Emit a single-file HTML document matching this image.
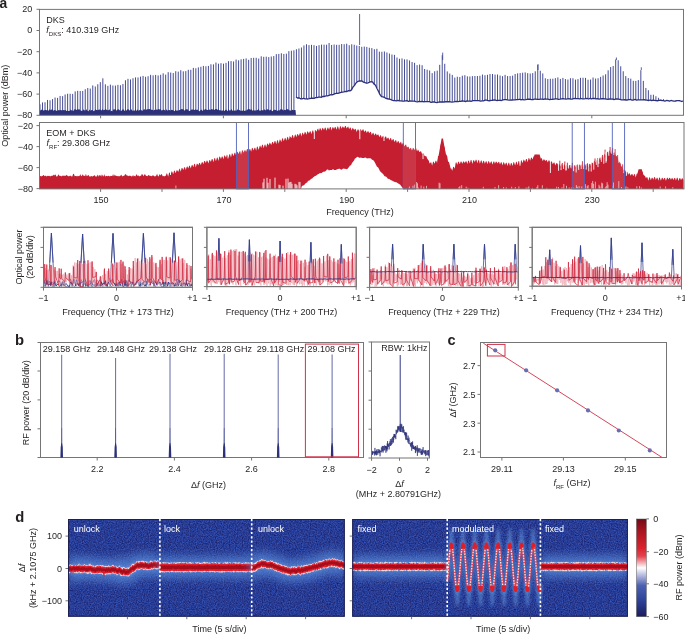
<!DOCTYPE html>
<html><head><meta charset="utf-8"><style>
html,body{margin:0;padding:0;background:#fff;overflow:hidden;width:685px;height:635px;}
svg{display:block;will-change:transform;}
text{font-family:"Liberation Sans", sans-serif;}
</style></head><body>
<svg width="685" height="635" viewBox="0 0 685 635" font-family='"Liberation Sans", sans-serif'>
<rect width="685" height="635" fill="#fff"/>
<text x="-0.5" y="7.9" font-size="13.8" font-weight="bold" fill="#231f20">a</text>
<path d="M39.98 111V104.3M42.5 111V102.46M45.01 111V102.24M47.53 111V99.95M50.04 111V100.28M52.55 111V99.09M55.07 111V97.57M57.58 111V97.87M60.1 111V95.96M62.61 111V96.13M65.12 111V94.48M67.64 111V93.75M70.15 111V93.77M72.67 111V93.92M75.18 111V91.41M77.69 111V90.84M80.21 111V90.99M82.72 111V90.94M85.24 111V89.23M87.75 111V87.98M90.26 111V88.55M92.78 111V85.44M95.29 111V86.51M97.81 111V84.26M100.32 111V82.16M102.83 111V78.31M105.35 111V84.3M107.86 111V85.86M110.38 111V84.62M112.89 111V85.51M115.4 111V85.58M117.92 111V84.87M120.43 111V85.22M122.95 111V83.98M125.46 111V80.29M127.97 111V78.84M130.49 111V79.41M133 111V78.23M135.52 111V77.38M138.03 111V77.46M140.54 111V76.62M143.06 111V75.94M145.57 111V76.81M148.09 111V76.27M150.6 111V74.86M153.11 111V75.34M155.63 111V74.91M158.14 111V75.43M160.66 111V74.76M163.17 111V73.33M165.68 111V74.63M168.2 111V72.2M170.71 111V72.56M173.23 111V73.01M175.74 111V71.2M178.25 111V71.64M180.77 111V70.2M183.28 111V71.35M185.8 111V71.08M188.31 111V69.82M190.82 111V69.81M193.34 111V67.89M195.85 111V68.22M198.37 111V67.4M200.88 111V66.79M203.39 111V65.91M205.91 111V66.26M208.42 111V65.93M210.94 111V64.3M213.45 111V64.38M215.96 111V62.55M218.48 111V63.71M220.99 111V63.2M223.51 111V63.66M226.02 111V62.87M228.53 111V61.2M231.05 111V61.09M233.56 111V61.46M236.08 111V59.59M238.59 111V60.33M241.1 111V59.32M243.62 111V58.88M246.13 111V58.42M248.65 111V59.81M251.16 111V57.94M253.67 111V57.84M256.19 111V57.81M258.7 111V58.59M261.22 111V56.31M263.73 111V56.82M266.24 111V56.68M268.76 111V57.11M271.27 111V56.5M273.79 111V56.07M276.3 111V54.13M278.81 111V53.93M281.33 111V53.26M283.84 111V53.99M286.36 111V53.63M288.87 111V51.16M291.38 111V50.69M293.9 111V50.29M296.41 97.4V49.26M298.93 98.03V48.5M301.44 98.44V47.49M303.95 98.7V45.45M306.47 98.72V44.23M308.98 98.57V45.08M311.5 98.43V44.82M314.01 98.1V45.15M316.52 97.72V45.93M319.04 97.34V45.16M321.55 96.87V44.6M324.07 96.34V44.7M326.58 95.8V44.7M329.09 95.27V43.06M331.61 94.73V44.95M334.12 94.19V44.52M336.64 93.63V44.82M339.15 93.07V44.81M341.66 92.5V44.02M344.18 91.93V44.21M346.69 91.37V43.68M349.21 90.8V45.16M351.72 89.31V44.25M354.23 85.5V44.73M356.75 81.68V45.54M359.26 81.16V45.9M361.78 81.01V46.79M364.29 82.19V46.57M366.8 83.33V46.91M369.32 82.49V47.74M371.83 81.66V48.08M374.35 84.18V49.18M376.86 87.9V48.84M379.37 93.47V51.63M381.89 96.76V51.78M384.4 97.51V51.44M386.92 98.26V52.46M389.43 99.02V53.56M391.94 99.77V54.52M394.46 100.53V54.86M396.97 100.69V57.51M399.49 100.78V58.78M402 100.87V58.43M404.51 100.97V59.38M407.03 101.06V59.41M409.54 101.16V60.44M412.06 101.25V62.01M414.57 101.35V62.82M417.08 101.44V65.17M419.6 101.53V64.56M422.11 101.63V65.22M424.63 101.72V68.99M427.14 101.82V69.69M429.65 101.91V70.48M432.17 102.01V73.14M434.68 102.1V71.25M437.2 102.19V70.65M439.71 102.29V64.82M442.22 102.2V55.23M444.74 102.09V63.82M447.25 101.99V71.41M449.77 101.88V73.53M452.28 101.77V74.92M454.79 101.66V77.57M457.31 101.55V76.73M459.82 101.44V77.05M462.34 101.33V75.71M464.85 101.22V75.18M467.36 101.11V76.33M469.88 101.01V76.48M472.39 100.93V76.13M474.91 100.86V76M477.42 100.79V76.01M479.93 100.72V75.8M482.45 100.65V74.55M484.96 100.58V75.23M487.48 100.51V74.82M489.99 100.44V74.02M492.5 100.37V73.99M495.02 100.3V74.58M497.53 100.23V74.51M500.05 100.16V75.53M502.56 100.09V76.15M505.07 100.02V74.9M507.59 99.95V76.06M510.1 99.88V76.04M512.62 99.81V75.67M515.13 99.74V73.97M517.64 99.67V73.33M520.16 99.6V73.06M522.67 99.56V72.69M525.19 99.53V72.42M527.7 99.49V73.14M530.21 99.46V73.51M532.73 99.42V73.08M535.24 99.39V71.31M537.76 99.35V65.02M540.27 99.31V70.77M542.78 99.28V73.44M545.3 99.24V78.25M547.81 99.21V79.03M550.33 99.17V78.76M552.84 99.14V78.73M555.35 99.1V78.12M557.87 99.07V77.45M560.38 99.03V78.95M562.9 99V77.9M565.41 98.96V79.07M567.92 98.93V79.52M570.44 98.89V78.19M572.95 98.85V78.24M575.47 98.82V79.6M577.98 98.78V79.11M580.49 98.75V77.82M583.01 98.71V77.76M585.52 98.68V77.86M588.04 98.64V79.71M590.55 98.61V79.52M593.06 98.66V77.53M595.58 98.73V78.53M598.09 98.8V78.27M600.61 98.87V76.86M603.12 98.95V75.49M605.63 99.02V74.28M608.15 99.09V70.31M610.66 99.16V67.06M613.18 99.23V65.97M615.69 99.31V59.48M618.2 99.38V60.24M620.72 99.45V66.3M623.23 99.52V71.24M625.75 99.59V76.08M628.26 99.66V78.05M630.77 99.74V78.65M633.29 99.81V80.82M635.8 99.88V80.96M638.32 99.95V80.08M640.83 100.02V70.2M643.34 100.09V80.88M645.86 100.16V87.98M648.37 100.23V90.23M650.89 100.3V94.78M653.4 100.37V94.71M655.91 100.44V96.23M658.43 100.51V97.8M660.94 100.58V99.7M663.46 100.65V99.14M676.03 101.01V100.02" stroke="#303888" stroke-width="0.9" fill="none"/>
<path d="M359.6 45V14M442.7 60V52.6M538 70V64M616.4 60V57.5M641.3 70V67.3" stroke="#3d4592" stroke-width="0.85" fill="none"/>
<path d="M39.5 115.3L39.5 109.01L40.5 110.76L41.5 109.38L42.5 110.04L43.5 110.6L44.5 110.22L45.5 109.72L46.5 110.14L47.5 110.22L48.5 110.73L49.5 109.23L50.5 110.23L51.5 109.55L52.5 109.61L53.5 110.7L54.5 110.12L55.5 110.24L56.5 110.67L57.5 111.01L58.5 109.98L59.5 110.35L60.5 110.11L61.5 110.13L62.5 110.52L63.5 110L64.5 110.17L65.5 110.05L66.5 111.07L67.5 110.54L68.5 110.93L69.5 111.07L70.5 109.57L71.5 110.23L72.5 111.08L73.5 110.85L74.5 109.3L75.5 109.27L76.5 109.97L77.5 109.16L78.5 109.53L79.5 109.16L80.5 110.47L81.5 110.72L82.5 110.97L83.5 109.34L84.5 110.58L85.5 110.45L86.5 109.31L87.5 110.94L88.5 111.13L89.5 109.48L90.5 111.1L91.5 109.88L92.5 110.07L93.5 111.18L94.5 110.83L95.5 109.36L96.5 109.95L97.5 110.13L98.5 109.75L99.5 109.43L100.5 109.7L101.5 110.59L102.5 109.04L103.5 110.22L104.5 109.97L105.5 109.04L106.5 109.73L107.5 110.37L108.5 110.13L109.5 109.14L110.5 111.17L111.5 110.73L112.5 111.14L113.5 109.23L114.5 109.58L115.5 109.09L116.5 110.71L117.5 109.59L118.5 109.29L119.5 109.93L120.5 111.01L121.5 110.8L122.5 109.57L123.5 109.33L124.5 111.02L125.5 110.26L126.5 110.54L127.5 109.2L128.5 109.13L129.5 110.51L130.5 109.94L131.5 109.16L132.5 111.06L133.5 110.4L134.5 110.76L135.5 109.18L136.5 110.88L137.5 109.15L138.5 110.9L139.5 110L140.5 109.75L141.5 110.22L142.5 111.04L143.5 109.59L144.5 109.28L145.5 110.16L146.5 109.52L147.5 109.24L148.5 109.36L149.5 109.11L150.5 109.44L151.5 109.69L152.5 109.67L153.5 110.67L154.5 109.64L155.5 110.1L156.5 109.39L157.5 109.76L158.5 109.04L159.5 109.55L160.5 109.03L161.5 110.61L162.5 110.21L163.5 109.42L164.5 110.04L165.5 111.06L166.5 109.23L167.5 110.8L168.5 109.95L169.5 110.09L170.5 110.84L171.5 109.86L172.5 110.11L173.5 110.51L174.5 111.16L175.5 109.75L176.5 110.83L177.5 110.55L178.5 110.4L179.5 109.89L180.5 109.76L181.5 109.12L182.5 109.29L183.5 109.16L184.5 110.63L185.5 109.56L186.5 109.36L187.5 109.19L188.5 110.85L189.5 110.92L190.5 110.48L191.5 109.62L192.5 109.53L193.5 109.64L194.5 110.01L195.5 109.35L196.5 109.98L197.5 109.58L198.5 111.12L199.5 111.14L200.5 110.2L201.5 109.54L202.5 111.12L203.5 109.68L204.5 109.78L205.5 109L206.5 109.84L207.5 110.04L208.5 110.11L209.5 109.44L210.5 110.11L211.5 109.01L212.5 109.58L213.5 109.2L214.5 109.88L215.5 109.09L216.5 109.05L217.5 109.67L218.5 109.51L219.5 110.29L220.5 110.16L221.5 110.65L222.5 110.45L223.5 110.58L224.5 110.93L225.5 109.86L226.5 109.72L227.5 111.17L228.5 109.33L229.5 110.59L230.5 110.42L231.5 109.1L232.5 110.84L233.5 110.96L234.5 110.38L235.5 110.61L236.5 110.79L237.5 109.31L238.5 110.15L239.5 110.11L240.5 110.84L241.5 110.77L242.5 110.82L243.5 110.28L244.5 110.96L245.5 110.5L246.5 110.53L247.5 109.51L248.5 109.07L249.5 109.29L250.5 109.79L251.5 109.23L252.5 110.84L253.5 110.23L254.5 110.38L255.5 110.38L256.5 110.5L257.5 110.08L258.5 109.01L259.5 110.75L260.5 110.65L261.5 110.11L262.5 110.18L263.5 110.45L264.5 109.15L265.5 110.62L266.5 109.55L267.5 109.16L268.5 109.58L269.5 110.6L270.5 109.45L271.5 110.63L272.5 111.15L273.5 110.09L274.5 109.84L275.5 110.05L276.5 110.5L277.5 110.69L278.5 110.36L279.5 110.41L280.5 109.17L281.5 109.32L282.5 109.56L283.5 110.64L284.5 109.67L285.5 110.25L286.5 109.03L287.5 109.13L288.5 109.59L289.5 110.48L290.5 110.52L291.5 110.49L292.5 109.64L293.5 110.14L294.5 110.02L295.5 110.03L296 115.3Z" fill="#2b3079"/>
<path d="M296 96.99L297.5 97.99L299 97.81L300.5 98.73L302 98.85L303.5 98.26L305 98.77L306.5 98.97L308 99L309.5 98.5L311 98.27L312.5 98.09L314 98.46L315.5 97.64L317 97.72L318.5 97.14L320 97.22L321.5 97.24L323 96.27L324.5 96.5L326 95.93L327.5 95.92L329 95.45L330.5 94.75L332 94.96L333.5 94.31L335 93.62L336.5 93.27L338 93.32L339.5 92.95L341 92.49L342.5 92.03L344 91.85L345.5 91.49L347 91.57L348.5 90.56L350 90.83L351.5 89.91L353 87.06L354.5 85.43L356 82.99L357.5 81.59L359 81.01L360.5 80.99L362 80.91L363.5 82.18L365 82.64L366.5 83.24L368 82.88L369.5 82.25L371 81.57L372.5 81.83L374 84.07L375.5 85.28L377 88.56L378.5 91.33L380 94.66L381.5 96.65L383 96.84L384.5 97.44L386 98.35L387.5 98.75L389 99.14L390.5 99.44L392 100.12L393.5 100.59L395 100.65L396.5 100.84L398 100.36L399.5 100.97L401 100.8L402.5 101.09L404 101.06L405.5 100.83L407 100.7L408.5 101.46L410 100.88L411.5 101.21L413 101.16L414.5 101.18L416 101.59L417.5 101.84L419 101.32L420.5 101.69L422 101.47L423.5 101.73L425 101.65L426.5 101.53L428 101.58L429.5 101.67L431 102.29L432.5 102.02L434 101.85L435.5 102.46L437 102.58L438.5 102.2L440 102.01L441.5 101.99L443 101.84L444.5 101.98L446 101.71L447.5 101.77L449 101.72L450.5 101.9L452 102.09L453.5 101.91L455 101.58L456.5 101.52L458 101.54L459.5 101.36L461 101.26L462.5 100.97L464 101.08L465.5 101.57L467 100.83L468.5 101.07L470 101.1L471.5 101.25L473 100.69L474.5 100.69L476 100.63L477.5 100.71L479 100.7L480.5 101.07L482 100.94L483.5 100.92L485 100.2L486.5 100.16L488 100.66L489.5 100.77L491 100.39L492.5 100.44L494 99.93L495.5 100.2L497 100.59L498.5 100.46L500 100.44L501.5 100.5L503 99.87L504.5 99.72L506 99.72L507.5 99.97L509 100.05L510.5 100.22L512 100L513.5 99.9L515 99.95L516.5 99.66L518 99.7L519.5 99.25L521 99.81L522.5 99.35L524 99.88L525.5 99.64L527 99.34L528.5 99.18L530 99.26L531.5 99.55L533 99.58L534.5 99.09L536 99.03L537.5 99.37L539 99.4L540.5 99.22L542 99.07L543.5 99.35L545 98.86L546.5 99.07L548 99.17L549.5 99.55L551 99.28L552.5 99.45L554 99.1L555.5 98.89L557 98.88L558.5 99.43L560 99.2L561.5 98.86L563 98.61L564.5 98.97L566 99.09L567.5 98.87L569 98.72L570.5 99.02L572 99.21L573.5 98.63L575 98.45L576.5 98.67L578 98.72L579.5 98.91L581 98.5L582.5 98.96L584 98.89L585.5 98.68L587 98.42L588.5 99.01L590 98.46L591.5 98.87L593 98.44L594.5 98.48L596 98.95L597.5 98.62L599 99.19L600.5 98.87L602 98.66L603.5 98.74L605 98.93L606.5 99.18L608 99.44L609.5 98.85L611 99.09L612.5 98.98L614 99.64L615.5 99.01L617 98.98L618.5 99.03L620 99.34L621.5 99.79L623 99.82L624.5 99.74L626 100L627.5 99.99L629 99.55L630.5 99.48L632 100.12L633.5 100.01L635 99.48L636.5 100.03L638 99.85L639.5 99.88L641 99.89L642.5 99.81L644 99.71L645.5 99.98L647 100.08L648.5 100.6L650 99.98L651.5 100.69L653 100.13L654.5 100.29L656 100.7L657.5 100.75L659 100.48L660.5 100.21L662 100.59L663.5 100.55L665 101.03L666.5 100.49L668 100.67L669.5 101.14L671 100.49L672.5 100.84L674 101.2L675.5 101.2L677 100.67L678.5 100.7L680 100.77L681.5 101.49L683 101.01" fill="none" stroke="#2b3079" stroke-width="1.3" stroke-linejoin="round"/>
<rect x="39.5" y="9.4" width="644" height="105.9" stroke="#757575" stroke-width="1" fill="none" />
<line x1="36.5" y1="9.3" x2="39.5" y2="9.3" stroke="#757575" stroke-width="1" />
<text x="32.3" y="12.21" font-size="9" text-anchor="end" fill="#231f20" >20</text>
<line x1="36.5" y1="30.5" x2="39.5" y2="30.5" stroke="#757575" stroke-width="1" />
<text x="32.3" y="33.41" font-size="9" text-anchor="end" fill="#231f20" >0</text>
<line x1="36.5" y1="51.7" x2="39.5" y2="51.7" stroke="#757575" stroke-width="1" />
<text x="32.3" y="54.61" font-size="9" text-anchor="end" fill="#231f20" >−20</text>
<line x1="36.5" y1="72.9" x2="39.5" y2="72.9" stroke="#757575" stroke-width="1" />
<text x="32.3" y="75.81" font-size="9" text-anchor="end" fill="#231f20" >−40</text>
<line x1="36.5" y1="94.1" x2="39.5" y2="94.1" stroke="#757575" stroke-width="1" />
<text x="32.3" y="97.01" font-size="9" text-anchor="end" fill="#231f20" >−60</text>
<line x1="36.5" y1="115.3" x2="39.5" y2="115.3" stroke="#757575" stroke-width="1" />
<text x="32.3" y="118.21" font-size="9" text-anchor="end" fill="#231f20" >−80</text>
<line x1="100.6" y1="115.3" x2="100.6" y2="118.3" stroke="#757575" stroke-width="1" />
<line x1="223.4" y1="115.3" x2="223.4" y2="118.3" stroke="#757575" stroke-width="1" />
<line x1="346.2" y1="115.3" x2="346.2" y2="118.3" stroke="#757575" stroke-width="1" />
<line x1="469" y1="115.3" x2="469" y2="118.3" stroke="#757575" stroke-width="1" />
<line x1="591.8" y1="115.3" x2="591.8" y2="118.3" stroke="#757575" stroke-width="1" />
<text x="46.3" y="22.6" font-size="9" text-anchor="start" fill="#231f20" >DKS</text>
<text x="46.3" y="33.4" font-size="9" fill="#231f20"><tspan font-style="italic">f</tspan><tspan font-size="6" dy="2.4">DKS</tspan><tspan dy="-2.4">: 410.319 GHz</tspan></text>
<path d="M39.5 188.9L39.5 176.59L40.3 175.89L41.1 176.26L41.9 176.36L42.7 175.87L43.5 174.72L44.3 176.25L45.1 175.57L45.9 176.06L46.7 176.58L47.5 175.8L48.3 176.06L49.1 175.71L49.9 176.31L50.7 176.34L51.5 175.84L52.3 175.87L53.1 175.55L53.9 174.61L54.7 175.52L55.5 174.32L56.3 176.51L57.1 176.51L57.9 175.51L58.7 174.21L59.5 175.9L60.3 175.86L61.1 176.15L61.9 176.35L62.7 175.55L63.5 175.75L64.3 175.84L65.1 175.66L65.9 175.71L66.7 174.79L67.5 175.82L68.3 176.55L69.1 175.72L69.9 176.19L70.7 175.59L71.5 176.39L72.3 176.5L73.1 174.01L73.9 173.87L74.7 176.15L75.5 175.93L76.3 176.02L77.1 176.38L77.9 175.65L78.7 176.22L79.5 175.95L80.3 173.94L81.1 176.22L81.9 175.79L82.7 174.13L83.5 175.78L84.3 175.81L85.1 176.19L85.9 173.84L86.7 176.21L87.5 175.71L88.3 174.69L89.1 175.93L89.9 176.67L90.7 176.25L91.5 176.09L92.3 176.74L93.1 175.87L93.9 175.88L94.7 175.02L95.5 176.57L96.3 176.64L97.1 175.86L97.9 174.56L98.7 176.69L99.5 174.67L100.3 176.25L101.1 174.19L101.9 176.71L102.7 174.47L103.5 176.74L104.3 173.95L105.1 176.74L105.9 175.72L106.7 176.08L107.5 176.33L108.3 175.82L109.1 175.88L109.9 176.56L110.7 175.83L111.5 176.06L112.3 176.04L113.1 174.06L113.9 176.59L114.7 174.49L115.5 175.64L116.3 175.72L117.1 176.19L117.9 175.92L118.7 176.22L119.5 176.29L120.3 176.05L121.1 174.53L121.9 175.81L122.7 176.41L123.5 175.74L124.3 175.66L125.1 174.24L125.9 174.25L126.7 175.57L127.5 175.61L128.3 176.37L129.1 175.57L129.9 175.92L130.7 175.64L131.5 176.58L132.3 176.37L133.1 174.94L133.9 176.51L134.7 175.63L135.5 176.47L136.3 174.03L137.1 175.6L137.9 175.72L138.7 175.57L139.5 176.42L140.3 175.69L141.1 175.74L141.9 173.74L142.7 174.78L143.5 176.35L144.3 174.56L145.1 174.19L145.9 175.74L146.7 175.94L147.5 176.3L148.3 174.81L149.1 175.74L149.9 175.59L150.7 175.96L151.5 176.18L152.3 175.56L153.1 175.44L153.9 175.69L154.7 176.52L155.5 176.19L156.3 175.48L157.1 173.81L157.9 176L158.7 176.53L159.5 173.99L160.3 175.62L161.1 174.21L161.9 174.24L162.7 176.3L163.5 175.91L164.3 176.38L165.1 175.7L165.9 175.7L166.55 173.14L167.25 173.68L168.15 176.81L169.06 172.76L169.76 172.38L170.66 174.65L171.58 171.14L172.28 171.77L173.18 174.34L174.09 170.62L174.79 170.92L175.69 173.27L176.61 170.35L177.31 170.15L178.21 172.06L179.12 169.46L179.82 168.6L180.72 171.72L181.63 168.11L182.33 167.94L183.23 170.01L184.15 167.63L184.85 166.86L185.75 170.04L186.66 166.94L187.36 166.14L188.26 168.56L189.18 165.86L189.88 165.76L190.78 168.61L191.69 165.32L192.39 164.68L193.29 167.27L194.2 164.06L194.9 163.81L195.8 167.56L196.72 163.8L197.42 163.74L198.32 165.23L199.23 163.12L199.93 163.02L200.83 165.31L201.75 162.27L202.45 161.98L203.35 164.14L204.26 160.89L204.96 161.02L205.86 163.06L206.77 160.38L207.47 160.79L208.37 163.49L209.29 160.14L209.99 160.01L210.89 161.98L211.8 159.11L212.5 158.99L213.4 162.18L214.32 158.36L215.02 158.1L215.92 161.19L216.83 158.08L217.53 157.33L218.43 160.9L219.34 156.41L220.04 156.66L220.94 159.02L221.86 156.42L222.56 156.62L223.46 159.22L224.37 155.28L225.07 155.84L225.97 157.75L226.89 154.48L227.59 155.14L228.49 157.57L229.4 154.21L230.1 154.18L231 157.48L231.91 153.27L232.61 153.64L233.51 156.25L234.43 152.97L235.13 152.55L236.03 155.61L236.94 152.06L237.64 151.8L238.54 154.07L239.46 151.49L240.16 150.95L241.06 154.71L241.97 150.39L242.67 150.27L243.57 152.64L244.48 150.56L245.18 149.97L246.08 152.08L247 149.04L247.7 149.05L248.6 152.45L249.51 148.98L250.21 149.04L251.11 151.87L252.03 147.67L252.73 148.19L253.63 150.45L254.54 147.67L255.24 147.68L256.14 150.66L257.05 146.18L257.75 146.98L258.65 149.96L259.57 146.31L260.27 145.48L261.17 147.94L262.08 144.74L262.78 144.66L263.68 148.35L264.6 144.69L265.3 144.51L266.2 147.57L267.11 143.77L267.81 143.42L268.71 145.52L269.62 142.49L270.32 143.15L271.22 144.96L272.14 141.97L272.84 142.07L273.74 143.89L274.65 141.09L275.35 141.12L276.25 144.32L277.17 140.28L277.87 140.23L278.77 143.85L279.68 139.49L280.38 139.84L281.28 142.3L282.19 138.23L282.89 138.61L283.79 141.18L284.71 138.18L285.41 137.75L286.31 140.87L287.22 137.15L287.92 136.83L288.82 140.36L289.74 135.91L290.44 136.63L291.34 138.32L292.25 135.02L292.95 135.22L293.85 138.59L294.76 135.21L295.46 134.23L296.36 137.31L297.28 133.92L297.98 134.23L298.88 135.97L299.79 133.25L300.49 133.1L301.39 136.45L302.31 132.46L303.01 133.15L303.91 134.91L304.82 131.87L305.52 132.36L306.42 134.75L307.33 131.22L308.03 131.75L308.93 133.46L309.85 131.35L310.55 131.26L311.45 134.18L312.36 130.64L313.06 130.37L313.96 132.94L314.88 129.69L315.58 130.19L316.48 131.65L317.39 129.36L318.09 128.5L318.99 131.04L319.9 127.91L320.6 128.55L321.5 130.75L322.42 127.65L323.12 128.16L324.02 129.9L324.93 127.56L325.63 127.63L326.53 130.65L327.45 127.67L328.15 127.56L329.05 129.75L329.96 127.07L330.66 126.9L331.56 130.46L332.47 127.22L333.17 127.3L334.07 129.07L334.99 126.82L335.69 127.16L336.59 129.63L337.5 126.33L338.2 126.67L339.1 130L340.02 126.27L340.72 126.22L341.62 128.77L342.53 126.55L343.23 126.69L344.13 128.33L345.04 125.95L345.74 126.04L346.64 128.58L347.56 126.93L348.26 126.57L349.16 129.2L350.07 127.21L350.77 128L351.67 130.54L352.59 127.74L353.29 128.6L354.19 130.02L355.1 128.64L355.8 129.23L356.7 131.88L357.61 129.53L358.31 129.23L359.21 131.35L360.13 129.44L360.83 128.91L361.73 131.37L362.64 129.55L363.34 129.19L364.24 132.08L365.16 130.71L365.86 130.61L366.76 133.02L367.67 131.31L368.37 131.14L369.27 133.13L370.18 132.04L370.88 131.84L371.78 134.97L372.7 133.1L373.4 132.63L374.3 135.43L375.21 133.7L375.91 133.38L376.81 135.57L377.73 134.44L378.43 134.6L379.33 137.31L380.24 135.17L380.94 135.33L381.84 137.9L382.75 135.92L383.45 135.73L384.35 138.04L385.27 136.75L385.97 136.22L386.87 139.08L387.78 137.76L388.48 137.69L389.38 140.31L390.3 138.08L391 138.25L391.9 140.85L392.81 139.3L393.51 139.09L394.41 142.09L395.32 140.49L396.02 139.74L396.92 142.94L397.84 141.31L398.54 140.92L399.44 143.62L400.35 142.48L401.05 141.55L401.95 144.69L402.87 142.72L403.57 143.34L404.47 146.45L405.38 144.87L406.08 144.45L406.98 147.58L407.89 146.69L408.59 146.86L409.49 149.27L410.41 148.04L411.11 148.23L412.01 150.54L412.92 147.81L413.62 148.35L414.52 149.98L415.44 148.57L416.14 148.28L417.04 151.46L417.95 149.57L418.65 150.43L419.55 152.29L420.46 151.16L421.16 151.38L422.06 154.02L422.98 152.98L423.68 153.38L424.58 155.92L425.49 156.26L426.19 155.92L427.09 158.24L428.01 159.86L428.71 160.38L429.61 163.53L430.52 162.6L431.22 162.29L432.12 165.72L433.03 161.81L433.73 161.63L434.63 163.85L435.55 160.67L436.25 160.7L437.15 163.23L438.06 155.85L438.76 155.95L439.66 157.99L440.58 144.66L441.28 144.05L442.18 147.04L443.09 145.47L443.79 145.47L444.69 147.69L445.6 154.16L446.3 154.41L447.2 156.29L448.12 161.94L448.82 161.47L449.72 164.84L450.63 168.42L451.33 168.53L452.23 170.81L453.15 167.09L453.85 166.85L454.75 168.87L455.66 162.76L456.36 162.32L457.26 164.68L458.17 161.69L458.87 161.86L459.77 164.36L460.69 161.55L461.39 161.57L462.29 163.76L463.2 161.61L463.9 161.54L464.8 162.99L465.72 161.29L466.42 161.37L467.32 164.07L468.23 160.38L468.93 161.07L469.83 163.58L470.74 160.03L471.44 160.03L472.34 163.93L473.26 160.45L473.96 160.04L474.86 162.18L475.77 159.77L476.47 159.86L477.37 163.22L478.29 160.18L478.99 159.99L479.89 163.67L480.8 160.84L481.5 160.22L482.4 163.85L483.31 160.87L484.01 161.04L484.91 163.66L485.83 161.37L486.53 161.26L487.43 164.18L488.34 160.88L489.04 161.38L489.94 163.84L490.86 161.64L491.56 161.33L492.46 164.68L493.37 161.66L494.07 161.37L494.97 163.73L495.88 161.46L496.58 161.81L497.48 163.62L498.4 162L499.1 161.67L500 164.61L500.91 162.24L501.61 162.28L502.51 165.49L503.43 161.96L504.13 162.79L505.03 164.99L505.94 162.72L506.64 162.83L507.54 165.88L508.45 162.75L509.15 162.79L510.05 166.3L510.97 162.66L511.67 163.22L512.57 165.93L513.48 162L514.18 162.58L515.08 165.4L516 162.22L516.7 161.62L517.6 165.26L518.51 161.12L519.21 161.1L520.11 164.43L521.02 159.97L521.72 160.65L522.62 163.26L523.54 159.59L524.24 160.11L525.14 162.11L526.05 159.05L526.75 159.1L527.65 162.16L528.57 158.1L529.27 158.33L530.17 160.85L531.08 157.44L531.78 157.71L532.68 159.61L533.59 156.46L534.29 156.03L535.19 158.73L536.11 154.64L536.81 154.88L537.71 158.33L538.62 157.26L539.32 157.39L540.22 159.4L541.14 158.32L541.84 158.31L542.74 161.26L543.65 159.33L544.35 159.48L545.25 160.97L546.16 160.11L546.86 160.27L547.76 162.57L548.68 160.19L549.38 160.44L550.28 162.36L551.19 161.13L551.89 161.86L552.79 164.23L553.71 162.39L554.41 162.52L555.31 165.57L556.22 163.13L556.92 163.14L557.82 165.85L558.73 164.01L559.43 163.91L560.33 166.74L561.25 163.99L561.95 164.45L562.85 166.81L563.76 164.83L564.46 164.17L565.36 166.59L566.28 164.39L566.98 165.13L567.88 168.2L568.79 165.3L569.49 165.01L570.39 168.32L571.3 165.71L572 165.49L572.9 167.59L573.82 165.11L574.52 165.23L575.42 167.58L576.33 164.99L577.03 165.2L577.93 168.44L578.85 164.35L579.55 164.87L580.45 166.57L581.36 164.16L582.06 164.85L582.96 167.28L583.87 164.71L584.57 164.23L585.47 166.01L586.39 163.92L587.09 164.12L587.99 167.42L588.9 164.26L589.6 163.75L590.5 166.22L591.42 162.31L592.12 162.86L593.02 164.79L593.93 160.95L594.63 160.82L595.53 163.01L596.44 160.08L597.14 159.52L598.04 163.33L598.96 158.08L599.66 158.86L600.56 160.42L601.47 156.02L602.17 156.73L603.07 158.64L603.99 154.54L604.69 153.99L605.59 156.1L606.5 152.38L607.2 152.32L608.1 155.35L609.01 150.99L609.71 150.34L610.61 153.59L611.53 150.34L612.23 150.09L613.13 153.51L614.04 152.1L614.74 152.81L615.64 155.33L616.56 156.17L617.26 156.17L618.16 159.53L619.07 162.21L619.77 161.47L620.67 164.15L621.58 166.55L622.28 165.99L623.18 169.57L624.1 170.24L624.8 169.81L625.7 172.62L626.61 171.89L627.31 171.75L628.21 174.73L629.13 173.02L629.83 173.67L630.73 175.73L631.64 173.98L632.34 173.96L633.24 176.29L634.15 173.89L634.85 174.29L635.75 177.4L636.67 173.63L637.37 173.41L638.27 175.57L639.18 171.03L639.88 171.95L640.78 174.44L641.7 172L642.4 171.51L643.3 174.47L644.21 175.7L644.91 175.55L645.81 178L646.72 177.14L647.42 177.26L648.32 180.63L649.24 177.26L649.94 177.57L650.84 180.17L651.75 177.83L652.45 177.74L653.35 179.65L654.27 176.99L654.97 177.25L655.87 179.95L656.78 177.63L657.48 177.86L658.38 180.84L659.29 177.14L659.99 177.93L660.89 180.76L661.81 178.02L662.51 177.72L663.41 179.84L664.32 178.05L665.02 178.01L665.92 180.63L666.84 178.17L667.54 177.6L668.44 179.61L669.35 177.86L670.05 178.11L670.95 179.87L671.86 178.11L672.56 178.29L673.46 179.98L674.38 178.02L675.08 178.09L675.98 180.45L676.89 177.67L677.59 177.72L678.49 181.02L679.41 178.31L680.11 177.98L681.01 179.88L681.92 178.38L682.62 178.35L683.52 180.19L683.5 188.9L404 188.9L404 189L403 188.28L402 187.16L401 185.63L400 184.47L399 184.11L398 183.13L397 182.63L396 182.12L395 182.24L394 181.42L393 181.24L392 180.62L391 180.34L390 179.48L389 178.63L388 179.06L387 177.59L386 176.55L385 176.46L384 175.62L383 173.85L382 173.36L381 172.03L380 171.22L379 168.92L378 167.24L377 166.69L376 164.84L375 162.68L374 161.08L373 159.91L372 159.74L371 158.51L370 158.34L369 158.19L368 158.33L367 158.58L366 157.8L365 157.61L364 157.88L363 157.93L362 157.89L361 157.55L360 157.76L359 157.75L358 156.86L357 157.05L356 157.94L355 158.41L354 160.54L353 161.79L352 162.95L351 165.24L350 165.54L349 167.06L348 168.3L347 169.28L346 169L345 168.73L344 168.86L343 168.58L342 169.61L341 169.7L340 168.84L339 168.69L338 169.01L337 169.19L336 169.91L335 169.98L334 169.96L333 169.08L332 170.03L331 170L330 169.99L329 170.46L328 169.4L327 169.57L326 170.82L325 171.55L324 171.74L323 171.8L322 172.66L321 173.37L320 173.1L319 173.87L318 174.3L317 174.65L316 175.74L315 176.07L314 176.86L313 177.45L312 178.8L311 178.71L310 180.26L309 180.4L308 180.97L307 182.81L306 182.72L305 184.34L304 185.03L303 185.82L302 185.69L301 188.84L301 188.9Z" fill="#c41e30" fill-rule="evenodd"/>
<path d="M437.3 163L441.6 138.5L443 138.5L447.3 163Z M532.5 161L534.6 154.5L539.6 154.5L541.5 161Z M636.5 177L638.6 169.3L641.8 169.3L643.8 177Z" fill="#c41e30"/>
<path d="M558.55 160.15V170.79M561.06 160.94V170.08M563.58 161.26V168.96M566.09 161.55V169.94M568.61 161.84V168.55M571.12 162.12V168.41M573.63 162.39V171.16M576.15 162.14V172.49M578.66 161.88V169.94M581.18 161.62V168.98M583.69 161.37V169.04M586.2 161.11V169.57M588.72 160.86V171.37M591.23 160.6V171.49M593.75 159.2V169.68M596.26 157.79V164.85M598.77 156.39V163.82M601.29 154.97V161.97M603.8 152.77V163.72M606.32 150.57V161.19M608.83 148.37V155.81M611.34 147.48V153.76M613.86 147.57V155.04M616.37 149.93V156.01M618.89 155.08V162.78M621.4 160.25V166.26M623.91 164.44V173.07M626.43 167.61V175.78" stroke="#fff" stroke-width="0.9" fill="none"/>
<path d="M557.3 167.15V163.66M559.81 167.94V160.73M562.33 168.26V163M564.84 168.55V161.44M567.36 168.84V162.7M569.87 169.12V165.02M572.38 169.39V162.82M574.9 169.14V165.41M577.41 168.88V164.55M579.93 168.62V164.85M582.44 168.37V161.17M584.95 168.11V164.27M587.47 167.86V163.27M589.98 167.6V164.03M592.5 166.2V162.92M595.01 164.79V158.45M597.52 163.39V158M600.04 161.97V157.68M602.55 159.77V154.95M605.07 157.57V149.58M607.58 155.37V151.88M610.09 154.48V147M612.61 154.57V147.94M615.12 156.93V149.03M617.64 162.08V155.04M620.15 167.25V163.55M622.66 171.44V164.28M625.18 174.61V170.68" stroke="#c41e30" stroke-width="0.9" fill="none"/>
<path d="M314.3 129V139M359.8 128.2V139.2M170.5 171.01V175.01M228 153.42V158.42M384 134.98V140.98M423 152.12V159.12M520 159.7V165.7M550.4 159.98V172.98M566 163.68V170.68M598 158.12V167.12M606 151.75V162.75" stroke="#fff" stroke-width="0.9" fill="none"/>
<path d="M263 188.9V182.43M264 188.9V178.71M267 188.9V177.75M268 188.9V182.78M270 188.9V178.96M275 188.9V177.62M279 188.9V184.7M280 188.9V185M283 188.9V185.65M286 188.9V178.77M288 188.9V178.55M289 188.9V182.65M290 188.9V181.94M291 188.9V181.9M292 188.9V183.79M295 188.9V183.76M296 188.9V184.14M297 188.9V185.29M299 188.9V181.88M300 188.9V182.1" stroke="#fff" stroke-width="0.85" fill="none"/>
<path d="M175.9 188.9V185.5M409.4 188.9V186.57M413 188.9V185.78M414.8 188.9V184.56M416.6 188.9V181.97M417.5 188.9V183.27M418.4 188.9V187.5M421.1 188.9V185.57M423.8 188.9V186.55M426.5 188.9V185.88M439.1 188.9V182.68M440 188.9V183.31M459 188.9V186.99M459.9 188.9V186.17M461.7 188.9V185.14M466.2 188.9V186.62M468 188.9V187.76M483.3 188.9V186.78M495 188.9V186.95M498.6 188.9V185.22M503.6 188.9V187.03M506.3 188.9V187.35M511.7 188.9V186.67M515.3 188.9V186.99M518.9 188.9V186.41M526.1 188.9V187.43M527.9 188.9V187.6M528.8 188.9V186.33M532.4 188.9V187.86M536.9 188.9V187.1M537.8 188.9V185.19M542.3 188.9V185.23M546.8 188.9V187.77M556.7 188.9V186.73M558.5 188.9V186.97M562 188.9V187.21M563.8 188.9V184.01M566.5 188.9V185.76M569.2 188.9V187.41M571.9 188.9V187.14M573.7 188.9V187.76M576.4 188.9V185.08M577.3 188.9V186.82M579.1 188.9V186.13M581.8 188.9V186.49M585.4 188.9V184.1M587.2 188.9V186.09M588.1 188.9V185.07M591.8 188.9V183.03M592.7 188.9V180.92M593.6 188.9V183.8M595.4 188.9V181.73M599 188.9V184.78M599.9 188.9V186.48M601.7 188.9V182.6M602.6 188.9V183.4M605.3 188.9V187.37M606.2 188.9V186.09M607.1 188.9V182.17M608 188.9V184.67M612.5 188.9V185.69M613.4 188.9V182.46M618.8 188.9V181.13M621.5 188.9V186.98M625.1 188.9V187.58M626 188.9V186.32M627.8 188.9V187.28M636.8 188.9V186.23M639.5 188.9V186.19M641.3 188.9V187.41M660.2 188.9V186.5M665.6 188.9V186.49M672.8 188.9V187.18" stroke="#fff" stroke-width="0.6" fill="none"/>
<rect x="236.4" y="122.5" width="12.1" height="66.4" fill="#fff" fill-opacity="0.11" stroke="#5263bd" stroke-width="0.9"/>
<rect x="403.3" y="122.5" width="12.2" height="66.4" fill="#fff" fill-opacity="0.11" stroke="#5263bd" stroke-width="0.9"/>
<rect x="572.2" y="122.5" width="12.2" height="66.4" fill="#fff" fill-opacity="0.11" stroke="#5263bd" stroke-width="0.9"/>
<rect x="612.3" y="122.5" width="12.3" height="66.4" fill="#fff" fill-opacity="0.11" stroke="#5263bd" stroke-width="0.9"/>
<rect x="39.5" y="122.5" width="644.5" height="66.4" stroke="#757575" stroke-width="1" fill="none" />
<line x1="36.5" y1="125.6" x2="39.5" y2="125.6" stroke="#757575" stroke-width="1" />
<text x="33" y="128.91" font-size="9" text-anchor="end" fill="#231f20" >−20</text>
<line x1="36.5" y1="146.6" x2="39.5" y2="146.6" stroke="#757575" stroke-width="1" />
<text x="33" y="149.91" font-size="9" text-anchor="end" fill="#231f20" >−40</text>
<line x1="36.5" y1="167.6" x2="39.5" y2="167.6" stroke="#757575" stroke-width="1" />
<text x="33" y="170.91" font-size="9" text-anchor="end" fill="#231f20" >−60</text>
<line x1="36.5" y1="188.6" x2="39.5" y2="188.6" stroke="#757575" stroke-width="1" />
<text x="33" y="191.91" font-size="9" text-anchor="end" fill="#231f20" >−80</text>
<line x1="100.6" y1="188.9" x2="100.6" y2="191.9" stroke="#757575" stroke-width="1" />
<line x1="162" y1="188.9" x2="162" y2="191.9" stroke="#757575" stroke-width="1" />
<line x1="223.4" y1="188.9" x2="223.4" y2="191.9" stroke="#757575" stroke-width="1" />
<line x1="284.8" y1="188.9" x2="284.8" y2="191.9" stroke="#757575" stroke-width="1" />
<line x1="346.2" y1="188.9" x2="346.2" y2="191.9" stroke="#757575" stroke-width="1" />
<line x1="407.6" y1="188.9" x2="407.6" y2="191.9" stroke="#757575" stroke-width="1" />
<line x1="469" y1="188.9" x2="469" y2="191.9" stroke="#757575" stroke-width="1" />
<line x1="530.4" y1="188.9" x2="530.4" y2="191.9" stroke="#757575" stroke-width="1" />
<line x1="591.8" y1="188.9" x2="591.8" y2="191.9" stroke="#757575" stroke-width="1" />
<line x1="653.2" y1="188.9" x2="653.2" y2="191.9" stroke="#757575" stroke-width="1" />
<text x="101.1" y="203.01" font-size="9" text-anchor="middle" fill="#231f20" >150</text>
<text x="223.9" y="203.01" font-size="9" text-anchor="middle" fill="#231f20" >170</text>
<text x="346.7" y="203.01" font-size="9" text-anchor="middle" fill="#231f20" >190</text>
<text x="469.5" y="203.01" font-size="9" text-anchor="middle" fill="#231f20" >210</text>
<text x="592.3" y="203.01" font-size="9" text-anchor="middle" fill="#231f20" >230</text>
<text x="360" y="215.01" font-size="9" text-anchor="middle" fill="#231f20" >Frequency (THz)</text>
<text x="46.3" y="135.6" font-size="9" text-anchor="start" fill="#231f20" >EOM + DKS</text>
<text x="46.6" y="146.3" font-size="9" fill="#231f20"><tspan font-style="italic">f</tspan><tspan font-size="6" dy="2.4">RF</tspan><tspan dy="-2.4">: 29.308 GHz</tspan></text>
<text transform="translate(7.6,105.8) rotate(-90)" font-size="9" text-anchor="middle" fill="#231f20">Optical power (dBm)</text>
<rect x="43.5" y="227.3" width="149" height="60" stroke="#757575" stroke-width="1" fill="none" />
<line x1="40.5" y1="227.3" x2="43.5" y2="227.3" stroke="#757575" stroke-width="1" />
<line x1="40.5" y1="247.4" x2="43.5" y2="247.4" stroke="#757575" stroke-width="1" />
<line x1="40.5" y1="267.4" x2="43.5" y2="267.4" stroke="#757575" stroke-width="1" />
<line x1="40.5" y1="287.3" x2="43.5" y2="287.3" stroke="#757575" stroke-width="1" />
<line x1="43.5" y1="287.3" x2="43.5" y2="290.6" stroke="#757575" stroke-width="1" />
<line x1="116.51" y1="287.3" x2="116.51" y2="290.6" stroke="#757575" stroke-width="1" />
<line x1="192.5" y1="287.3" x2="192.5" y2="290.6" stroke="#757575" stroke-width="1" />
<text x="43.5" y="300.7" font-size="9" text-anchor="middle" fill="#231f20" >−1</text>
<text x="116.51" y="300.7" font-size="9" text-anchor="middle" fill="#231f20" >0</text>
<text x="192.5" y="300.7" font-size="9" text-anchor="middle" fill="#231f20" >+1</text>
<text x="118" y="314.6" font-size="9" text-anchor="middle" fill="#231f20" >Frequency (THz + 173 THz)</text>
<rect x="206.9" y="227.3" width="149.3" height="59.3" stroke="#757575" stroke-width="1" fill="none" />
<line x1="203.9" y1="227.3" x2="206.9" y2="227.3" stroke="#757575" stroke-width="1" />
<line x1="203.9" y1="247.4" x2="206.9" y2="247.4" stroke="#757575" stroke-width="1" />
<line x1="203.9" y1="267.4" x2="206.9" y2="267.4" stroke="#757575" stroke-width="1" />
<line x1="203.9" y1="286.6" x2="206.9" y2="286.6" stroke="#757575" stroke-width="1" />
<line x1="206.9" y1="286.6" x2="206.9" y2="289.9" stroke="#757575" stroke-width="1" />
<line x1="280.06" y1="286.6" x2="280.06" y2="289.9" stroke="#757575" stroke-width="1" />
<line x1="356.2" y1="286.6" x2="356.2" y2="289.9" stroke="#757575" stroke-width="1" />
<text x="206.9" y="300.7" font-size="9" text-anchor="middle" fill="#231f20" >−1</text>
<text x="280.06" y="300.7" font-size="9" text-anchor="middle" fill="#231f20" >0</text>
<text x="356.2" y="300.7" font-size="9" text-anchor="middle" fill="#231f20" >+1</text>
<text x="281.55" y="314.6" font-size="9" text-anchor="middle" fill="#231f20" >Frequency (THz + 200 THz)</text>
<rect x="369.6" y="227.3" width="148.7" height="60.1" stroke="#757575" stroke-width="1" fill="none" />
<line x1="366.6" y1="227.3" x2="369.6" y2="227.3" stroke="#757575" stroke-width="1" />
<line x1="366.6" y1="257.3" x2="369.6" y2="257.3" stroke="#757575" stroke-width="1" />
<line x1="366.6" y1="287.4" x2="369.6" y2="287.4" stroke="#757575" stroke-width="1" />
<line x1="369.6" y1="287.4" x2="369.6" y2="290.7" stroke="#757575" stroke-width="1" />
<line x1="442.46" y1="287.4" x2="442.46" y2="290.7" stroke="#757575" stroke-width="1" />
<line x1="518.3" y1="287.4" x2="518.3" y2="290.7" stroke="#757575" stroke-width="1" />
<text x="369.6" y="300.7" font-size="9" text-anchor="middle" fill="#231f20" >−1</text>
<text x="442.46" y="300.7" font-size="9" text-anchor="middle" fill="#231f20" >0</text>
<text x="518.3" y="300.7" font-size="9" text-anchor="middle" fill="#231f20" >+1</text>
<text x="443.95" y="314.6" font-size="9" text-anchor="middle" fill="#231f20" >Frequency (THz + 229 THz)</text>
<rect x="532.2" y="227.3" width="149.3" height="58.9" stroke="#757575" stroke-width="1" fill="none" />
<line x1="529.2" y1="227.3" x2="532.2" y2="227.3" stroke="#757575" stroke-width="1" />
<line x1="529.2" y1="247.4" x2="532.2" y2="247.4" stroke="#757575" stroke-width="1" />
<line x1="529.2" y1="267.4" x2="532.2" y2="267.4" stroke="#757575" stroke-width="1" />
<line x1="529.2" y1="286.2" x2="532.2" y2="286.2" stroke="#757575" stroke-width="1" />
<line x1="532.2" y1="286.2" x2="532.2" y2="289.5" stroke="#757575" stroke-width="1" />
<line x1="605.36" y1="286.2" x2="605.36" y2="289.5" stroke="#757575" stroke-width="1" />
<line x1="681.5" y1="286.2" x2="681.5" y2="289.5" stroke="#757575" stroke-width="1" />
<text x="532.2" y="300.7" font-size="9" text-anchor="middle" fill="#231f20" >−1</text>
<text x="605.36" y="300.7" font-size="9" text-anchor="middle" fill="#231f20" >0</text>
<text x="681.5" y="300.7" font-size="9" text-anchor="middle" fill="#231f20" >+1</text>
<text x="606.85" y="314.6" font-size="9" text-anchor="middle" fill="#231f20" >Frequency (THz + 234 THz)</text>
<text transform="translate(22.2,257) rotate(-90)" font-size="9" text-anchor="middle" fill="#231f20">Optical power</text>
<text transform="translate(33.2,257) rotate(-90)" font-size="9" text-anchor="middle" fill="#231f20">(20 dB/div)</text>
<clipPath id="spc0"><rect x="43.4" y="227.3" width="149.1" height="60"/></clipPath>
<g clip-path="url(#spc0)">
<path d="M43.4 284.78L44.3 279.93L45.2 285.86L46.1 282.72L47 284.53L47.9 280.55L48.8 282.84L49.7 281.04L50.6 285.68L51.5 281.85L52.4 282.42L53.3 283.55L54.2 280.99L55.1 280.41L56 286.03L56.9 284.86L57.8 284.33L58.7 285.44L59.6 286.33L60.5 284.92L61.4 285.5L62.3 281.55L63.2 283.65L64.1 286.04L65 284.6L65.9 283.49L66.8 284.31L67.7 285.69L68.6 286.27L69.5 286.57L70.4 278.95L71.3 281.12L72.2 286.2L73.1 281.41L74 279.06L74.9 282.72L75.8 286.06L76.7 283.33L77.6 283.76L78.5 285.55L79.4 282.89L80.3 286.58L81.2 279.61L82.1 282.04L83 282.18L83.9 279.47L84.8 281.97L85.7 285.13L86.6 285.16L87.5 285.88L88.4 286.5L89.3 280.91L90.2 280.34L91.1 284.8L92 285.58L92.9 282.09L93.8 280.28L94.7 279.55L95.6 285.69L96.5 280.82L97.4 280.42L98.3 281.2L99.2 284.58L100.1 285.58L101 280.46L101.9 284.63L102.8 284.27L103.7 282.82L104.6 284.26L105.5 280.41L106.4 285.21L107.3 286.43L108.2 282.69L109.1 282.18L110 280.51L110.9 281.52L111.8 279.74L112.7 279.38L113.6 283.28L114.5 283.24L115.4 285.76L116.3 284.78L117.2 282.57L118.1 286.23L119 281.67L119.9 285.72L120.8 283.69L121.7 279.15L122.6 286.17L123.5 286.44L124.4 283.72L125.3 285.54L126.2 281.36L127.1 286.59L128 280.32L128.9 280.19L129.8 280.8L130.7 283.83L131.6 284.9L132.5 281.89L133.4 283.12L134.3 283.86L135.2 284.49L136.1 283.73L137 281.85L137.9 280.46L138.8 279.75L139.7 285.71L140.6 284.81L141.5 283.69L142.4 282.72L143.3 284.42L144.2 285.51L145.1 286.2L146 284.6L146.9 283.55L147.8 279.14L148.7 279.71L149.6 280.1L150.5 279.11L151.4 279.23L152.3 282.25L153.2 280.59L154.1 286.34L155 281.77L155.9 282.34L156.8 284.8L157.7 282.65L158.6 279.31L159.5 283.39L160.4 282.01L161.3 284.78L162.2 284.46L163.1 279.93L164 286.49L164.9 285.55L165.8 281.75L166.7 283.66L167.6 286.2L168.5 281.9L169.4 284.24L170.3 282.57L171.2 283.9L172.1 282.99L173 282.71L173.9 284.05L174.8 286.03L175.7 285.61L176.6 279.88L177.5 282.84L178.4 286.04L179.3 280.13L180.2 285.11L181.1 286.14L182 282.99L182.9 285.13L183.8 283.32L184.7 282.8L185.6 285.3L186.5 282.64L187.4 286.04L188.3 283.13L189.2 282.51L190.1 286.23L191 283.96L191.9 286.26" fill="none" stroke="#2b3383" stroke-width="0.9"/>
<path d="M48.4 286.6L51.4 233.1L54.4 286.6" fill="none" stroke="#34408f" stroke-width="0.75"/>
<path d="M79.6 286.6L82.6 234L85.6 286.6" fill="none" stroke="#34408f" stroke-width="0.75"/>
<path d="M110 286.6L113 233.4L116 286.6" fill="none" stroke="#34408f" stroke-width="0.75"/>
<path d="M140.4 286.6L143.4 233.4L146.4 286.6" fill="none" stroke="#34408f" stroke-width="0.75"/>
<path d="M171 286.6L174 232.8L177 286.6" fill="none" stroke="#34408f" stroke-width="0.75"/>
<path d="M43.2 279.69L43.7 266.09L44.2 282.2L44.75 280.54L45.25 268.11L45.75 285.68L46.3 280.83L46.8 270.16L47.3 285.78L47.85 283.46L48.35 269.51L48.85 285.23L49.4 282.1L49.9 270.88L50.4 280.4L50.95 280.39L51.45 265.58L51.95 286.14L52.5 283.62L53 266.74L53.5 286.48L54.05 284.89L54.55 269.71L55.05 284.2L55.6 283.19L56.1 270.96L56.6 279.49L57.15 279.62L57.65 270.82L58.15 282.1L58.7 279.63L59.2 273.79L59.7 285.26L60.25 283.87L60.75 273.87L61.25 280.49L61.8 279.99L62.3 274.7L62.8 285.62L63.35 280.7L63.85 273.83L64.35 279.02L64.9 286.25L65.4 277.56L65.9 281.77L66.45 282.21L66.95 274.49L67.45 280.18L68 279.2L68.5 273.46L69 281.2L69.55 285.05L70.05 272.87L70.55 283.03L71.1 281.95L71.6 275.2L72.1 285.69L72.65 285.72L73.15 265.4L73.65 280.19L74.2 282.17L74.7 262.46L75.2 284.28L75.75 283.55L76.25 262.81L76.75 285.45L77.3 282.29L77.8 264.13L78.3 281.08L78.85 279.01L79.35 263.66L79.85 286.49L80.4 285.39L80.9 260.4L81.4 282.59L81.95 280.2L82.45 264.11L82.95 286.32L83.5 280.05L84 259.28L84.5 281.16L85.05 282.79L85.55 260.75L86.05 285.33L86.6 283.45L87.1 263.92L87.6 279.62L88.15 285.99L88.65 263.33L89.15 283.97L89.7 279.45L90.2 262.11L90.7 281.89L91.25 285.24L91.75 262.46L92.25 283.71L92.8 281.98L93.3 266.97L93.8 283.5L94.35 286.55L94.85 269.15L95.35 281.97L95.9 286.44L96.4 272.09L96.9 282.92L97.45 286.24L97.95 279.73L98.45 285.43L99 284.42L99.5 279.95L100 284.41L100.55 284.5L101.05 276.8L101.55 282.05L102.1 278.94L102.6 275.04L103.1 278.66L103.65 282.11L104.15 269.63L104.65 280.43L105.2 280.41L105.7 273.86L106.2 281.54L106.75 283.7L107.25 271.04L107.75 284.35L108.3 279.62L108.8 271.01L109.3 279.09L109.85 284.17L110.35 269.05L110.85 280.49L111.4 282.53L111.9 268.53L112.4 281.52L112.95 282.19L113.45 265.03L113.95 283.35L114.5 283.9L115 262.22L115.5 284.01L116.05 282.75L116.55 267.94L117.05 283.66L117.6 284.72L118.1 262.6L118.6 283.81L119.15 286.54L119.65 261.85L120.15 279.63L120.7 283.04L121.2 264.07L121.7 282.05L122.25 285.25L122.75 263.24L123.25 286.07L123.8 284.13L124.3 265.52L124.8 280.79L125.35 279.1L125.85 269.55L126.35 283.88L126.9 281.93L127.4 274.43L127.9 285.96L128.45 281.96L128.95 269.95L129.45 278.7L130 280.4L130.5 268.1L131 283.17L131.55 286.06L132.05 268.58L132.55 282.72L133.1 284.39L133.6 265.69L134.1 284.54L134.65 285.28L135.15 257.94L135.65 284.46L136.2 284.85L136.7 262.31L137.2 283.4L137.75 281.78L138.25 258.38L138.75 279.69L139.3 285.03L139.8 261.11L140.3 280.73L140.85 281.79L141.35 263.56L141.85 285.97L142.4 279.6L142.9 262.88L143.4 283.87L143.95 285.09L144.45 258.56L144.95 282.3L145.5 281.48L146 264.13L146.5 279.22L147.05 283.99L147.55 259.08L148.05 280.61L148.6 283.36L149.1 261.74L149.6 281.17L150.15 286.14L150.65 259.16L151.15 283.29L151.7 281.59L152.2 257.31L152.7 283.92L153.25 281.82L153.75 262.37L154.25 284.54L154.8 286.49L155.3 264.07L155.8 279.2L156.35 278.7L156.85 266.7L157.35 286.15L157.9 280.81L158.4 267.22L158.9 283.97L159.45 285.35L159.95 261.62L160.45 285.46L161 285.88L161.5 264.39L162 280.09L162.55 282.29L163.05 260.03L163.55 281.89L164.1 281.34L164.6 260.1L165.1 281.79L165.65 280.67L166.15 258.13L166.65 284.54L167.2 280.49L167.7 260.39L168.2 280.39L168.75 280.42L169.25 257.18L169.75 278.78L170.3 284.37L170.8 258.93L171.3 282.41L171.85 285.55L172.35 263.14L172.85 286.53L173.4 281.36L173.9 260.67L174.4 280.41L174.95 278.68L175.45 260.41L175.95 284.77L176.5 285.88L177 262.37L177.5 286.38L178.05 286.12L178.55 257.21L179.05 282.59L179.6 285.15L180.1 259.35L180.6 279.08L181.15 285.41L181.65 258.36L182.15 285.18L182.7 279.23L183.2 262.89L183.7 285.3L184.25 280.38L184.75 259.84L185.25 284.66L185.8 282.61L186.3 268.43L186.8 281.51L187.35 280.2L187.85 264.96L188.35 282.92L188.9 279.37L189.4 265.24L189.9 285.74L190.45 286.08L190.95 268.52L191.45 281.44L192 279.69L192.5 266.61L193 286.12" fill="none" stroke="#eb9ba6" stroke-width="0.75" stroke-opacity="0.8"/>
<path d="M44.28 282.5L44.73 264.12L45.18 277.41L46.34 284.36L46.79 264.55L47.24 284.08L50.46 284.29L50.91 264.91L51.36 284.57L54.58 283.62L55.03 267.08L55.48 276.66L58.7 285.03L59.15 268.39L59.6 277.97L60.76 279.08L61.21 268.73L61.66 278.37L64.88 281.74L65.33 272.44L65.78 277.69L69 280.62L69.45 273.27L69.9 282.07L73.12 284.5L73.57 266.62L74.02 277.76L77.24 277.97L77.69 260.01L78.14 284.78L79.3 283.62L79.75 260.98L80.2 286.36L83.42 286.51L83.87 260.88L84.32 277.48L87.54 285.62L87.99 260.2L88.44 284.91L91.66 283.2L92.11 261.42L92.56 277.41L95.78 276.8L96.23 271.88L96.68 286.27L99.9 279.71L100.35 276.24L100.8 286.22L104.02 282.3L104.47 268.54L104.92 285.55L108.14 283.44L108.59 268.56L109.04 277.81L112.26 285.24L112.71 263.64L113.16 282.32L116.38 285.12L116.83 262.48L117.28 279.22L120.5 283.06L120.95 259.91L121.4 281.64L122.56 284.45L123.01 261.58L123.46 276.92L124.62 283.87L125.07 266.33L125.52 284.83L128.74 286.17L129.19 267.03L129.64 281.51L132.86 282.97L133.31 260.98L133.76 286.49L136.98 281.16L137.43 258.63L137.88 281.11L141.1 277.86L141.55 259.79L142 279.42L145.22 282.41L145.67 257.85L146.12 276.87L149.34 282.5L149.79 257.25L150.24 285.17L151.4 280.52L151.85 255.09L152.3 277.34L155.52 282.83L155.97 262.91L156.42 284.19L159.64 278.17L160.09 259.81L160.54 278.76L161.7 279.66L162.15 256.92L162.6 283.36L165.82 283.44L166.27 256.75L166.72 276.88L169.94 278.07L170.39 257.41L170.84 281.5L174.06 284.26L174.51 260.63L174.96 280.3L178.18 279.48L178.63 256.43L179.08 282.66L182.3 279.83L182.75 258.42L183.2 283.38L186.42 284.37L186.87 263.21L187.32 280.47L190.54 281.87L190.99 265.98L191.44 279.38" fill="none" stroke="#cc1f36" stroke-width="0.7"/>
<path d="M43.4 285.01L44.5 286.26L45.6 286.46L46.7 280.58L47.8 284.64L48.9 284.68L50 284.65L51.1 281.97L52.2 286.2L53.3 286.39L54.4 281.87L55.5 285.12L56.6 283.73L57.7 281.81L58.8 281.01L59.9 281.33L61 286.59L62.1 285.58L63.2 281.75L64.3 281.92L65.4 286.49L66.5 286.43L67.6 286.16L68.7 286.53L69.8 285.71L70.9 282.08L72 284.7L73.1 285.16L74.2 286.55L75.3 285.5L76.4 279.64L77.5 283.22L78.6 285.19L79.7 285L80.8 282.14L81.9 282.57L83 286.44L84.1 283.36L85.2 285.66L86.3 284.7L87.4 286.2L88.5 285.64L89.6 285.79L90.7 285.58L91.8 286.6L92.9 286.32L94 284.32L95.1 286.58L96.2 286.38L97.3 282.99L98.4 286.07L99.5 285.87L100.6 286.19L101.7 281.73L102.8 286.54L103.9 283.77L105 281.44L106.1 286.32L107.2 285.35L108.3 282.21L109.4 283.93L110.5 285.63L111.6 286.59L112.7 285.23L113.8 285.66L114.9 283.05L116 285.99L117.1 285.44L118.2 283.66L119.3 282L120.4 285.73L121.5 285.56L122.6 284.26L123.7 280.61L124.8 286.34L125.9 279.99L127 283.05L128.1 285.63L129.2 283.5L130.3 285.84L131.4 286.56L132.5 282.6L133.6 285.59L134.7 284.66L135.8 284.87L136.9 280.91L138 282.59L139.1 286.6L140.2 284.14L141.3 285.1L142.4 285.1L143.5 281.67L144.6 285.4L145.7 285.03L146.8 281.05L147.9 285.25L149 284.91L150.1 284.77L151.2 281.84L152.3 283.45L153.4 282.76L154.5 285.47L155.6 286.59L156.7 283.36L157.8 284.45L158.9 282.46L160 282.45L161.1 286.5L162.2 286.26L163.3 286.56L164.4 281.92L165.5 286.53L166.6 286.55L167.7 282.63L168.8 284.37L169.9 286.58L171 283.35L172.1 283.06L173.2 284.97L174.3 286.58L175.4 283.26L176.5 285.38L177.6 284.21L178.7 279.63L179.8 281.93L180.9 281.28L182 286.45L183.1 285.82L184.2 284.72L185.3 286.6L186.4 279.76L187.5 286.07L188.6 286.12L189.7 285.91L190.8 286.14L191.9 281.44" fill="none" stroke="#2b3383" stroke-width="0.7" stroke-opacity="0.6"/>
<path d="M49.75 262.53L51.4 233.1L53.05 262.53" fill="none" stroke="#34408f" stroke-width="0.75"/>
<path d="M80.95 262.93L82.6 234L84.25 262.93" fill="none" stroke="#34408f" stroke-width="0.75"/>
<path d="M111.35 262.66L113 233.4L114.65 262.66" fill="none" stroke="#34408f" stroke-width="0.75"/>
<path d="M141.75 262.66L143.4 233.4L145.05 262.66" fill="none" stroke="#34408f" stroke-width="0.75"/>
<path d="M172.35 262.39L174 232.8L175.65 262.39" fill="none" stroke="#34408f" stroke-width="0.75"/>
</g>
<clipPath id="spc1"><rect x="206.9" y="227.3" width="149.3" height="59.3"/></clipPath>
<g clip-path="url(#spc1)">
<path d="M217.5 279.1L218.9 238.4L220.3 279.1" fill="none" stroke="#34408f" stroke-width="0.75"/>
<path d="M248 279.1L249.4 239.7L250.8 279.1" fill="none" stroke="#34408f" stroke-width="0.75"/>
<path d="M278.7 279.1L280.1 241L281.5 279.1" fill="none" stroke="#34408f" stroke-width="0.75"/>
<path d="M309.5 279.1L310.9 242.3L312.3 279.1" fill="none" stroke="#34408f" stroke-width="0.75"/>
<path d="M339.9 279.1L341.3 244.4L342.7 279.1" fill="none" stroke="#34408f" stroke-width="0.75"/>
<path d="M206.7 282.11L207.2 259.53L207.7 282.84L208.25 283.76L208.75 254.44L209.25 279.27L209.8 279.35L210.3 259.16L210.8 284.14L211.35 285.78L211.85 254.43L212.35 281.91L212.9 282.49L213.4 255.11L213.9 282.29L214.45 283.27L214.95 256.05L215.45 279.79L216 278.84L216.5 252.93L217 281.75L217.55 283.69L218.05 252.15L218.55 281.94L219.1 281.68L219.6 254.91L220.1 283.61L220.65 279.83L221.15 254.21L221.65 283.87L222.2 279.78L222.7 257.53L223.2 281.46L223.75 278.72L224.25 255.95L224.75 282.64L225.3 285.74L225.8 257.88L226.3 282.73L226.85 285.81L227.35 255.17L227.85 279.3L228.4 281.43L228.9 250.17L229.4 284.76L229.95 281.71L230.45 255.09L230.95 279.79L231.5 280.81L232 251.09L232.5 280.8L233.05 284.51L233.55 249.9L234.05 279.49L234.6 278.86L235.1 249.09L235.6 284.54L236.15 285.44L236.65 249.01L237.15 279.93L237.7 282.88L238.2 255.59L238.7 280.93L239.25 278.95L239.75 251.66L240.25 280.71L240.8 285.75L241.3 251.87L241.8 280.63L242.35 279.51L242.85 251.88L243.35 283.85L243.9 281.54L244.4 253.59L244.9 283.65L245.45 284.97L245.95 256.27L246.45 278.9L247 279.47L247.5 255L248 284.98L248.55 278.36L249.05 258.11L249.55 283.07L250.1 283.16L250.6 252.39L251.1 281.07L251.65 281.83L252.15 253.37L252.65 285.45L253.2 280.37L253.7 254.71L254.2 282.76L254.75 285.29L255.25 255.85L255.75 279.57L256.3 278.81L256.8 251.74L257.3 278.23L257.85 281.99L258.35 257.31L258.85 283.87L259.4 280.2L259.9 253.01L260.4 282.23L260.95 285.46L261.45 256.93L261.95 282.32L262.5 281.42L263 256.31L263.5 281.87L264.05 285.08L264.55 251.29L265.05 284.03L265.6 279.44L266.1 257.7L266.6 284.38L267.15 285.94L267.65 258.7L268.15 281.41L268.7 283.45L269.2 259.68L269.7 278.64L270.25 285.8L270.75 257.91L271.25 283.53L271.8 284.22L272.3 256.87L272.8 280.26L273.35 279.9L273.85 255.39L274.35 283.81L274.9 281.73L275.4 254.46L275.9 285.43L276.45 279.9L276.95 257.56L277.45 281.44L278 285.93L278.5 256.65L279 282.09L279.55 281.03L280.05 253.83L280.55 285.14L281.1 283.38L281.6 256.92L282.1 283.2L282.65 284.89L283.15 257.18L283.65 284.84L284.2 283.55L284.7 258.77L285.2 279.46L285.75 282.36L286.25 257.93L286.75 285.01L287.3 279.17L287.8 252.12L288.3 285.26L288.85 281.91L289.35 254.58L289.85 285.26L290.4 284.89L290.9 254.38L291.4 281.92L291.95 283.26L292.45 254.8L292.95 284.62L293.5 284.57L294 254.22L294.5 285.18L295.05 279.23L295.55 253.85L296.05 282.19L296.6 286.08L297.1 260.72L297.6 278.65L298.15 279.87L298.65 260.21L299.15 281.64L299.7 284.37L300.2 263.92L300.7 280.2L301.25 284.09L301.75 260.81L302.25 285.95L302.8 282.06L303.3 262.88L303.8 283.86L304.35 285.53L304.85 266.75L305.35 281.57L305.9 281.44L306.4 262.14L306.9 279.93L307.45 285.7L307.95 265.1L308.45 284.23L309 278.34L309.5 263.94L310 285.87L310.55 280.67L311.05 263.73L311.55 279.68L312.1 279.72L312.6 261.79L313.1 282.51L313.65 286.11L314.15 265.85L314.65 278.68L315.2 282.94L315.7 262.28L316.2 285.5L316.75 280.33L317.25 260.55L317.75 280.77L318.3 283.45L318.8 259.13L319.3 285.08L319.85 284.44L320.35 258.7L320.85 283.55L321.4 278.22L321.9 263.38L322.4 279.87L322.95 282.22L323.45 259.13L323.95 279.97L324.5 280.19L325 261.36L325.5 281.11L326.05 281.2L326.55 255.62L327.05 279.43L327.6 285.46L328.1 260.07L328.6 280.46L329.15 284.9L329.65 257.39L330.15 278.47L330.7 280.24L331.2 260.04L331.7 285.12L332.25 278.7L332.75 261.72L333.25 278.96L333.8 279.54L334.3 261.91L334.8 279.78L335.35 282.72L335.85 261.61L336.35 279.6L336.9 279.23L337.4 263.52L337.9 283.81L338.45 281.95L338.95 264.37L339.45 278.63L340 278.45L340.5 258.08L341 279.9L341.55 279.49L342.05 258.65L342.55 284.34L343.1 282.54L343.6 258.19L344.1 284.31L344.65 278.94L345.15 260.25L345.65 280.72L346.2 283.06L346.7 261.77L347.2 279.93L347.75 280.74L348.25 261.96L348.75 278.67L349.3 282.95L349.8 261.25L350.3 285.5L350.85 279.51L351.35 259.1L351.85 283.48L352.4 279.51L352.9 257.76L353.4 279.86L353.95 282.29L354.45 253.35L354.95 286.07L355.5 279.7L356 253.81L356.5 282.85" fill="none" stroke="#eb9ba6" stroke-width="0.75" stroke-opacity="0.8"/>
<path d="M207.78 281.63L208.23 255.63L208.68 282.85L211.9 277.75L212.35 252.94L212.8 280.01L216.02 283.49L216.47 250.42L216.92 279.19L220.14 278.13L220.59 253.68L221.04 284.99L224.26 277.97L224.71 251.15L225.16 284.36L228.38 282.58L228.83 252.52L229.28 283.96L230.44 277.26L230.89 249.59L231.34 282.26L234.56 281.13L235.01 250.86L235.46 276.31L238.68 284.58L239.13 251.73L239.58 280.93L242.8 276.75L243.25 250.97L243.7 281.65L244.86 282.68L245.31 251.82L245.76 285.19L248.98 281.06L249.43 254.81L249.88 282.43L251.04 279.54L251.49 254.48L251.94 285.44L255.16 276.62L255.61 251.52L256.06 282.58L259.28 282.44L259.73 251.94L260.18 280.98L263.4 281.22L263.85 252.91L264.3 282.56L265.46 277.85L265.91 250.11L266.36 279.36L269.58 278.69L270.03 253.64L270.48 277.29L273.7 285.85L274.15 256.07L274.6 282.95L277.82 277.29L278.27 256.25L278.72 284.75L281.94 285.73L282.39 253.81L282.84 282.28L286.06 283.39L286.51 253.15L286.96 278.58L290.18 281.99L290.63 252.03L291.08 276.42L294.3 279.44L294.75 253.59L295.2 282.4L296.36 279.29L296.81 255.74L297.26 283.43L300.48 277.94L300.93 260.62L301.38 278.26L304.6 281.04L305.05 259.69L305.5 277.43L308.72 284.49L309.17 261.65L309.62 283.08L312.84 282.37L313.29 259.24L313.74 276.53L314.9 283.11L315.35 258.74L315.8 276.76L319.02 281.82L319.47 257.69L319.92 285.12L323.14 282.34L323.59 255.98L324.04 276.56L327.26 277.11L327.71 253.89L328.16 281.7L329.32 278.41L329.77 256.34L330.22 283.05L333.44 281.5L333.89 258.4L334.34 280.61L337.56 283.45L338.01 259.76L338.46 282.57L339.62 283.32L340.07 258.25L340.52 279.9L343.74 285.79L344.19 258.77L344.64 277.93L347.86 276.8L348.31 256.46L348.76 283.54L351.98 280.71L352.43 252.7L352.88 278.66L356.1 278.12L356.55 253.36L357 285.09" fill="none" stroke="#cc1f36" stroke-width="0.7"/>
<path d="M206.9 279.19L208.9 279.38L210.9 279.18L212.9 279.22L214.9 279.26L216.9 279.04L218.9 279.36L220.9 279.25L222.9 279.01L224.9 279.04L226.9 279.28L228.9 279.01L230.9 278.91L232.9 279.32L234.9 279.12L236.9 279.11L238.9 279.2L240.9 279.34L242.9 278.88L244.9 279L246.9 278.84L248.9 279.05L250.9 279.1L252.9 279.31L254.9 279.2L256.9 279.15L258.9 279.04L260.9 279.14L262.9 278.96L264.9 279.31L266.9 279.27L268.9 279.3L270.9 278.89L272.9 279.2L274.9 279.25L276.9 279.1L278.9 279.34L280.9 279.34L282.9 279.25L284.9 279.29L286.9 279.19L288.9 279.33L290.9 278.88L292.9 279.22L294.9 279.22L296.9 279.17L298.9 278.97L300.9 278.84L302.9 279.16L304.9 279.29L306.9 278.96L308.9 278.93L310.9 278.93L312.9 278.86L314.9 279.21L316.9 279.38L318.9 279.28L320.9 279.02L322.9 279.22L324.9 278.84L326.9 279.3L328.9 279L330.9 278.8L332.9 279.18L334.9 278.88L336.9 278.97L338.9 278.84L340.9 279.07L342.9 279.13L344.9 279.28L346.9 278.82L348.9 279.3L350.9 278.87L352.9 278.93L354.9 279.18" fill="none" stroke="#2b3383" stroke-width="0.9"/>
<path d="M218.13 260.79L218.9 238.4L219.67 260.79" fill="none" stroke="#34408f" stroke-width="0.75"/>
<path d="M248.63 261.37L249.4 239.7L250.17 261.37" fill="none" stroke="#34408f" stroke-width="0.75"/>
<path d="M279.33 261.96L280.1 241L280.87 261.96" fill="none" stroke="#34408f" stroke-width="0.75"/>
<path d="M310.13 262.54L310.9 242.3L311.67 262.54" fill="none" stroke="#34408f" stroke-width="0.75"/>
<path d="M340.53 263.49L341.3 244.4L342.07 263.49" fill="none" stroke="#34408f" stroke-width="0.75"/>
</g>
<clipPath id="spc2"><rect x="369.6" y="227.3" width="148.6" height="60.1"/></clipPath>
<g clip-path="url(#spc2)">
<path d="M391.2 271.7L392.6 244.2L394 271.7" fill="none" stroke="#34408f" stroke-width="0.75"/>
<path d="M421.8 271.7L423.2 244.2L424.6 271.7" fill="none" stroke="#34408f" stroke-width="0.75"/>
<path d="M452.5 271.7L453.9 244.2L455.3 271.7" fill="none" stroke="#34408f" stroke-width="0.75"/>
<path d="M483.1 271.7L484.5 244.2L485.9 271.7" fill="none" stroke="#34408f" stroke-width="0.75"/>
<path d="M513.8 271.7L515.2 244.2L516.6 271.7" fill="none" stroke="#34408f" stroke-width="0.75"/>
<path d="M369.4 284.15L369.9 273.42L370.4 282.25L370.95 280.45L371.45 271.77L371.95 285.13L372.5 280.33L373 274.96L373.5 282.5L374.05 280.58L374.55 268.15L375.05 286.57L375.6 283.41L376.1 271L376.6 286.3L377.15 281L377.65 272.24L378.15 282.12L378.7 282.7L379.2 271L379.7 282.09L380.25 279.86L380.75 269.84L381.25 278.83L381.8 279.11L382.3 272.35L382.8 284.16L383.35 286.23L383.85 272.1L384.35 282.98L384.9 283.17L385.4 264.6L385.9 281.34L386.45 283.16L386.95 267.09L387.45 284.07L388 283.58L388.5 262.45L389 284.54L389.55 280.91L390.05 263.64L390.55 282.67L391.1 285.22L391.6 266.5L392.1 281.17L392.65 284.68L393.15 265.97L393.65 282.32L394.2 279.02L394.7 271.01L395.2 280.82L395.75 279.44L396.25 274.29L396.75 281.02L397.3 286.3L397.8 274.24L398.3 285.15L398.85 279.89L399.35 270.05L399.85 281.02L400.4 284.69L400.9 274.63L401.4 283.96L401.95 281.74L402.45 271.63L402.95 278.87L403.5 286.45L404 272.89L404.5 285.4L405.05 279.61L405.55 273.49L406.05 280.36L406.6 285.98L407.1 273.79L407.6 285.95L408.15 280.58L408.65 270.92L409.15 283.03L409.7 279.51L410.2 276.01L410.7 280.44L411.25 280.22L411.75 271.65L412.25 285.77L412.8 282.29L413.3 268.31L413.8 282.74L414.35 284.78L414.85 267.72L415.35 286.63L415.9 281.12L416.4 271.06L416.9 279.24L417.45 283.31L417.95 270.01L418.45 280.94L419 280.31L419.5 264.89L420 280.07L420.55 286.7L421.05 263.14L421.55 285.09L422.1 283.77L422.6 266.3L423.1 286.73L423.65 280.51L424.15 268.12L424.65 283.09L425.2 279.69L425.7 263.77L426.2 282.53L426.75 284.21L427.25 265.12L427.75 281.8L428.3 282.92L428.8 271.97L429.3 281.68L429.85 284.85L430.35 268.27L430.85 279.55L431.4 285.97L431.9 270.53L432.4 282.07L432.95 285.2L433.45 269.76L433.95 283.15L434.5 281.71L435 274.01L435.5 281.14L436.05 286.26L436.55 274.01L437.05 281L437.6 283.03L438.1 270.6L438.6 283.6L439.15 281.09L439.65 273.9L440.15 284.88L440.7 281.26L441.2 272.69L441.7 283.03L442.25 279.53L442.75 268.1L443.25 282.01L443.8 284.89L444.3 266.51L444.8 278.91L445.35 283.66L445.85 267.11L446.35 280.5L446.9 281.73L447.4 270.75L447.9 280.87L448.45 286.05L448.95 264.73L449.45 278.99L450 286.5L450.5 269.56L451 286.41L451.55 279.35L452.05 265.1L452.55 285.04L453.1 279.36L453.6 268.49L454.1 281.69L454.65 284.7L455.15 270.61L455.65 285.57L456.2 280.74L456.7 264.7L457.2 285.97L457.75 281.12L458.25 272.83L458.75 285.3L459.3 285.5L459.8 273.61L460.3 282.7L460.85 280.5L461.35 270.65L461.85 279.68L462.4 286.78L462.9 277.72L463.4 279.99L463.95 280.23L464.45 275.72L464.95 282.78L465.5 282.04L466 276.69L466.5 280.4L467.05 286.37L467.55 273.42L468.05 282.44L468.6 283.62L469.1 275.43L469.6 286.74L470.15 286.61L470.65 278.37L471.15 280.16L471.7 283.14L472.2 277.53L472.7 285.82L473.25 285.14L473.75 275.09L474.25 283.37L474.8 278.99L475.3 270.01L475.8 282.43L476.35 286.05L476.85 270.4L477.35 280.96L477.9 280.01L478.4 272.84L478.9 285.99L479.45 284.38L479.95 268.68L480.45 280.7L481 281.95L481.5 266.35L482 278.97L482.55 286.74L483.05 270.34L483.55 286.2L484.1 281.26L484.6 266.88L485.1 282.01L485.65 283.16L486.15 270.86L486.65 283.54L487.2 281.61L487.7 272.63L488.2 279.47L488.75 280.43L489.25 273.63L489.75 279.5L490.3 281.07L490.8 274.36L491.3 286.56L491.85 280L492.35 273.27L492.85 283.35L493.4 285.36L493.9 274.65L494.4 279.26L494.95 281.15L495.45 271.59L495.95 284.78L496.5 284.01L497 270.37L497.5 284.2L498.05 283.26L498.55 268.69L499.05 278.95L499.6 279.34L500.1 272.36L500.6 280.7L501.15 278.85L501.65 273.4L502.15 280.78L502.7 284.8L503.2 269.22L503.7 283.5L504.25 284.95L504.75 266.16L505.25 279.71L505.8 284.17L506.3 271.17L506.8 280.64L507.35 279.68L507.85 268.86L508.35 280.44L508.9 285.96L509.4 265.87L509.9 280.2L510.45 281.78L510.95 263.11L511.45 283.86L512 279.07L512.5 265.07L513 285.51L513.55 281.6L514.05 265.42L514.55 282.49L515.1 283.54L515.6 268.66L516.1 279.49L516.65 279.06L517.15 266.92L517.65 286.08L518.2 284.5L518.7 263.49L519.2 279.55" fill="none" stroke="#eb9ba6" stroke-width="0.75" stroke-opacity="0.8"/>
<path d="M370.48 284.2L370.93 269.19L371.38 279.64L372.54 282.42L372.99 268.39L373.44 279.93L376.66 279.27L377.11 269.56L377.56 284.32L380.78 279.89L381.23 266.4L381.68 284.71L384.9 280.37L385.35 266.55L385.8 280.89L389.02 279.85L389.47 263.04L389.92 283.76L393.14 286.65L393.59 263.79L394.04 283.18L397.26 281.86L397.71 268.12L398.16 277.1L401.38 279.11L401.83 270.11L402.28 285.02L405.5 282.71L405.95 270.94L406.4 279.9L409.62 285.85L410.07 270.92L410.52 277.48L413.74 286.49L414.19 269.16L414.64 278.51L417.86 278.77L418.31 265.14L418.76 280.09L421.98 284.9L422.43 260.74L422.88 277.75L426.1 280.93L426.55 265.57L427 280.19L430.22 285.83L430.67 266.19L431.12 276.97L434.34 281.1L434.79 271.2L435.24 284.57L438.46 278.27L438.91 268.25L439.36 285.5L440.52 279.57L440.97 268.44L441.42 285.42L444.64 283.14L445.09 265.4L445.54 281.57L448.76 278.84L449.21 263.99L449.66 283.95L452.88 284.56L453.33 265.66L453.78 284.86L457 283.15L457.45 265.24L457.9 280.39L461.12 286.29L461.57 272.6L462.02 280.16L463.18 286.51L463.63 271.11L464.08 282.42L467.3 279.68L467.75 273.51L468.2 285.86L471.42 285.06L471.87 272.78L472.32 284.49L475.54 286.12L475.99 267.69L476.44 283.19L479.66 281.25L480.11 268.74L480.56 286.08L483.78 281.17L484.23 267.67L484.68 278.1L485.84 285.7L486.29 269.68L486.74 277.36L489.96 285.09L490.41 268.08L490.86 278.15L494.08 284.15L494.53 267.37L494.98 277.56L498.2 286.06L498.65 269.8L499.1 282.27L502.32 280.17L502.77 266.79L503.22 283.19L506.44 281.98L506.89 267.16L507.34 285L510.56 281.65L511.01 262.37L511.46 286.56L514.68 281.43L515.13 263.81L515.58 284.46" fill="none" stroke="#cc1f36" stroke-width="0.7"/>
<path d="M369.6 271.76L371.6 271.79L373.6 271.49L375.6 271.88L377.6 271.97L379.6 271.84L381.6 271.91L383.6 271.62L385.6 271.94L387.6 271.51L389.6 271.54L391.6 271.76L393.6 271.94L395.6 271.45L397.6 271.53L399.6 271.42L401.6 271.66L403.6 271.48L405.6 271.51L407.6 271.85L409.6 271.75L411.6 271.96L413.6 271.64L415.6 271.81L417.6 271.41L419.6 271.97L421.6 271.54L423.6 271.69L425.6 271.71L427.6 271.97L429.6 271.7L431.6 272L433.6 271.77L435.6 271.53L437.6 271.9L439.6 271.52L441.6 272L443.6 271.67L445.6 271.54L447.6 271.98L449.6 271.59L451.6 271.64L453.6 271.61L455.6 271.8L457.6 271.41L459.6 271.62L461.6 271.5L463.6 271.9L465.6 271.4L467.6 271.76L469.6 271.55L471.6 271.67L473.6 271.74L475.6 271.83L477.6 271.48L479.6 271.54L481.6 271.47L483.6 271.98L485.6 271.49L487.6 271.48L489.6 271.71L491.6 271.75L493.6 271.93L495.6 271.43L497.6 271.54L499.6 271.5L501.6 271.75L503.6 271.67L505.6 271.65L507.6 271.93L509.6 271.8L511.6 271.92L513.6 271.97L515.6 271.56L517.6 271.97" fill="none" stroke="#2b3383" stroke-width="0.9"/>
<path d="M391.83 259.32L392.6 244.2L393.37 259.32" fill="none" stroke="#34408f" stroke-width="0.75"/>
<path d="M422.43 259.32L423.2 244.2L423.97 259.32" fill="none" stroke="#34408f" stroke-width="0.75"/>
<path d="M453.13 259.32L453.9 244.2L454.67 259.32" fill="none" stroke="#34408f" stroke-width="0.75"/>
<path d="M483.73 259.32L484.5 244.2L485.27 259.32" fill="none" stroke="#34408f" stroke-width="0.75"/>
<path d="M514.43 259.32L515.2 244.2L515.97 259.32" fill="none" stroke="#34408f" stroke-width="0.75"/>
</g>
<clipPath id="spc3"><rect x="532.1" y="227.3" width="149.3" height="58.9"/></clipPath>
<g clip-path="url(#spc3)">
<path d="M548.3 277.6L549.7 249.8L551.1 277.6" fill="none" stroke="#34408f" stroke-width="0.75"/>
<path d="M579.1 277.6L580.5 245.6L581.9 277.6" fill="none" stroke="#34408f" stroke-width="0.75"/>
<path d="M609.9 277.6L611.3 237.9L612.7 277.6" fill="none" stroke="#34408f" stroke-width="0.75"/>
<path d="M640.6 277.6L642 242.8L643.4 277.6" fill="none" stroke="#34408f" stroke-width="0.75"/>
<path d="M671.4 277.6L672.8 249.3L674.2 277.6" fill="none" stroke="#34408f" stroke-width="0.75"/>
<path d="M531.9 285.39L532.4 279.79L532.9 278.48L533.45 285.66L533.95 277.3L534.45 283.48L535 278.06L535.5 278.24L536 278.84L536.55 281.56L537.05 278.8L537.55 279.01L538.1 280.57L538.6 278.56L539.1 281.7L539.65 283.85L540.15 270.29L540.65 280.54L541.2 279.39L541.7 270.14L542.2 278.61L542.75 284.26L543.25 269.51L543.75 285.19L544.3 281.24L544.8 265.92L545.3 284.35L545.85 283.75L546.35 262.17L546.85 283.91L547.4 281.61L547.9 260.43L548.4 280.38L548.95 279.87L549.45 258.93L549.95 280.81L550.5 280.42L551 261.36L551.5 279.4L552.05 282L552.55 257.59L553.05 280.38L553.6 280.62L554.1 262.78L554.6 284.36L555.15 279.51L555.65 266.12L556.15 283.94L556.7 278.14L557.2 264.01L557.7 284.14L558.25 278.11L558.75 265.92L559.25 278.6L559.8 279.92L560.3 266.73L560.8 282.92L561.35 279.66L561.85 270.85L562.35 284.78L562.9 284.08L563.4 268.27L563.9 283.67L564.45 284.71L564.95 267.01L565.45 282.55L566 285.18L566.5 268.18L567 281.14L567.55 281.18L568.05 270.32L568.55 282.95L569.1 282.3L569.6 267.13L570.1 284.4L570.65 285.66L571.15 264.02L571.65 280.39L572.2 282.84L572.7 260.23L573.2 278.1L573.75 279.12L574.25 262.92L574.75 280.66L575.3 280.16L575.8 261.64L576.3 278.07L576.85 279.67L577.35 258.57L577.85 283.39L578.4 279.23L578.9 258.99L579.4 280.99L579.95 278.8L580.45 263.39L580.95 281.09L581.5 285.68L582 259.24L582.5 281.52L583.05 283.62L583.55 263.33L584.05 285.24L584.6 284.41L585.1 259.13L585.6 280.23L586.15 283.96L586.65 260.68L587.15 283.68L587.7 277.9L588.2 267.18L588.7 285.65L589.25 278.32L589.75 265.05L590.25 278.04L590.8 283.12L591.3 267.35L591.8 281.62L592.35 282.46L592.85 269.11L593.35 281.97L593.9 285.36L594.4 268.31L594.9 285.13L595.45 285.07L595.95 267.27L596.45 280.81L597 283.7L597.5 270.63L598 279.47L598.55 283.07L599.05 270.47L599.55 281.87L600.1 278.37L600.6 266.31L601.1 281.32L601.65 284.57L602.15 265.14L602.65 280.26L603.2 280.06L603.7 267.85L604.2 283.96L604.75 279.38L605.25 271.11L605.75 285.05L606.3 284.27L606.8 270L607.3 280.14L607.85 279.47L608.35 271.9L608.85 283.95L609.4 280.49L609.9 267.3L610.4 281.28L610.95 284.26L611.45 267.98L611.95 281.14L612.5 280.73L613 267.56L613.5 283.87L614.05 282.41L614.55 268.24L615.05 281.53L615.6 285.55L616.1 271.12L616.6 280.01L617.15 283.47L617.65 268.85L618.15 280.68L618.7 280.88L619.2 274.44L619.7 278.59L620.25 283.31L620.75 273.33L621.25 280.5L621.8 284.54L622.3 275.28L622.8 283.99L623.35 279.18L623.85 279.26L624.35 280.07L624.9 279.45L625.4 280.97L625.9 283.32L626.45 280.03L626.95 276.74L627.45 285.35L628 285.09L628.5 278.39L629 285.41L629.55 284.59L630.05 277.31L630.55 278.35L631.1 282.11L631.6 279.44L632.1 284.22L632.65 281.75L633.15 272.99L633.65 281.63L634.2 280.07L634.7 273.55L635.2 281.57L635.75 284.95L636.25 275.29L636.75 285.24L637.3 281.93L637.8 272.02L638.3 283.78L638.85 284.02L639.35 273.61L639.85 283.25L640.4 280.1L640.9 271.89L641.4 279.64L641.95 282.23L642.45 271.7L642.95 278.38L643.5 280.85L644 276.79L644.5 284.96L645.05 280.71L645.55 274.59L646.05 283.57L646.6 277.95L647.1 272.81L647.6 278.52L648.15 282.07L648.65 274.59L649.15 280.85L649.7 285.25L650.2 276.94L650.7 279.79L651.25 282.3L651.75 281.07L652.25 285.11L652.8 285.05L653.3 277.64L653.8 278.09L654.35 283.5L654.85 274.45L655.35 279.66L655.9 284.95L656.4 274.25L656.9 285.23L657.45 281.55L657.95 274.85L658.45 279.14L659 284.41L659.5 275.29L660 279.68L660.55 283.1L661.05 277.49L661.55 284.81L662.1 278.03L662.6 275.7L663.1 284.86L663.65 279.87L664.15 275.04L664.65 278.67L665.2 282.02L665.7 278.78L666.2 278.15L666.75 283.49L667.25 276.54L667.75 282.08L668.3 279.93L668.8 277.7L669.3 284.76L669.85 278.13L670.35 274.42L670.85 284.94L671.4 283.09L671.9 278.85L672.4 283.82L672.95 282.05L673.45 274.57L673.95 277.88L674.5 278.96L675 273.45L675.5 283.23L676.05 279.84L676.55 273.37L677.05 283.07L677.6 282.45L678.1 273.84L678.6 279.23L679.15 281.2L679.65 278.93L680.15 285.72L680.7 280.95L681.2 278.6L681.7 278.6" fill="none" stroke="#eb9ba6" stroke-width="0.75" stroke-opacity="0.8"/>
<path d="M532.98 282.53L533.43 279.48L533.88 277.32L535.04 282.14L535.49 275.91L535.94 282.05L539.16 284.7L539.61 270.87L540.06 283.53L541.22 279.44L541.67 266.45L542.12 276.93L545.34 276.6L545.79 257.23L546.24 277.76L547.4 278.25L547.85 259.63L548.3 277.67L551.52 281.99L551.97 259.18L552.42 277.4L555.64 282.44L556.09 260.79L556.54 277.59L559.76 277.32L560.21 267.28L560.66 277.01L563.88 278.36L564.33 269.73L564.78 279.03L568 277.1L568.45 262.04L568.9 280.32L572.12 277.97L572.57 259.26L573.02 277.98L574.18 282.4L574.63 256.66L575.08 283.31L578.3 285.54L578.75 257.17L579.2 277.83L582.42 285.12L582.87 256.89L583.32 278.39L586.54 281.78L586.99 261.57L587.44 277.78L588.6 279.48L589.05 263.22L589.5 276.85L592.72 278.46L593.17 269.34L593.62 282.68L594.78 284.74L595.23 267.38L595.68 279.93L596.84 280.96L597.29 266.64L597.74 281.64L598.9 283.72L599.35 266.79L599.8 282.18L603.02 278.84L603.47 267.91L603.92 284.55L605.08 279.89L605.53 264.25L605.98 281.48L609.2 284.88L609.65 267.02L610.1 280.56L611.26 282.23L611.71 269.13L612.16 283.58L615.38 283.61L615.83 268.22L616.28 276.97L617.44 281.99L617.89 268.11L618.34 278.7L619.5 282.78L619.95 270.12L620.4 282.51L623.62 280.33L624.07 273.26L624.52 280.8L627.74 276.23L628.19 273.35L628.64 275.8L631.86 283.97L632.31 274.85L632.76 276.7L635.98 277.12L636.43 271.64L636.88 282.18L638.04 285.57L638.49 268.57L638.94 280.78L640.1 276.25L640.55 271.18L641 280.69L642.16 284.36L642.61 270.24L643.06 279.49L644.22 279.78L644.67 271.15L645.12 283.21L648.34 280.67L648.79 274.19L649.24 281.12L652.46 282.4L652.91 273.61L653.36 278.63L656.58 283.24L657.03 273.03L657.48 280.63L660.7 276.76L661.15 275.75L661.6 283.78L664.82 278.31L665.27 274.41L665.72 278.68L668.94 277.42L669.39 272.56L669.84 276.55L673.06 281.37L673.51 275.52L673.96 284.94L677.18 279.02L677.63 274.5L678.08 284.38L681.3 275.82L681.75 274.67L682.2 282.44" fill="none" stroke="#cc1f36" stroke-width="0.7"/>
<path d="M532.1 277.45L534.1 277.42L536.1 277.4L538.1 277.55L540.1 277.67L542.1 277.48L544.1 277.4L546.1 277.43L548.1 277.35L550.1 277.42L552.1 277.49L554.1 277.6L556.1 277.41L558.1 277.59L560.1 277.56L562.1 277.88L564.1 277.59L566.1 277.87L568.1 277.58L570.1 277.42L572.1 277.66L574.1 277.39L576.1 277.4L578.1 277.34L580.1 277.72L582.1 277.88L584.1 277.54L586.1 277.51L588.1 277.56L590.1 277.51L592.1 277.71L594.1 277.54L596.1 277.39L598.1 277.82L600.1 277.64L602.1 277.3L604.1 277.81L606.1 277.74L608.1 277.51L610.1 277.68L612.1 277.85L614.1 277.54L616.1 277.56L618.1 277.48L620.1 277.63L622.1 277.7L624.1 277.74L626.1 277.87L628.1 277.39L630.1 277.52L632.1 277.81L634.1 277.77L636.1 277.65L638.1 277.71L640.1 277.5L642.1 277.87L644.1 277.63L646.1 277.54L648.1 277.41L650.1 277.37L652.1 277.84L654.1 277.78L656.1 277.32L658.1 277.49L660.1 277.59L662.1 277.6L664.1 277.52L666.1 277.84L668.1 277.51L670.1 277.62L672.1 277.86L674.1 277.68L676.1 277.59L678.1 277.5L680.1 277.53" fill="none" stroke="#2b3383" stroke-width="0.9"/>
<path d="M548.93 265.09L549.7 249.8L550.47 265.09" fill="none" stroke="#34408f" stroke-width="0.75"/>
<path d="M579.73 263.2L580.5 245.6L581.27 263.2" fill="none" stroke="#34408f" stroke-width="0.75"/>
<path d="M610.53 259.74L611.3 237.9L612.07 259.74" fill="none" stroke="#34408f" stroke-width="0.75"/>
<path d="M641.23 261.94L642 242.8L642.77 261.94" fill="none" stroke="#34408f" stroke-width="0.75"/>
<path d="M672.03 264.87L672.8 249.3L673.57 264.87" fill="none" stroke="#34408f" stroke-width="0.75"/>
</g>
<rect x="43.5" y="227.3" width="149" height="60" stroke="#757575" stroke-width="1" fill="none" />
<rect x="206.9" y="227.3" width="149.3" height="59.3" stroke="#757575" stroke-width="1" fill="none" />
<rect x="369.6" y="227.3" width="148.7" height="60.1" stroke="#757575" stroke-width="1" fill="none" />
<rect x="532.2" y="227.3" width="149.3" height="58.9" stroke="#757575" stroke-width="1" fill="none" />
<text x="15" y="345.0" font-size="14.8" font-weight="bold" fill="#231f20">b</text>
<rect x="40.5" y="342.5" width="323" height="115" stroke="#757575" stroke-width="1" fill="none" />
<line x1="37.5" y1="342.5" x2="40.5" y2="342.5" stroke="#757575" stroke-width="1" />
<line x1="37.5" y1="371" x2="40.5" y2="371" stroke="#757575" stroke-width="1" />
<line x1="37.5" y1="399.9" x2="40.5" y2="399.9" stroke="#757575" stroke-width="1" />
<line x1="37.5" y1="428.8" x2="40.5" y2="428.8" stroke="#757575" stroke-width="1" />
<line x1="37.5" y1="457.5" x2="40.5" y2="457.5" stroke="#757575" stroke-width="1" />
<line x1="97.2" y1="457.5" x2="97.2" y2="460.5" stroke="#757575" stroke-width="1" />
<text x="97.2" y="472.31" font-size="9" text-anchor="middle" fill="#231f20" >2.2</text>
<line x1="174.4" y1="457.5" x2="174.4" y2="460.5" stroke="#757575" stroke-width="1" />
<text x="174.4" y="472.31" font-size="9" text-anchor="middle" fill="#231f20" >2.4</text>
<line x1="251.6" y1="457.5" x2="251.6" y2="460.5" stroke="#757575" stroke-width="1" />
<text x="251.6" y="472.31" font-size="9" text-anchor="middle" fill="#231f20" >2.6</text>
<line x1="328.8" y1="457.5" x2="328.8" y2="460.5" stroke="#757575" stroke-width="1" />
<text x="328.8" y="472.31" font-size="9" text-anchor="middle" fill="#231f20" >2.8</text>
<text x="191" y="487.51" font-size="9" fill="#231f20">Δ<tspan font-style="italic">f</tspan> (GHz)</text>
<text transform="translate(28.8,402.7) rotate(-90)" font-size="9" text-anchor="middle" fill="#231f20">RF power (20 dB/div)</text>
<path d="M61.7 354.8V457.5" stroke="#3b4391" stroke-width="0.8"/>
<path d="M61.1 457.5L61.3 428L62.1 428L62.3 457.5Z" fill="#3d4592" fill-opacity="0.55"/>
<path d="M60.4 457.5L60.7 447L61.4 443L62 443L62.7 447L63 457.5Z" fill="#2b3079"/>
<text x="42.7" y="352.3" font-size="9" text-anchor="start" fill="#231f20" >29.158 GHz</text>
<path d="M115.6 358V457.5" stroke="#3b4391" stroke-width="0.8"/>
<path d="M115 457.5L115.2 428L116 428L116.2 457.5Z" fill="#3d4592" fill-opacity="0.55"/>
<path d="M114.3 457.5L114.6 447L115.3 443L115.9 443L116.6 447L116.9 457.5Z" fill="#2b3079"/>
<text x="97" y="352.3" font-size="9" text-anchor="start" fill="#231f20" >29.148 GHz</text>
<path d="M170 353.8V457.5" stroke="#3b4391" stroke-width="0.8"/>
<path d="M169.4 457.5L169.6 428L170.4 428L170.6 457.5Z" fill="#3d4592" fill-opacity="0.55"/>
<path d="M168.7 457.5L169 447L169.7 443L170.3 443L171 447L171.3 457.5Z" fill="#2b3079"/>
<text x="148.9" y="352.3" font-size="9" text-anchor="start" fill="#231f20" >29.138 GHz</text>
<path d="M224.2 353.8V457.5" stroke="#3b4391" stroke-width="0.8"/>
<path d="M223.6 457.5L223.8 428L224.6 428L224.8 457.5Z" fill="#3d4592" fill-opacity="0.55"/>
<path d="M222.9 457.5L223.2 447L223.9 443L224.5 443L225.2 447L225.5 457.5Z" fill="#2b3079"/>
<text x="204" y="352.3" font-size="9" text-anchor="start" fill="#231f20" >29.128 GHz</text>
<path d="M278.2 354.5V457.5" stroke="#3b4391" stroke-width="0.8"/>
<path d="M277.6 457.5L277.8 428L278.6 428L278.8 457.5Z" fill="#3d4592" fill-opacity="0.55"/>
<path d="M276.9 457.5L277.2 447L277.9 443L278.5 443L279.2 447L279.5 457.5Z" fill="#2b3079"/>
<text x="256.8" y="352.3" font-size="9" text-anchor="start" fill="#231f20" >29.118 GHz</text>
<path d="M332.1 354.5V457.5" stroke="#3b4391" stroke-width="0.8"/>
<path d="M331.5 457.5L331.7 428L332.5 428L332.7 457.5Z" fill="#3d4592" fill-opacity="0.55"/>
<path d="M330.8 457.5L331.1 447L331.8 443L332.4 443L333.1 447L333.4 457.5Z" fill="#2b3079"/>
<text x="307.6" y="352.3" font-size="9" text-anchor="start" fill="#231f20" >29.108 GHz</text>
<rect x="305.4" y="344.1" width="53.1" height="112.7" fill="none" stroke="#d0324a" stroke-width="1"/>
<path d="M371.5 450.08L371.65 450.55L371.8 452.63L371.95 454.65L372.1 451.26L372.25 453.92L372.4 454.79L372.55 451.35L372.7 452.33L372.85 454.37L373 453.08L373.15 451.48L373.3 452.37L373.45 452.11L373.6 452.71L373.75 453.1L373.9 452.8L374.05 451.33L374.2 452.46L374.35 453.02L374.5 452.03L374.65 455.52L374.8 451.43L374.95 447.91L375.1 454.58L375.25 451.33L375.4 452.89L375.55 451.69L375.7 453.97L375.85 451.07L376 453.17L376.15 455.08L376.3 453.18L376.45 450.37L376.6 455.25L376.75 454.08L376.9 451.85L377.05 449.06L377.2 452.27L377.35 451.6L377.5 452.61L377.65 451.96L377.8 454.68L377.95 451.95L378.1 450.82L378.25 450.73L378.4 452.06L378.55 452.43L378.7 449L378.85 449.37L379 453.08L379.15 450.82L379.3 453.25L379.45 450.8L379.6 449.85L379.75 451.95L379.9 451.52L380.05 456.27L380.2 453.96L380.35 450.67L380.5 451.29L380.65 451.79L380.8 451.68L380.95 452.07L381.1 450.44L381.25 449.74L381.4 447.41L381.55 449.74L381.7 452.35L381.85 450.64L382 450.79L382.15 447.52L382.3 446.05L382.45 451.15L382.6 448.39L382.75 448.7L382.9 445.9L383.05 452.54L383.2 452.37L383.35 446.04L383.5 448.37L383.65 448.9L383.8 450.12L383.95 450.9L384.1 448.99L384.25 448.8L384.4 450.02L384.55 445.47L384.7 448.49L384.85 448.59L385 449.13L385.15 446.44L385.3 447.05L385.45 445.94L385.6 447.83L385.75 445.97L385.9 452.73L386.05 446.54L386.2 450.16L386.35 446.36L386.5 446.65L386.65 449.09L386.8 446.68L386.95 451.36L387.1 447.86L387.25 443.41L387.4 449.33L387.55 441.02L387.7 445.73L387.85 444.64L388 446.19L388.15 444.41L388.3 444.91L388.45 444.9L388.6 446.95L388.75 443.53L388.9 444.46L389.05 449.48L389.2 448.84L389.35 446.96L389.5 444.53L389.65 443.16L389.8 444.29L389.95 441.32L390.1 445.95L390.25 442.07L390.4 439.15L390.55 445.18L390.7 445.87L390.85 444.51L391 443.77L391.15 443.23L391.3 445.09L391.45 444.46L391.6 438.56L391.75 442.48L391.9 440.95L392.05 444.07L392.2 440.05L392.35 439.6L392.5 436.87L392.65 439.93L392.8 440.18L392.95 442.11L393.1 438.65L393.25 440.6L393.4 442.62L393.55 435.83L393.7 439.95L393.85 437.52L394 433.98L394.15 435.36L394.3 436.76L394.45 434.13L394.6 437.36L394.75 434.19L394.9 437.56L395.05 434.39L395.2 437.22L395.35 436.72L395.5 436L395.65 436.22L395.8 439.15L395.95 435.18L396.1 429.72L396.25 431.75L396.4 434.22L396.55 434.07L396.7 430.6L396.85 432.45L397 431.31L397.15 430.34L397.3 429.7L397.45 430.4L397.6 432.54L397.75 426.37L397.9 431.71L398.05 429.78L398.2 425.96L398.35 429.49L398.5 428.44L398.65 426.68L398.8 429.5L398.95 427.65L399.1 430.44L399.25 430.69L399.4 428.74L399.55 428.59L399.7 425.83L399.85 427.58L400 429.91L400.15 431.46L400.3 424.04L400.45 428.08L400.6 427.53L400.75 431.99L400.9 428.42L401.05 431.99L401.2 423.76L401.35 424.45L401.5 428.41L401.65 425.38L401.8 424.49L401.95 427.69L402.1 427.83L402.25 429.19L402.4 432.18L402.55 427.43L402.7 428.16L402.85 426.76L403 430.27L403.15 432.5L403.3 432.81L403.45 426.23L403.6 432.15L403.75 430.84L403.9 430.66L404.05 429.65L404.2 431.28L404.35 433.27L404.5 434.37L404.65 434.92L404.8 431.94L404.95 433.9L405.1 432.44L405.25 436.34L405.4 434.98L405.55 432.43L405.7 437.59L405.85 439.27L406 432.61L406.15 440.09L406.3 437.74L406.45 436.82L406.6 432.71L406.75 434.97L406.9 435.95L407.05 439.8L407.2 438.23L407.35 439.15L407.5 439.28L407.65 440.25L407.8 438.94L407.95 442.56L408.1 435.58L408.25 438.45L408.4 439.84L408.55 439.1L408.7 443.78L408.85 440.44L409 437.73L409.15 440.74L409.3 441.12L409.45 440.61L409.6 441.15L409.75 441.67L409.9 444.38L410.05 442.84L410.2 444.05L410.35 443.41L410.5 446.26L410.65 444.08L410.8 444.77L410.95 446.59L411.1 447.29L411.25 447.23L411.4 443.36L411.55 442.35L411.7 450.75L411.85 442.57L412 444.12L412.15 442.81L412.3 446.45L412.45 445.97L412.6 441.39L412.75 448.61L412.9 445.4L413.05 448.93L413.2 448.75L413.35 446.92L413.5 449.12L413.65 445.53L413.8 447.34L413.95 447.03L414.1 447.8L414.25 448.76L414.4 448.13L414.55 446.98L414.7 449.33L414.85 447.35L415 449.87L415.15 446.57L415.3 445.99L415.45 453.08L415.6 445.96L415.75 450.35L415.9 452.14L416.05 450.34L416.2 449.85L416.35 448.86L416.5 449.03L416.65 447.56L416.8 450.37L416.95 450.84L417.1 446.79L417.25 445.26L417.4 455.9L417.55 449.39L417.7 447.62L417.85 447.74L418 451.55L418.15 452.65L418.3 448.2L418.45 449.46L418.6 451.36L418.75 449.28L418.9 450.99L419.05 451.22L419.2 451.95L419.35 452.58L419.5 450.86L419.65 449.43L419.8 448L419.95 450.62L420.1 448.8L420.25 450.01L420.4 450.49L420.55 450.79L420.7 452.89L420.85 451.73L421 451.31L421.15 454.43L421.3 451.32L421.45 454.9L421.6 451.27L421.75 452.15L421.9 449.35L422.05 451.64L422.2 449.66L422.35 454.37L422.5 452L422.65 454.46L422.8 452.68L422.95 449.71L423.1 447.11L423.25 451.59L423.4 450.72L423.55 450.99L423.7 452.54L423.85 452.18L424 451.44L424.15 452.65L424.3 450.69L424.45 450.28L424.6 451.14L424.75 454.27L424.9 453.45L425.05 451.52L425.2 453.09L425.35 453.57L425.5 450.22L425.65 456.14L425.8 451.67L425.95 450.24L426.1 452.61L426.25 452.86L426.4 455.15L426.55 455.09L426.7 451.72L426.85 451.51L427 451.98L427.15 452L427.3 450.71L427.45 452.47L427.6 455.2L427.75 454.57L427.9 452.12L428.05 450.3L428.2 454.13L428.35 455.28L428.5 450.02L428.65 453.93L428.8 456.38L428.95 455.12L429.1 454.22L429.25 452.85L429.4 451.77" fill="none" stroke="#2b3079" stroke-width="0.6" stroke-linejoin="round"/>
<path d="M400.2 355V432" stroke="#2f3784" stroke-width="1"/>
<rect x="371.5" y="342" width="58" height="116" stroke="#757575" stroke-width="1" fill="none" />
<line x1="368.5" y1="342" x2="371.5" y2="342" stroke="#757575" stroke-width="1" />
<line x1="368.5" y1="371" x2="371.5" y2="371" stroke="#757575" stroke-width="1" />
<line x1="368.5" y1="400.2" x2="371.5" y2="400.2" stroke="#757575" stroke-width="1" />
<line x1="368.5" y1="429.2" x2="371.5" y2="429.2" stroke="#757575" stroke-width="1" />
<line x1="368.5" y1="458" x2="371.5" y2="458" stroke="#757575" stroke-width="1" />
<line x1="371.6" y1="457.8" x2="371.6" y2="460.8" stroke="#757575" stroke-width="1" />
<text x="371.6" y="472.81" font-size="9" text-anchor="middle" fill="#231f20" >−2</text>
<line x1="399.5" y1="457.8" x2="399.5" y2="460.8" stroke="#757575" stroke-width="1" />
<text x="399.5" y="472.81" font-size="9" text-anchor="middle" fill="#231f20" >0</text>
<line x1="427.5" y1="457.8" x2="427.5" y2="460.8" stroke="#757575" stroke-width="1" />
<text x="427.5" y="472.81" font-size="9" text-anchor="middle" fill="#231f20" >2</text>
<text x="427.5" y="350.8" font-size="9" text-anchor="end" fill="#231f20" >RBW: 1kHz</text>
<text x="399.4" y="486.81" font-size="9" text-anchor="middle" fill="#231f20">Δ<tspan font-style="italic">f</tspan></text>
<text x="398.4" y="496.91" font-size="9" text-anchor="middle" fill="#231f20" >(MHz + 2.80791GHz)</text>
<text x="447.4" y="344.7" font-size="14.5" font-weight="bold" fill="#231f20">c</text>
<line x1="483.3" y1="343.2" x2="662.2" y2="457.5" stroke="#d0324a" stroke-width="0.9"/>
<circle cx="495.2" cy="350.3" r="2.1" fill="#6a6eb0"/>
<circle cx="526.1" cy="370.3" r="2.1" fill="#6a6eb0"/>
<circle cx="557.1" cy="390.3" r="2.1" fill="#6a6eb0"/>
<circle cx="588" cy="410.4" r="2.1" fill="#6a6eb0"/>
<circle cx="618.8" cy="430.5" r="2.1" fill="#6a6eb0"/>
<circle cx="649.8" cy="450.4" r="2.1" fill="#6a6eb0"/>
<rect x="487.4" y="344.4" width="17.6" height="11.6" fill="none" stroke="#d0324a" stroke-width="1"/>
<rect x="480.5" y="342.5" width="186" height="115" stroke="#757575" stroke-width="1" fill="none" />
<line x1="477.5" y1="365.6" x2="480.5" y2="365.6" stroke="#757575" stroke-width="1" />
<text x="475.6" y="368.91" font-size="9" text-anchor="end" fill="#231f20" >2.7</text>
<line x1="477.5" y1="394.4" x2="480.5" y2="394.4" stroke="#757575" stroke-width="1" />
<text x="475.6" y="397.71" font-size="9" text-anchor="end" fill="#231f20" >2.5</text>
<line x1="477.5" y1="423.2" x2="480.5" y2="423.2" stroke="#757575" stroke-width="1" />
<text x="475.6" y="426.51" font-size="9" text-anchor="end" fill="#231f20" >2.3</text>
<line x1="477.5" y1="452" x2="480.5" y2="452" stroke="#757575" stroke-width="1" />
<text x="475.6" y="455.31" font-size="9" text-anchor="end" fill="#231f20" >2.1</text>
<line x1="501.9" y1="457.5" x2="501.9" y2="460.5" stroke="#757575" stroke-width="1" />
<text x="501.9" y="471.61" font-size="9" text-anchor="middle" fill="#231f20" >29.11</text>
<line x1="563.4" y1="457.5" x2="563.4" y2="460.5" stroke="#757575" stroke-width="1" />
<text x="563.4" y="471.61" font-size="9" text-anchor="middle" fill="#231f20" >29.13</text>
<line x1="625.3" y1="457.5" x2="625.3" y2="460.5" stroke="#757575" stroke-width="1" />
<text x="625.3" y="471.61" font-size="9" text-anchor="middle" fill="#231f20" >29.15</text>
<text transform="translate(456.2,400) rotate(-90)" font-size="9" text-anchor="middle" fill="#231f20">Δ<tspan font-style="italic">f</tspan> (GHz)</text>
<text x="572" y="486.31" font-size="9" text-anchor="middle" fill="#231f20"><tspan font-style="italic">f</tspan><tspan font-size="6" dy="2.4">RF</tspan><tspan dy="-2.4"> (GHz)</tspan></text>
<text x="15.2" y="521.9" font-size="14.8" font-weight="bold" fill="#231f20">d</text>
<defs><filter id="nz" x="0" y="0" width="1" height="1" color-interpolation-filters="sRGB"><feTurbulence type="fractalNoise" baseFrequency="0.85" numOctaves="2" seed="3"/><feColorMatrix type="matrix" values="0.16 0 0 0 0.077  0.33 0 0 0 0.07  0.5 0 0 0 0.33  0 0 0 0 1"/></filter><filter id="gl" filterUnits="userSpaceOnUse" x="0" y="500" width="685" height="135"><feGaussianBlur stdDeviation="5"/></filter><filter id="gl2" filterUnits="userSpaceOnUse" x="0" y="500" width="685" height="135"><feGaussianBlur stdDeviation="1.6"/></filter><filter id="bl05" filterUnits="userSpaceOnUse" x="0" y="500" width="685" height="135"><feGaussianBlur stdDeviation="0.45"/></filter></defs>
<clipPath id="dclip0"><rect x="68.0" y="519.0" width="276.8" height="97.7"/></clipPath>
<g clip-path="url(#dclip0)">
<rect x="68.0" y="519.0" width="276.8" height="97.7" filter="url(#nz)"/>
<path d="M68 568.53L70 568.63L72 569.39L74 568.08L76 569.52L78 568.48L80 568.96L82 569.09L84 568.27L86 569.32L88 568.71L90 568.13L92 569.34L94 569.86L96 569.97L98 569.25L100 569.24L102 569.69L104 569.71L106 570.34L108 569.91L110 570.41L112 569.66L114 570.14L116 570.42L118 570.99L120 569.88L122 572.09L124 571.12L126 572.16L128 572.17L130 570.34L132 568.44L134 567.79L136 565.94L138 565.73L140 565.23L142 564.72L144 565.88L146 565.65L148 566.08L150 565.78L152 565.3L154 564.52L156 565.31L158 565.16L159.9 563.78" fill="none" stroke="#5a8ad8" stroke-width="22" opacity="0.75" filter="url(#gl)"/>
<path d="M68 568.53L70 568.63L72 569.39L74 568.08L76 569.52L78 568.48L80 568.96L82 569.09L84 568.27L86 569.32L88 568.71L90 568.13L92 569.34L94 569.86L96 569.97L98 569.25L100 569.24L102 569.69L104 569.71L106 570.34L108 569.91L110 570.41L112 569.66L114 570.14L116 570.42L118 570.99L120 569.88L122 572.09L124 571.12L126 572.16L128 572.17L130 570.34L132 568.44L134 567.79L136 565.94L138 565.73L140 565.23L142 564.72L144 565.88L146 565.65L148 566.08L150 565.78L152 565.3L154 564.52L156 565.31L158 565.16L159.9 563.78" fill="none" stroke="#7aa6e8" stroke-width="8" opacity="0.45" filter="url(#gl2)"/>
<path d="M68 563.8L68.7 564.29L69.4 565.09L70.1 565.03L70.8 564.12L71.5 565.25L72.2 565.28L72.9 564.68L73.6 564.93L74.3 564.93L75 565.32L75.7 564.93L76.4 564.71L77.1 565.41L77.8 564.89L78.5 564.36L79.2 563.31L79.9 565.42L80.6 564.41L81.3 564.9L82 565.38L82.7 564.82L83.4 565.19L84.1 563.92L84.8 564.19L85.5 565.57L86.2 565.16L86.9 564.87L87.6 565.45L88.3 564.87L89 564.43L89.7 563.66L90.4 563.84L91.1 565.6L91.8 564.97L92.5 565.64L93.2 565.32L93.9 566.04L94.6 566.55L95.3 565.88L96 565.6L96.7 565.18L97.4 565.01L98.1 565.54L98.8 565.41L99.5 565.66L100.2 564.78L100.9 565.46L101.6 565.52L102.3 565.27L103 565.09L103.7 565.85L104.4 566.48L105.1 565.98L105.8 565.73L106.5 565.99L107.2 566.37L107.9 565.95L108.6 564.99L109.3 565.67L110 566.74L110.7 566.35L111.4 566.07L112.1 565.21L112.8 564.78L113.5 564.88L114.2 566.35L114.9 566.44L115.6 565.75L116.3 565.94L117 567.34L117.7 567.11L118.4 567.01L119.1 565.58L119.8 565.7L120.5 567.26L121.2 567.25L121.9 567.37L122.6 567.62L123.3 566.94L124 566.69L124.7 567.44L125.4 568.07L126.1 568.17L126.8 567.63L127.5 567.49L128.2 567.76L128.9 567.29L129.6 566.98L130.3 565.88L131 566.27L131.7 564.27L132.4 563.79L133.1 564.07L133.8 563.84L134.5 563.97L135.2 563.31L135.9 562.22L136.6 561.31L137.3 561.21L138 561.81L138.7 560.69L139.4 561.03L140.1 561.55L140.8 561.32L141.5 561.07L142.2 560.61L142.9 560.94L143.6 560.86L144.3 561.72L145 561.59L145.7 560.98L146.4 561.76L147.1 561.32L147.8 562.37L148.5 563.02L149.2 562.16L149.9 561.17L150.6 560.59L151.3 560.6L152 561.83L152.7 561.59L153.4 561.2L154.1 560.53L154.8 560.65L155.5 560.13L156.2 561L156.9 561.06L157.6 559.82L158.3 561.03L159 560.27L159.7 559.64L159.7 568.98L159 568.49L158.3 569.22L157.6 569.16L156.9 570.01L156.2 568.9L155.5 569.17L154.8 568.26L154.1 568.65L153.4 568.95L152.7 569.73L152 569.28L151.3 569.13L150.6 570.01L149.9 570.22L149.2 569.73L148.5 570.06L147.8 570.02L147.1 570.47L146.4 569.82L145.7 569.34L145 569.6L144.3 569.77L143.6 570.04L142.9 569.75L142.2 568.76L141.5 568.63L140.8 568.57L140.1 570.05L139.4 569.92L138.7 569.61L138 570.51L137.3 568.99L136.6 569.64L135.9 570.42L135.2 572.21L134.5 571.47L133.8 572.45L133.1 572.68L132.4 572.93L131.7 573.38L131 574.63L130.3 573.45L129.6 575.64L128.9 576.12L128.2 576.79L127.5 576.36L126.8 576.32L126.1 575.9L125.4 576.1L124.7 575.69L124 575.34L123.3 575.97L122.6 575.74L121.9 575.69L121.2 576.06L120.5 575.92L119.8 573.65L119.1 574.29L118.4 574.09L117.7 574.68L117 575.58L116.3 574.57L115.6 573.2L114.9 573.96L114.2 574.17L113.5 573.39L112.8 573.33L112.1 573.42L111.4 573.33L110.7 574.02L110 574.65L109.3 573.75L108.6 574.25L107.9 574.49L107.2 574.37L106.5 574.37L105.8 575.03L105.1 575.2L104.4 574.76L103.7 574.57L103 574.47L102.3 574.85L101.6 573.41L100.9 573.72L100.2 573.63L99.5 574.05L98.8 573.45L98.1 574.05L97.4 572.94L96.7 573.66L96 573.57L95.3 573.91L94.6 574.36L93.9 574.17L93.2 573.68L92.5 573.43L91.8 573.91L91.1 574.18L90.4 572.74L89.7 572.24L89 573.97L88.3 573.53L87.6 574.18L86.9 573.3L86.2 573.48L85.5 572.95L84.8 572.91L84.1 571.84L83.4 572.89L82.7 572.93L82 573.15L81.3 572.88L80.6 573.14L79.9 573.38L79.2 571.56L78.5 572.67L77.8 573.25L77.1 573.42L76.4 573.12L75.7 572.76L75 573.57L74.3 572.83L73.6 572.08L72.9 572.1L72.2 572.86L71.5 572.85L70.8 572.05L70.1 572.5L69.4 573.38L68.7 573L68 572.41Z" fill="#f1d9dd" filter="url(#bl05)"/>
<path d="M68 564.94L68.7 565.28L69.4 565.64L70.1 565.31L70.8 565.33L71.5 565.96L72.2 566.13L72.9 565.61L73.6 565.25L74.3 564.98L75 565.79L75.7 565.73L76.4 564.85L77.1 565.91L77.8 565.72L78.5 565.65L79.2 564.46L79.9 565.88L80.6 565.27L81.3 565.43L82 565.8L82.7 565.18L83.4 566.11L84.1 565.19L84.8 565.26L85.5 566.08L86.2 565.69L86.9 566.36L87.6 565.84L88.3 565.16L89 565.89L89.7 565.67L90.4 565.58L91.1 566.33L91.8 566.05L92.5 566.37L93.2 567.14L93.9 566.33L94.6 566.63L95.3 567.4L96 566.41L96.7 566.5L97.4 565.95L98.1 565.72L98.8 566.38L99.5 566.01L100.2 565.88L100.9 565.93L101.6 566.72L102.3 566.8L103 566.07L103.7 567L104.4 566.89L105.1 566.96L105.8 567.34L106.5 566.83L107.2 567.32L107.9 567.06L108.6 566.57L109.3 567.2L110 566.95L110.7 566.73L111.4 566.71L112.1 566.09L112.8 566.27L113.5 566.48L114.2 566.68L114.9 566.42L115.6 566.33L116.3 567.51L117 567.81L117.7 567.96L118.4 567.52L119.1 566.68L119.8 566.78L120.5 567.47L121.2 567.95L121.9 569.11L122.6 569.46L123.3 567.92L124 567.98L124.7 568.85L125.4 568.74L126.1 569.1L126.8 568.73L127.5 568.41L128.2 569.04L128.9 568.89L129.6 567.72L130.3 566.25L131 567.01L131.7 566.19L132.4 564.83L133.1 565.5L133.8 565.21L134.5 564.35L135.2 564.1L135.9 562.56L136.6 562.9L137.3 561.35L138 562.94L138.7 562.61L139.4 562.47L140.1 561.65L140.8 561.68L141.5 562.35L142.2 561.51L142.9 562.58L143.6 562.39L144.3 562.87L145 561.82L145.7 561.74L146.4 562.96L147.1 562.43L147.8 562.42L148.5 563.58L149.2 562.83L149.9 562.31L150.6 562.45L151.3 561.73L152 562.06L152.7 562.64L153.4 561.35L154.1 560.89L154.8 561.67L155.5 561.35L156.2 562.36L156.9 562.16L157.6 561.21L158.3 561.57L159 561.72L159.7 561.5L159.7 567.89L159 567.54L158.3 567.69L157.6 567.98L156.9 568.08L156.2 568.03L155.5 567.96L154.8 567.44L154.1 568.03L153.4 567.82L152.7 568.78L152 568.04L151.3 568.1L150.6 568.87L149.9 569.38L149.2 568.73L148.5 569.24L147.8 569.36L147.1 568.77L146.4 568.93L145.7 568.11L145 568.75L144.3 568.86L143.6 568.55L142.9 569.41L142.2 568.02L141.5 567.93L140.8 568.08L140.1 568.88L139.4 568.86L138.7 568.61L138 569.4L137.3 568.28L136.6 568.91L135.9 569.18L135.2 570.54L134.5 570.94L133.8 571.48L133.1 572.3L132.4 571.74L131.7 572.65L131 573.85L130.3 573.48L129.6 574.5L128.9 575.02L128.2 575.26L127.5 575.39L126.8 575.51L126.1 575L125.4 575.87L124.7 575.11L124 574.81L123.3 574.25L122.6 575.46L121.9 575.02L121.2 574.78L120.5 574.26L119.8 573.48L119.1 573.2L118.4 574.06L117.7 573.9L117 574.23L116.3 573.59L115.6 572.56L114.9 573.14L114.2 573.59L113.5 572.46L112.8 572.15L112.1 572.77L111.4 573.02L110.7 572.88L110 573.2L109.3 572.83L108.6 573.2L107.9 572.72L107.2 574L106.5 573.29L105.8 573.15L105.1 573.9L104.4 573.09L103.7 573.34L103 573.22L102.3 572.88L101.6 572.65L100.9 572.74L100.2 572.65L99.5 572.64L98.8 572.94L98.1 572.94L97.4 572.76L96.7 572.76L96 573.5L95.3 573.03L94.6 573.78L93.9 572.77L93.2 573.5L92.5 573.07L91.8 572.15L91.1 572.74L90.4 571.27L89.7 571.46L89 572.76L88.3 571.8L87.6 572.34L86.9 572.52L86.2 572.05L85.5 572.82L84.8 571.64L84.1 571.32L83.4 572.27L82.7 572.31L82 572.74L81.3 571.76L80.6 571.91L79.9 571.89L79.2 570.9L78.5 571.73L77.8 571.97L77.1 572.51L76.4 571.21L75.7 572.37L75 572.3L74.3 571.98L73.6 571.93L72.9 571.5L72.2 573.08L71.5 572.84L70.8 572.2L70.1 571.66L69.4 572.09L68.7 571.64L68 571.48Z" fill="#e1222d" filter="url(#bl05)"/>
<path d="M68 566.91L68.7 567.02L69.4 566.89L70.1 567.06L70.8 567.16L71.5 567.43L72.2 567.62L72.9 566.81L73.6 566.56L74.3 567.04L75 567.08L75.7 567.46L76.4 566.67L77.1 567.09L77.8 566.61L78.5 566.47L79.2 566.4L79.9 567.69L80.6 567.39L81.3 567.17L82 567.58L82.7 566.77L83.4 567.19L84.1 566.98L84.8 567.33L85.5 568.08L86.2 567.53L86.9 567.56L87.6 567.63L88.3 567.28L89 567.4L89.7 567.01L90.4 566.9L91.1 567.8L91.8 567.61L92.5 568.02L93.2 568.12L93.9 568.52L94.6 568.59L95.3 568.36L96 568.49L96.7 567.48L97.4 567.96L98.1 567.23L98.8 567.88L99.5 568.21L100.2 567.29L100.9 567.55L101.6 568.42L102.3 568.57L103 568.27L103.7 568.59L104.4 568.81L105.1 568.82L105.8 568.67L106.5 567.98L107.2 568.49L107.9 568.21L108.6 568.1L109.3 568.09L110 569.07L110.7 568.13L111.4 567.84L112.1 567.97L112.8 567.88L113.5 567.73L114.2 568.41L114.9 567.86L115.6 567.9L116.3 569.12L117 569.41L117.7 569.48L118.4 569.16L119.1 568.07L119.8 568.42L120.5 569.47L121.2 569.69L121.9 570.04L122.6 570.23L123.3 569.97L124 569.1L124.7 570.09L125.4 570.42L126.1 570.84L126.8 570.73L127.5 570.19L128.2 570.24L128.9 570.02L129.6 568.88L130.3 567.95L131 568.28L131.7 567.33L132.4 566.51L133.1 566.66L133.8 566.34L134.5 565.85L135.2 566.3L135.9 564.17L136.6 564.74L137.3 563.24L138 563.82L138.7 564.25L139.4 564.11L140.1 563.87L140.8 563.16L141.5 563.78L142.2 562.94L142.9 564.36L143.6 563.48L144.3 564.4L145 563.41L145.7 562.96L146.4 564.07L147.1 563.81L147.8 564.45L148.5 564.81L149.2 564.32L149.9 564.2L150.6 563.94L151.3 563.09L152 563.32L152.7 563.74L153.4 563.31L154.1 562.99L154.8 563.31L155.5 563.32L156.2 563.64L156.9 563.53L157.6 562.78L158.3 562.7L159 562.95L159.7 562.5L159.7 565.77L159 566.39L158.3 565.97L157.6 566.15L156.9 567.19L156.2 567.25L155.5 566.6L154.8 566.26L154.1 566.02L153.4 566.01L152.7 567.46L152 566.96L151.3 566.58L150.6 567.02L149.9 567.27L149.2 567.65L148.5 568.38L147.8 567.48L147.1 567.28L146.4 567.21L145.7 566.91L145 566.81L144.3 567.3L143.6 566.76L142.9 567.32L142.2 566.46L141.5 567.14L140.8 566.44L140.1 567.29L139.4 566.88L138.7 567.53L138 567.21L137.3 566.59L136.6 568.01L135.9 567.76L135.2 569.45L134.5 569.89L133.8 569.98L133.1 570.41L132.4 569.49L131.7 570.31L131 571.69L130.3 571.49L129.6 572.46L128.9 573.17L128.2 573.63L127.5 573.54L126.8 573.96L126.1 574.21L125.4 574.02L124.7 573.91L124 572.47L123.3 573.09L122.6 574.23L121.9 573.6L121.2 572.8L120.5 573.12L119.8 571.73L119.1 571.38L118.4 572.26L117.7 572.77L117 572.47L116.3 571.95L115.6 571.02L114.9 571.31L114.2 571.77L113.5 570.93L112.8 571.08L112.1 571.59L111.4 571.11L110.7 571.39L110 572.41L109.3 571.8L108.6 570.99L107.9 571.56L107.2 572.38L106.5 571.35L105.8 572.23L105.1 571.94L104.4 571.99L103.7 571.35L103 571.18L102.3 571.48L101.6 571.67L100.9 570.98L100.2 570.54L99.5 571.23L98.8 570.92L98.1 570.53L97.4 571.44L96.7 571.01L96 571.83L95.3 572.34L94.6 571.74L93.9 571.32L93.2 571.36L92.5 571.22L91.8 570.73L91.1 571.18L90.4 569.77L89.7 569.94L89 570.98L88.3 570.39L87.6 571.27L86.9 570.94L86.2 571.2L85.5 570.81L84.8 570.4L84.1 570.15L83.4 570.71L82.7 570.36L82 570.52L81.3 570.61L80.6 570.37L79.9 570.92L79.2 570.01L78.5 570.43L77.8 570.19L77.1 570.47L76.4 569.99L75.7 570.41L75 570.8L74.3 570.61L73.6 569.77L72.9 569.78L72.2 570.73L71.5 570.91L70.8 570.61L70.1 570.34L69.4 570.41L68.7 570.46L68 570.37Z" fill="#a30f1d" filter="url(#bl05)"/>
<path d="M102.6 571L104 577.8L105.2 571Z" fill="#d81f2c" filter="url(#bl05)"/>
<path d="M159.9 567.3L161.9 567.3L163.9 567.3L165.9 567.3L167.9 567.3L169.9 567.3L171.9 567.3L173.9 567.3L175.9 567.3L177.9 567.3L179.9 567.3L181.9 567.3L183.9 567.3L185.9 567.3L187.9 567.3L189.9 567.3L191.9 567.3L193.9 567.3L195.9 567.3L197.9 567.3L199.9 567.3L201.9 567.3L203.9 567.3L205.9 567.3L207.9 567.3L209.9 567.3L211.9 567.3L213.9 567.3L215.9 567.3L217.9 567.3L219.9 567.3L221.9 567.3L223.9 567.3L225.9 567.3L227.9 567.3L229.9 567.3L231.9 567.3L233.9 567.3L235.9 567.3L237.9 567.3L239.9 567.3L241.9 567.3L243.9 567.3L245.9 567.3L247.9 567.3L249.9 567.3L251.7 567.3" fill="none" stroke="#5a8ad8" stroke-width="22" opacity="0.75" filter="url(#gl)"/>
<path d="M159.9 567.3L161.9 567.3L163.9 567.3L165.9 567.3L167.9 567.3L169.9 567.3L171.9 567.3L173.9 567.3L175.9 567.3L177.9 567.3L179.9 567.3L181.9 567.3L183.9 567.3L185.9 567.3L187.9 567.3L189.9 567.3L191.9 567.3L193.9 567.3L195.9 567.3L197.9 567.3L199.9 567.3L201.9 567.3L203.9 567.3L205.9 567.3L207.9 567.3L209.9 567.3L211.9 567.3L213.9 567.3L215.9 567.3L217.9 567.3L219.9 567.3L221.9 567.3L223.9 567.3L225.9 567.3L227.9 567.3L229.9 567.3L231.9 567.3L233.9 567.3L235.9 567.3L237.9 567.3L239.9 567.3L241.9 567.3L243.9 567.3L245.9 567.3L247.9 567.3L249.9 567.3L251.7 567.3" fill="none" stroke="#7aa6e8" stroke-width="8" opacity="0.45" filter="url(#gl2)"/>
<path d="M159.9 562.72L160.6 562.07L161.3 563.03L162 563.05L162.7 562.16L163.4 562.11L164.1 562.41L164.8 562.29L165.5 562.38L166.2 562.14L166.9 563.02L167.6 562.61L168.3 562.41L169 562.65L169.7 562.68L170.4 563.07L171.1 562.19L171.8 562.57L172.5 562.69L173.2 563.18L173.9 561.89L174.6 562.55L175.3 563.12L176 562.03L176.7 562.84L177.4 562.08L178.1 562.66L178.8 562.08L179.5 562L180.2 562.37L180.9 562.2L181.6 563L182.3 562.18L183 562.07L183.7 562.54L184.4 561.89L185.1 563.06L185.8 562.61L186.5 561.9L187.2 563.03L187.9 562.72L188.6 562.75L189.3 562.06L190 562.19L190.7 561.88L191.4 562.74L192.1 563.04L192.8 562.33L193.5 562.72L194.2 563.03L194.9 562.96L195.6 562.33L196.3 562.48L197 562.38L197.7 562.1L198.4 562.83L199.1 561.93L199.8 562.93L200.5 562.9L201.2 562.65L201.9 562.63L202.6 562.64L203.3 561.94L204 561.91L204.7 561.83L205.4 562.25L206.1 562.82L206.8 561.96L207.5 562.22L208.2 562.46L208.9 562.95L209.6 562.25L210.3 563.2L211 562.59L211.7 562.84L212.4 562.05L213.1 562.74L213.8 562.79L214.5 562.72L215.2 562.1L215.9 561.96L216.6 563.04L217.3 562.97L218 562.46L218.7 562.38L219.4 562.86L220.1 562.15L220.8 563.14L221.5 562.84L222.2 563.04L222.9 562.7L223.6 562.78L224.3 562.92L225 561.83L225.7 562.25L226.4 562.82L227.1 561.82L227.8 562.34L228.5 562.94L229.2 561.9L229.9 562.97L230.6 562.28L231.3 562.95L232 563.04L232.7 562.86L233.4 562.53L234.1 562.18L234.8 562.54L235.5 562.04L236.2 562.75L236.9 562.36L237.6 563.02L238.3 562.01L239 563.05L239.7 562.09L240.4 562.98L241.1 562.75L241.8 562.97L242.5 563.02L243.2 562.43L243.9 562.63L244.6 563.08L245.3 561.89L246 561.91L246.7 562.45L247.4 562.4L248.1 562.84L248.8 561.97L249.5 562.63L250.2 563.06L250.9 562.09L251.6 561.97L251.6 571.84L250.9 572.51L250.2 572.39L249.5 572.15L248.8 571.85L248.1 571.54L247.4 571.56L246.7 572.5L246 572.47L245.3 572.61L244.6 571.86L243.9 572.52L243.2 572.17L242.5 571.94L241.8 571.96L241.1 571.59L240.4 572.32L239.7 571.97L239 572.36L238.3 572.36L237.6 571.81L236.9 572.49L236.2 571.6L235.5 571.43L234.8 571.46L234.1 572.65L233.4 572.18L232.7 572.12L232 571.64L231.3 572.62L230.6 572.11L229.9 572.28L229.2 571.75L228.5 572.01L227.8 571.89L227.1 571.46L226.4 571.52L225.7 571.79L225 572.3L224.3 572.53L223.6 571.54L222.9 572.64L222.2 572.31L221.5 572.59L220.8 572.77L220.1 571.88L219.4 572.77L218.7 572L218 572.55L217.3 571.76L216.6 571.46L215.9 572.32L215.2 572.38L214.5 572.51L213.8 571.79L213.1 571.75L212.4 572.17L211.7 571.7L211 571.5L210.3 572.4L209.6 572.16L208.9 571.87L208.2 571.69L207.5 572.05L206.8 571.9L206.1 571.59L205.4 571.93L204.7 572.14L204 571.75L203.3 572L202.6 572.48L201.9 572.07L201.2 572.46L200.5 571.87L199.8 571.58L199.1 571.63L198.4 572.01L197.7 571.62L197 571.79L196.3 571.76L195.6 572.66L194.9 571.83L194.2 572.18L193.5 571.45L192.8 572.29L192.1 571.97L191.4 572.25L190.7 572.73L190 571.86L189.3 571.65L188.6 572.02L187.9 572.2L187.2 571.72L186.5 572.42L185.8 571.75L185.1 572.22L184.4 572.26L183.7 572.65L183 572.33L182.3 571.5L181.6 571.48L180.9 572.04L180.2 572.78L179.5 571.56L178.8 572.61L178.1 571.73L177.4 572.06L176.7 572.38L176 571.74L175.3 572.65L174.6 571.85L173.9 571.8L173.2 572.62L172.5 571.73L171.8 572.23L171.1 571.95L170.4 571.42L169.7 572.76L169 572L168.3 571.91L167.6 572.01L166.9 572L166.2 572.2L165.5 572.09L164.8 572.32L164.1 572.69L163.4 572.12L162.7 572.31L162 572.41L161.3 571.69L160.6 572.77L159.9 572.55Z" fill="#f1d9dd" filter="url(#bl05)"/>
<path d="M159.9 563.8L160.6 563.26L161.3 563.61L162 563.12L162.7 563.14L163.4 563.63L164.1 563.2L164.8 563.6L165.5 563.55L166.2 563.19L166.9 563.59L167.6 563.07L168.3 563.64L169 563.75L169.7 563.91L170.4 563.42L171.1 563.41L171.8 563.39L172.5 563.03L173.2 563.81L173.9 563.31L174.6 563.26L175.3 563.9L176 563.71L176.7 563.8L177.4 563.18L178.1 563.42L178.8 563.2L179.5 563.47L180.2 562.99L180.9 563.27L181.6 563.22L182.3 563.15L183 563.07L183.7 563.5L184.4 563.15L185.1 562.99L185.8 563.05L186.5 563.46L187.2 563.8L187.9 563.24L188.6 563.58L189.3 563.3L190 563.83L190.7 563.38L191.4 563.69L192.1 563.87L192.8 563.11L193.5 563.51L194.2 563.35L194.9 562.97L195.6 563.22L196.3 563.87L197 563.6L197.7 563.53L198.4 563.12L199.1 563.73L199.8 563.93L200.5 563.89L201.2 563.65L201.9 563.39L202.6 563.65L203.3 563.26L204 563.48L204.7 563.66L205.4 563.48L206.1 563.76L206.8 563.07L207.5 563.13L208.2 563.77L208.9 563.21L209.6 563.84L210.3 563.6L211 563.35L211.7 563.11L212.4 563.04L213.1 563.64L213.8 562.98L214.5 563.12L215.2 563.41L215.9 562.97L216.6 563.85L217.3 562.95L218 562.99L218.7 563.92L219.4 563.69L220.1 563.59L220.8 563.02L221.5 563.07L222.2 563.13L222.9 563.53L223.6 563.7L224.3 563.37L225 563.24L225.7 563.85L226.4 563.88L227.1 563.6L227.8 563.87L228.5 563.15L229.2 563.16L229.9 563.02L230.6 563.68L231.3 562.97L232 563.28L232.7 563.54L233.4 563.1L234.1 563.09L234.8 563.41L235.5 563.8L236.2 563.51L236.9 563.54L237.6 563.52L238.3 563.86L239 563.82L239.7 563.14L240.4 563.07L241.1 563.94L241.8 563.35L242.5 563.93L243.2 563.71L243.9 562.97L244.6 563.87L245.3 563.84L246 563.51L246.7 563.63L247.4 563.47L248.1 563.55L248.8 563.63L249.5 563.77L250.2 563.32L250.9 563.03L251.6 563.2L251.6 571.32L250.9 570.76L250.2 571.1L249.5 570.75L248.8 571.45L248.1 571.35L247.4 570.81L246.7 570.97L246 571.64L245.3 570.87L244.6 571.34L243.9 570.86L243.2 571.24L242.5 571.08L241.8 571.01L241.1 571.4L240.4 570.82L239.7 571.51L239 570.91L238.3 571.36L237.6 570.65L236.9 571.24L236.2 570.84L235.5 571.57L234.8 571.22L234.1 570.67L233.4 570.85L232.7 571.21L232 571.49L231.3 571.38L230.6 571.17L229.9 571.18L229.2 571.62L228.5 571.11L227.8 571.65L227.1 570.79L226.4 571.35L225.7 571.57L225 571.3L224.3 570.89L223.6 571.02L222.9 571.59L222.2 570.67L221.5 570.91L220.8 571.6L220.1 571.23L219.4 571.21L218.7 571.6L218 570.9L217.3 571.18L216.6 571.02L215.9 571.59L215.2 571.38L214.5 570.71L213.8 571.24L213.1 570.83L212.4 570.98L211.7 570.99L211 570.76L210.3 571L209.6 570.66L208.9 571.63L208.2 570.92L207.5 571.14L206.8 571.5L206.1 571.51L205.4 571.27L204.7 570.69L204 571.11L203.3 571.36L202.6 571.38L201.9 571.25L201.2 571.32L200.5 571.18L199.8 570.92L199.1 570.87L198.4 571.61L197.7 571.64L197 570.78L196.3 570.77L195.6 571.48L194.9 571.61L194.2 571L193.5 570.96L192.8 571.21L192.1 571.56L191.4 571.1L190.7 570.97L190 570.73L189.3 570.7L188.6 571.64L187.9 571.47L187.2 570.99L186.5 571.5L185.8 571.36L185.1 570.66L184.4 571.18L183.7 571.21L183 571.33L182.3 571.01L181.6 571.14L180.9 570.95L180.2 571.43L179.5 570.93L178.8 571.05L178.1 571.55L177.4 570.81L176.7 571.18L176 571.43L175.3 570.66L174.6 571.58L173.9 571.46L173.2 571.32L172.5 570.75L171.8 570.74L171.1 571.06L170.4 571.2L169.7 571.46L169 571.61L168.3 570.73L167.6 571.45L166.9 570.92L166.2 571.21L165.5 571.51L164.8 571.34L164.1 571.53L163.4 571.16L162.7 570.99L162 571.11L161.3 570.8L160.6 571.02L159.9 571.41Z" fill="#e1222d" filter="url(#bl05)"/>
<path d="M159.9 565.48L160.6 565.29L161.3 565.4L162 565.23L162.7 565.44L163.4 565.41L164.1 565.06L164.8 565.33L165.5 565.6L166.2 565.19L166.9 565.23L167.6 565.47L168.3 565.43L169 565.09L169.7 565.5L170.4 565.73L171.1 565.4L171.8 565.28L172.5 565.24L173.2 565.72L173.9 565.43L174.6 565.36L175.3 565.62L176 565.45L176.7 565.49L177.4 565.35L178.1 565.16L178.8 565.58L179.5 565.07L180.2 565.75L180.9 565.29L181.6 565.69L182.3 565.47L183 565.44L183.7 564.99L184.4 565.05L185.1 565.22L185.8 565.75L186.5 565.24L187.2 565.53L187.9 565.04L188.6 565.76L189.3 565.5L190 565L190.7 565.13L191.4 565.45L192.1 565.2L192.8 565.15L193.5 565.68L194.2 565.71L194.9 565.12L195.6 565.59L196.3 565.68L197 565.78L197.7 565.45L198.4 565.14L199.1 564.99L199.8 565.04L200.5 565.71L201.2 565.6L201.9 565.51L202.6 565.73L203.3 565.68L204 565.38L204.7 565.36L205.4 565.51L206.1 565.18L206.8 565.07L207.5 565.1L208.2 565.32L208.9 565.33L209.6 565.7L210.3 565.68L211 565.21L211.7 565.29L212.4 565.2L213.1 565.28L213.8 565.33L214.5 565.56L215.2 565.09L215.9 565.03L216.6 565.57L217.3 565.73L218 565.35L218.7 565.05L219.4 565.27L220.1 565.15L220.8 565.78L221.5 565.15L222.2 565.69L222.9 565.25L223.6 565.76L224.3 565.78L225 565.47L225.7 565.78L226.4 565.58L227.1 565.45L227.8 565.52L228.5 565.11L229.2 565.39L229.9 565.59L230.6 565.41L231.3 565.12L232 565.68L232.7 565.33L233.4 565.52L234.1 565.24L234.8 565.28L235.5 565.72L236.2 565.11L236.9 565.06L237.6 565.16L238.3 565.5L239 565.09L239.7 565.11L240.4 565.03L241.1 565.32L241.8 565.59L242.5 565.7L243.2 565.63L243.9 565.56L244.6 565.27L245.3 565.1L246 565.61L246.7 565.64L247.4 565.66L248.1 565.5L248.8 565.26L249.5 565.6L250.2 565.36L250.9 565.7L251.6 565.3L251.6 568.88L250.9 569.27L250.2 568.84L249.5 569.29L248.8 568.89L248.1 569.53L247.4 568.88L246.7 569.01L246 569.25L245.3 569.42L244.6 569.24L243.9 569.33L243.2 568.93L242.5 569.46L241.8 569.13L241.1 569.36L240.4 569.03L239.7 569.13L239 569.48L238.3 568.98L237.6 568.96L236.9 568.88L236.2 569.51L235.5 568.83L234.8 569.12L234.1 569.32L233.4 569.31L232.7 568.91L232 569.22L231.3 569.53L230.6 568.98L229.9 569.54L229.2 568.82L228.5 569.41L227.8 568.84L227.1 569.11L226.4 569.08L225.7 569.03L225 568.98L224.3 569.03L223.6 569.22L222.9 568.92L222.2 569L221.5 568.92L220.8 569.6L220.1 569.11L219.4 569.29L218.7 569.28L218 569.21L217.3 569.06L216.6 569.23L215.9 568.96L215.2 569.33L214.5 568.94L213.8 569.14L213.1 569L212.4 569.48L211.7 568.98L211 569.41L210.3 568.86L209.6 569.07L208.9 568.88L208.2 569.15L207.5 569.41L206.8 569.07L206.1 569.38L205.4 569.15L204.7 569.43L204 569.38L203.3 569.62L202.6 569.17L201.9 569.61L201.2 569.08L200.5 569.42L199.8 569.59L199.1 569.44L198.4 569.28L197.7 569.44L197 569.61L196.3 569.08L195.6 569.51L194.9 569.23L194.2 569.49L193.5 568.83L192.8 569.45L192.1 569.47L191.4 568.91L190.7 568.82L190 569.54L189.3 568.87L188.6 569.09L187.9 569.25L187.2 569.03L186.5 569.32L185.8 569.48L185.1 568.93L184.4 569.41L183.7 569.56L183 569.17L182.3 569.24L181.6 569.44L180.9 569.47L180.2 569.06L179.5 569.22L178.8 569.08L178.1 568.82L177.4 569.03L176.7 569.32L176 569.59L175.3 569.5L174.6 569.33L173.9 568.84L173.2 568.85L172.5 568.82L171.8 569.56L171.1 569.42L170.4 569.06L169.7 569.61L169 568.98L168.3 569.34L167.6 569.57L166.9 569.62L166.2 569.02L165.5 569.32L164.8 569.08L164.1 569.62L163.4 569.26L162.7 568.97L162 569.31L161.3 569.2L160.6 569.43L159.9 568.92Z" fill="#a30f1d" filter="url(#bl05)"/>
<path d="M251.7 567.79L253.7 567.94L255.7 566.42L257.7 565.33L259.7 564.68L261.7 563.2L263.7 563.87L265.7 564.28L267.7 565.06L269.7 565.76L271.7 565.4L273.7 566.22L275.7 566.44L277.7 567.63L279.7 568.16L281.7 569.1L283.7 569.82L285.7 570.08L287.7 570.96L289.7 570.91L291.7 570.97L293.7 570.74L295.7 570.65L297.7 570.22L299.7 570.36L301.7 569.43L303.7 569.7L305.7 569.23L307.7 569.2L309.7 568.48L311.7 567.63L313.7 567.55L315.7 567.42L317.7 566.66L319.7 565.64L321.7 565.33L323.7 564.15L325.7 563.94L327.7 563.49L329.7 562.46L331.7 562.79L333.7 562.93L335.7 563.8L337.7 564.13L339.7 564.33L341.7 563.78L343.7 565.01L344.8 564.92" fill="none" stroke="#5a8ad8" stroke-width="22" opacity="0.75" filter="url(#gl)"/>
<path d="M251.7 567.79L253.7 567.94L255.7 566.42L257.7 565.33L259.7 564.68L261.7 563.2L263.7 563.87L265.7 564.28L267.7 565.06L269.7 565.76L271.7 565.4L273.7 566.22L275.7 566.44L277.7 567.63L279.7 568.16L281.7 569.1L283.7 569.82L285.7 570.08L287.7 570.96L289.7 570.91L291.7 570.97L293.7 570.74L295.7 570.65L297.7 570.22L299.7 570.36L301.7 569.43L303.7 569.7L305.7 569.23L307.7 569.2L309.7 568.48L311.7 567.63L313.7 567.55L315.7 567.42L317.7 566.66L319.7 565.64L321.7 565.33L323.7 564.15L325.7 563.94L327.7 563.49L329.7 562.46L331.7 562.79L333.7 562.93L335.7 563.8L337.7 564.13L339.7 564.33L341.7 563.78L343.7 565.01L344.8 564.92" fill="none" stroke="#7aa6e8" stroke-width="8" opacity="0.45" filter="url(#gl2)"/>
<path d="M251.7 563.26L252.4 563.98L253.1 563.49L253.8 563.67L254.5 563.07L255.2 562.47L255.9 562.53L256.6 561.75L257.3 560.69L258 561.33L258.7 561.17L259.4 560.26L260.1 560.27L260.8 560.09L261.5 558.82L262.2 558.98L262.9 560.01L263.6 559.7L264.3 560L265 560.07L265.7 560.08L266.4 561.04L267.1 561.44L267.8 561.17L268.5 560.8L269.2 561.21L269.9 561.48L270.6 559.83L271.3 561.32L272 560.62L272.7 560.7L273.4 562.48L274.1 561.94L274.8 562.45L275.5 562.3L276.2 562.06L276.9 563L277.6 563.68L278.3 562.66L279 564.26L279.7 563.67L280.4 564.26L281.1 564.18L281.8 564.85L282.5 565.69L283.2 565.14L283.9 565.77L284.6 565.25L285.3 565.94L286 565.74L286.7 566.2L287.4 566.92L288.1 566.38L288.8 567.22L289.5 567.19L290.2 568.23L290.9 566.59L291.6 566.32L292.3 566.52L293 566.76L293.7 566L294.4 566.41L295.1 566.08L295.8 566.94L296.5 566.66L297.2 566.71L297.9 565.61L298.6 565.85L299.3 566.76L300 566.6L300.7 566.55L301.4 564.77L302.1 566.47L302.8 566.27L303.5 565.26L304.2 565.61L304.9 564.75L305.6 565.17L306.3 564.75L307 564.53L307.7 565.36L308.4 564.62L309.1 564.36L309.8 564.08L310.5 564.37L311.2 564.15L311.9 564.09L312.6 563.06L313.3 563.71L314 563.15L314.7 562.26L315.4 563.23L316.1 562.31L316.8 562.09L317.5 563.11L318.2 562.38L318.9 560.49L319.6 561L320.3 560.63L321 561.22L321.7 561.05L322.4 560.65L323.1 560.08L323.8 559.81L324.5 560.62L325.2 559.69L325.9 558.97L326.6 559.47L327.3 559.36L328 560.4L328.7 558.61L329.4 558.36L330.1 559.47L330.8 559.35L331.5 558.97L332.2 558.25L332.9 558.06L333.6 559.13L334.3 558.28L335 558.81L335.7 558.97L336.4 559.67L337.1 559.21L337.8 559.24L338.5 559.92L339.2 560.34L339.9 560.57L340.6 560.48L341.3 559.51L342 560.5L342.7 561.08L343.4 561.13L344.1 560.89L344.8 561.12L344.8 568.47L344.1 570.36L343.4 569.56L342.7 569.18L342 568.78L341.3 567.87L340.6 568.15L339.9 569.01L339.2 569.23L338.5 567.97L337.8 567.16L337.1 567.23L336.4 567.64L335.7 568.15L335 567.12L334.3 566.89L333.6 567.16L332.9 567.13L332.2 566.42L331.5 567.33L330.8 566.51L330.1 567.59L329.4 566.15L328.7 567.45L328 568.15L327.3 567.9L326.6 568.74L325.9 567.24L325.2 567.33L324.5 568.89L323.8 567.92L323.1 568.71L322.4 568.03L321.7 568.95L321 570.17L320.3 569.7L319.6 569.28L318.9 570.11L318.2 570.54L317.5 570.23L316.8 570.13L316.1 570.83L315.4 571.57L314.7 570.05L314 570.82L313.3 572.11L312.6 571.87L311.9 571.21L311.2 571.43L310.5 572.82L309.8 572.87L309.1 572.44L308.4 572.4L307.7 574.03L307 572.79L306.3 573.01L305.6 572.85L304.9 574.25L304.2 573.41L303.5 574.47L302.8 574.16L302.1 574.01L301.4 574.34L300.7 575.94L300 574.69L299.3 574.86L298.6 574.05L297.9 574.05L297.2 574.14L296.5 575.02L295.8 574.74L295.1 575.52L294.4 574.88L293.7 575.2L293 574.18L292.3 574.74L291.6 574.64L290.9 575.51L290.2 575.42L289.5 575L288.8 575.15L288.1 575.19L287.4 575.46L286.7 574.51L286 574.75L285.3 574.51L284.6 573.37L283.9 573.12L283.2 574.1L282.5 573.28L281.8 573.38L281.1 572.88L280.4 572.46L279.7 572.13L279 572.07L278.3 571.65L277.6 571.1L276.9 571.89L276.2 571.21L275.5 570.62L274.8 571.24L274.1 569.92L273.4 569.86L272.7 568.72L272 569.25L271.3 569.16L270.6 568.48L269.9 569.19L269.2 568.84L268.5 569.14L267.8 569.18L267.1 568.68L266.4 568.77L265.7 568.16L265 567.66L264.3 568.03L263.6 568.61L262.9 568.22L262.2 568.4L261.5 568.12L260.8 568.57L260.1 568.85L259.4 568.56L258.7 569L258 569.33L257.3 570.01L256.6 570.89L255.9 571.19L255.2 571.83L254.5 571.91L253.8 571.72L253.1 572.19L252.4 572.44L251.7 571.58Z" fill="#f1d9dd" filter="url(#bl05)"/>
<path d="M251.7 564.46L252.4 564.7L253.1 564.37L253.8 564.29L254.5 564.22L255.2 563.93L255.9 563.94L256.6 563.14L257.3 562.16L258 561.46L258.7 561.61L259.4 561.58L260.1 561.55L260.8 560.95L261.5 560.23L262.2 560.51L262.9 560.66L263.6 560.38L264.3 561.35L265 560.26L265.7 561.08L266.4 561.49L267.1 561.68L267.8 562.42L268.5 561.7L269.2 561.8L269.9 561.39L270.6 561.13L271.3 562.1L272 562.07L272.7 561.7L273.4 563.41L274.1 562.65L274.8 563.12L275.5 563.56L276.2 563.98L276.9 564.43L277.6 564.85L278.3 564.1L279 565.06L279.7 564.59L280.4 564.97L281.1 566.13L281.8 565.81L282.5 566.21L283.2 566.08L283.9 566.02L284.6 566.66L285.3 566.85L286 567.26L286.7 566.63L287.4 568.1L288.1 566.82L288.8 567.87L289.5 568.07L290.2 568.18L290.9 568.51L291.6 567.66L292.3 567.27L293 567.48L293.7 567.91L294.4 567.03L295.1 567.52L295.8 568.03L296.5 568.08L297.2 567.45L297.9 566.09L298.6 566.59L299.3 566.85L300 567.3L300.7 567.87L301.4 566.54L302.1 566.77L302.8 566.81L303.5 566.64L304.2 566.47L304.9 566.17L305.6 566.01L306.3 566.06L307 565.69L307.7 566.01L308.4 565.17L309.1 564.9L309.8 564.52L310.5 565.16L311.2 565.11L311.9 564.88L312.6 563.4L313.3 564.59L314 563.02L314.7 562.92L315.4 564.73L316.1 562.87L316.8 563.38L317.5 563.48L318.2 562.61L318.9 562.59L319.6 562.31L320.3 562.41L321 561.73L321.7 562.16L322.4 561.51L323.1 561.62L323.8 561.02L324.5 560.62L325.2 559.98L325.9 559.99L326.6 560.78L327.3 560.09L328 560.48L328.7 559.88L329.4 558.98L330.1 560.24L330.8 560.15L331.5 559.74L332.2 558.82L332.9 559.77L333.6 559.69L334.3 559.79L335 559.21L335.7 560.58L336.4 560.53L337.1 559.91L337.8 560.55L338.5 560.45L339.2 561.05L339.9 561.33L340.6 561.38L341.3 560.22L342 561.14L342.7 562.01L343.4 561.28L344.1 562.77L344.8 561.87L344.8 568.34L344.1 568.85L343.4 567.82L342.7 568.21L342 567.36L341.3 566.81L340.6 567.46L339.9 567.52L339.2 567.38L338.5 566.92L337.8 566.44L337.1 566.61L336.4 566.22L335.7 566.98L335 565.84L334.3 566.09L333.6 566.25L332.9 566.42L332.2 565.53L331.5 565.54L330.8 565.67L330.1 566.92L329.4 566.02L328.7 565.94L328 566.73L327.3 566.93L326.6 567.56L325.9 567.05L325.2 567L324.5 567.75L323.8 567.32L323.1 567.64L322.4 567.74L321.7 569.01L321 568.39L320.3 567.96L319.6 569.02L318.9 568.78L318.2 569.23L317.5 570.28L316.8 569.82L316.1 569.31L315.4 571.15L314.7 570.02L314 569.4L313.3 570.63L312.6 570.52L311.9 570.86L311.2 570.97L310.5 571.35L309.8 571.79L309.1 571.58L308.4 571.46L307.7 572.16L307 572.32L306.3 571.89L305.6 572.84L304.9 572.74L304.2 572.83L303.5 572.81L302.8 573.31L302.1 573.47L301.4 573.04L300.7 574.61L300 574.15L299.3 573.39L298.6 572.8L297.9 573.39L297.2 573.24L296.5 574.06L295.8 574.3L295.1 574.14L294.4 573.85L293.7 573.75L293 573.75L292.3 573.86L291.6 574.16L290.9 574.66L290.2 575.22L289.5 574.04L288.8 574.35L288.1 573.45L287.4 573.84L286.7 573.17L286 573.04L285.3 573.38L284.6 572.79L283.9 572.79L283.2 572.3L282.5 573.05L281.8 572.37L281.1 572.32L280.4 571.8L279.7 571.4L279 571.3L278.3 571.05L277.6 570.95L276.9 570.44L276.2 569.89L275.5 569.64L274.8 570.01L274.1 569.56L273.4 568.88L272.7 568.67L272 567.96L271.3 568.77L270.6 567.43L269.9 568.3L269.2 568.83L268.5 567.81L267.8 568.85L267.1 567.73L266.4 568.18L265.7 567.02L265 566.91L264.3 567.48L263.6 566.63L262.9 567.46L262.2 567.04L261.5 566.18L260.8 566.84L260.1 568.36L259.4 567.78L258.7 568.4L258 568.34L257.3 568.77L256.6 568.82L255.9 569.66L255.2 570.59L254.5 570.77L253.8 570.54L253.1 570.55L252.4 571.63L251.7 570.51Z" fill="#e1222d" filter="url(#bl05)"/>
<path d="M251.7 566.5L252.4 566.7L253.1 565.91L253.8 566.16L254.5 565.8L255.2 565.72L255.9 565.25L256.6 564.39L257.3 563.72L258 563.75L258.7 563.85L259.4 563.39L260.1 563.19L260.8 562.69L261.5 561.88L262.2 562.03L262.9 562.37L263.6 562.05L264.3 562.33L265 561.94L265.7 562.73L266.4 563.08L267.1 563.66L267.8 563.29L268.5 563.39L269.2 563.74L269.9 563.59L270.6 562.97L271.3 563.23L272 563.1L272.7 563.98L273.4 564.08L274.1 564.16L274.8 564.83L275.5 564.99L276.2 565.38L276.9 565.32L277.6 565.64L278.3 565.73L279 566.6L279.7 566.38L280.4 567.09L281.1 567.27L281.8 566.77L282.5 568.04L283.2 567.37L283.9 567.61L284.6 568.49L285.3 568.31L286 568.55L286.7 568.24L287.4 569.28L288.1 569.19L288.8 569.62L289.5 569.37L290.2 569.74L290.9 569.7L291.6 569.28L292.3 569.35L293 568.97L293.7 569.47L294.4 569.19L295.1 568.98L295.8 569.43L296.5 570.06L297.2 568.85L297.9 568.49L298.6 568.3L299.3 568.82L300 569.08L300.7 569.35L301.4 567.7L302.1 568.18L302.8 568.86L303.5 568.17L304.2 567.33L304.9 567.81L305.6 567.27L306.3 566.81L307 567.16L307.7 567.27L308.4 566.47L309.1 566.04L309.8 566.43L310.5 566.85L311.2 566.28L311.9 565.72L312.6 565.09L313.3 566.29L314 564.85L314.7 564.73L315.4 565.48L316.1 564.53L316.8 564.92L317.5 565.36L318.2 564.2L318.9 563.61L319.6 564.32L320.3 563.49L321 563.38L321.7 563.48L322.4 562.76L323.1 562.97L323.8 562.79L324.5 562.46L325.2 561.56L325.9 562.04L326.6 562.38L327.3 562.05L328 562.2L328.7 560.89L329.4 560.84L330.1 561.8L330.8 561.49L331.5 560.83L332.2 561.17L332.9 561.19L333.6 561.41L334.3 561.31L335 561.13L335.7 562.13L336.4 562.04L337.1 561.61L337.8 561.93L338.5 562.34L339.2 563.22L339.9 562.77L340.6 562.74L341.3 562.04L342 562.55L342.7 563.36L343.4 563.18L344.1 563.96L344.8 563.13L344.8 566.32L344.1 567.28L343.4 566.49L342.7 566.72L342 566.11L341.3 565.64L340.6 565.82L339.9 565.99L339.2 566.46L338.5 565.49L337.8 565.67L337.1 564.97L336.4 565.07L335.7 565.58L335 564.21L334.3 564.37L333.6 564.9L332.9 564.26L332.2 563.94L331.5 564.44L330.8 564.29L330.1 564.54L329.4 564.56L328.7 564.41L328 565.12L327.3 565.39L326.6 565.86L325.9 565.08L325.2 565.08L324.5 565.58L323.8 566.3L323.1 565.91L322.4 566.35L321.7 567.24L321 566.74L320.3 567.15L319.6 566.99L318.9 566.84L318.2 568.07L317.5 568.52L316.8 568.32L316.1 567.85L315.4 569.16L314.7 568.17L314 568.24L313.3 569.52L312.6 568.5L311.9 568.99L311.2 569.25L310.5 569.41L309.8 570.08L309.1 569.72L308.4 569.67L307.7 571.11L307 570.88L306.3 570.36L305.6 571.29L304.9 571.02L304.2 571.12L303.5 571.73L302.8 572.16L302.1 572.03L301.4 571.26L300.7 572.57L300 572.24L299.3 571.72L298.6 571.38L297.9 571.71L297.2 572.45L296.5 573.36L295.8 572.9L295.1 572.78L294.4 572.36L293.7 572.02L293 572.07L292.3 572.49L291.6 572.4L290.9 573L290.2 573.68L289.5 572.26L288.8 572.88L288.1 572.45L287.4 572.54L286.7 571.52L286 572.2L285.3 571.32L284.6 571.64L283.9 570.66L283.2 570.72L282.5 570.96L281.8 570.1L281.1 570.59L280.4 569.93L279.7 569.86L279 569.95L278.3 568.93L277.6 569.09L276.9 569L276.2 568.21L275.5 568.07L274.8 568.03L274.1 567.66L273.4 568.08L272.7 566.62L272 567.04L271.3 567.22L270.6 566.66L269.9 566.76L269.2 566.63L268.5 566.62L267.8 566.8L267.1 566.87L266.4 566.41L265.7 566.3L265 564.89L264.3 565.87L263.6 565.45L262.9 565.74L262.2 565.55L261.5 564.66L260.8 565.59L260.1 566.7L259.4 566.59L258.7 566.64L258 566.43L257.3 567.1L256.6 567.93L255.9 568.36L255.2 569.13L254.5 569.08L253.8 569.36L253.1 569.02L252.4 570.25L251.7 569.59Z" fill="#a30f1d" filter="url(#bl05)"/>
</g>
<clipPath id="dclip1"><rect x="352.2" y="519.0" width="275.7" height="97.7"/></clipPath>
<g clip-path="url(#dclip1)">
<rect x="352.2" y="519.0" width="275.7" height="97.7" filter="url(#nz)"/>
<path d="M352.2 566.6L354.2 566.6L356.2 566.6L358.2 566.6L360.2 566.6L362.2 566.6L364.2 566.6L366.2 566.6L368.2 566.6L370.2 566.6L372.2 566.6L374.2 566.6L376.2 566.6L378.2 566.6L380.2 566.6L382.2 566.6L384.2 566.6L386.2 566.6L388.2 566.6L390.2 566.6L392.2 566.6L394.2 566.6L396.2 566.6L398.2 566.6L400.2 566.6L402.2 566.6L404.2 566.6L406.2 566.6L408.2 566.6L410.2 566.6L412.2 566.6L414.2 566.6L416.2 566.6L418.2 566.6L420.2 566.6L422.2 566.6L424.2 566.6L426.2 566.6L428.2 566.6L430.2 566.6L432.2 566.6L434.2 566.6L436.2 566.6L438.2 566.6L440.2 566.6L442.2 566.6L444.2 566.6L446.2 566.6L447.2 566.6" fill="none" stroke="#5a8ad8" stroke-width="22" opacity="0.75" filter="url(#gl)"/>
<path d="M352.2 566.6L354.2 566.6L356.2 566.6L358.2 566.6L360.2 566.6L362.2 566.6L364.2 566.6L366.2 566.6L368.2 566.6L370.2 566.6L372.2 566.6L374.2 566.6L376.2 566.6L378.2 566.6L380.2 566.6L382.2 566.6L384.2 566.6L386.2 566.6L388.2 566.6L390.2 566.6L392.2 566.6L394.2 566.6L396.2 566.6L398.2 566.6L400.2 566.6L402.2 566.6L404.2 566.6L406.2 566.6L408.2 566.6L410.2 566.6L412.2 566.6L414.2 566.6L416.2 566.6L418.2 566.6L420.2 566.6L422.2 566.6L424.2 566.6L426.2 566.6L428.2 566.6L430.2 566.6L432.2 566.6L434.2 566.6L436.2 566.6L438.2 566.6L440.2 566.6L442.2 566.6L444.2 566.6L446.2 566.6L447.2 566.6" fill="none" stroke="#7aa6e8" stroke-width="8" opacity="0.45" filter="url(#gl2)"/>
<path d="M352.2 561.93L352.9 562.66L353.6 561.72L354.3 561.77L355 561.76L355.7 563.05L356.4 562.87L357.1 563.09L357.8 562.6L358.5 562.44L359.2 562.07L359.9 561.75L360.6 562.86L361.3 561.85L362 562.36L362.7 562.65L363.4 562.83L364.1 562.65L364.8 562.3L365.5 562.98L366.2 562.39L366.9 562.77L367.6 562.53L368.3 562.28L369 562.68L369.7 563.08L370.4 562.34L371.1 562.64L371.8 562.43L372.5 563L373.2 562.74L373.9 562.74L374.6 562.78L375.3 562.59L376 562.07L376.7 562.32L377.4 561.79L378.1 562.94L378.8 562.41L379.5 562.69L380.2 562.23L380.9 561.95L381.6 562.67L382.3 561.9L383 563L383.7 562.75L384.4 562.14L385.1 561.84L385.8 561.71L386.5 562.3L387.2 562.16L387.9 562.4L388.6 562.8L389.3 561.92L390 562.12L390.7 562.39L391.4 562.17L392.1 562.48L392.8 562.81L393.5 562.99L394.2 561.95L394.9 561.98L395.6 561.88L396.3 561.8L397 562.47L397.7 562.34L398.4 562.95L399.1 562.73L399.8 561.95L400.5 561.76L401.2 562.83L401.9 562.65L402.6 562.99L403.3 562L404 562.13L404.7 562.92L405.4 562.06L406.1 562.91L406.8 562.43L407.5 563.04L408.2 562.91L408.9 562.92L409.6 561.99L410.3 562.34L411 562.24L411.7 561.73L412.4 561.76L413.1 562.51L413.8 562.19L414.5 562.14L415.2 561.71L415.9 562.39L416.6 562.95L417.3 562L418 562.16L418.7 562.43L419.4 562.25L420.1 562.46L420.8 562.28L421.5 562.7L422.2 562.84L422.9 561.91L423.6 562.92L424.3 561.83L425 561.73L425.7 562.67L426.4 562.75L427.1 563.08L427.8 562.44L428.5 562.88L429.2 562.64L429.9 562.93L430.6 561.98L431.3 563.04L432 561.92L432.7 562.68L433.4 562.99L434.1 561.76L434.8 561.82L435.5 563.03L436.2 562.2L436.9 562.17L437.6 562.78L438.3 562.8L439 562.22L439.7 562.23L440.4 561.86L441.1 562.38L441.8 562.41L442.5 562.35L443.2 562.38L443.9 563.09L444.6 561.88L445.3 562.81L446 562.28L446.7 562.46L446.7 570.81L446 570.91L445.3 570.81L444.6 571.11L443.9 570.83L443.2 570.4L442.5 570.49L441.8 571.16L441.1 570.93L440.4 571.19L439.7 570.19L439 571.07L438.3 571.32L437.6 570.77L436.9 571.04L436.2 570.3L435.5 570.23L434.8 571.16L434.1 570.41L433.4 570.17L432.7 571.25L432 571.01L431.3 571.23L430.6 571.33L429.9 570.24L429.2 570.23L428.5 570.27L427.8 571.05L427.1 570.46L426.4 570.8L425.7 570.19L425 571.49L424.3 571.31L423.6 570.6L422.9 571.39L422.2 570.26L421.5 570.48L420.8 571.35L420.1 570.85L419.4 570.66L418.7 570.48L418 570.19L417.3 571.19L416.6 570.94L415.9 571.29L415.2 571.11L414.5 570.35L413.8 571.34L413.1 570.54L412.4 570.53L411.7 570.46L411 570.64L410.3 571.49L409.6 570.54L408.9 571.15L408.2 571.34L407.5 570.73L406.8 570.12L406.1 570.44L405.4 570.89L404.7 570.56L404 570.58L403.3 570.91L402.6 571.27L401.9 570.84L401.2 571.1L400.5 571.05L399.8 570.45L399.1 570.25L398.4 570.11L397.7 571.05L397 571.43L396.3 570.62L395.6 570.46L394.9 571.22L394.2 570.15L393.5 570.46L392.8 570.75L392.1 571.46L391.4 570.11L390.7 570.9L390 571.06L389.3 571.28L388.6 570.47L387.9 570.81L387.2 570.66L386.5 571.13L385.8 571.44L385.1 571.22L384.4 570.75L383.7 571.22L383 571.27L382.3 571.33L381.6 571.1L380.9 571.34L380.2 570.2L379.5 571.37L378.8 571.04L378.1 570.83L377.4 570.98L376.7 570.11L376 570.48L375.3 571.33L374.6 571.35L373.9 570.39L373.2 570.92L372.5 570.81L371.8 571.15L371.1 570.77L370.4 571.1L369.7 570.98L369 571.15L368.3 570.3L367.6 571.11L366.9 571.07L366.2 570.98L365.5 571.29L364.8 571.26L364.1 571.17L363.4 570.96L362.7 570.41L362 570.34L361.3 570.89L360.6 571.38L359.9 571.28L359.2 570.79L358.5 570.58L357.8 570.22L357.1 570.27L356.4 571.15L355.7 571.17L355 570.38L354.3 570.15L353.6 570.61L352.9 571.29L352.2 570.33Z" fill="#f1d9dd" filter="url(#bl05)"/>
<path d="M352.2 563.16L352.9 563.33L353.6 563.17L354.3 563.59L355 563.5L355.7 563.56L356.4 563.12L357.1 563.15L357.8 563.69L358.5 562.89L359.2 562.97L359.9 563.53L360.6 563.04L361.3 563.5L362 563.12L362.7 562.93L363.4 563.67L364.1 563.84L364.8 563.51L365.5 563.37L366.2 563.2L366.9 563.6L367.6 563.52L368.3 563.01L369 562.97L369.7 563.59L370.4 563.7L371.1 563.2L371.8 563.8L372.5 563.43L373.2 563.71L373.9 563.77L374.6 563.1L375.3 563.1L376 563.61L376.7 563.3L377.4 563.66L378.1 562.93L378.8 563.56L379.5 563.69L380.2 563.47L380.9 563.75L381.6 563.31L382.3 563.51L383 563.75L383.7 563.34L384.4 563.65L385.1 563.64L385.8 563.15L386.5 563.12L387.2 563.38L387.9 563.09L388.6 563.17L389.3 563.81L390 563.16L390.7 563.01L391.4 563.49L392.1 563.2L392.8 563.2L393.5 563.08L394.2 563.82L394.9 563.44L395.6 563.46L396.3 563.54L397 562.96L397.7 563L398.4 563.33L399.1 563.07L399.8 563.68L400.5 563.24L401.2 563.5L401.9 563.28L402.6 562.96L403.3 563.09L404 563.1L404.7 562.85L405.4 563.25L406.1 563.76L406.8 563.12L407.5 563.6L408.2 563.08L408.9 562.94L409.6 563.08L410.3 563.22L411 563.78L411.7 563.18L412.4 563.77L413.1 563.05L413.8 562.96L414.5 563.51L415.2 563.7L415.9 563.43L416.6 562.91L417.3 562.9L418 563.19L418.7 563.43L419.4 563.72L420.1 563.74L420.8 563.32L421.5 563.82L422.2 563.17L422.9 563.76L423.6 563.48L424.3 563.8L425 563.78L425.7 562.89L426.4 563.74L427.1 563.49L427.8 563.14L428.5 563.59L429.2 563.32L429.9 563.29L430.6 563.43L431.3 563.45L432 563.1L432.7 563.11L433.4 563.14L434.1 563.23L434.8 563.66L435.5 563.5L436.2 563.83L436.9 563.76L437.6 562.9L438.3 563.01L439 563.4L439.7 563.82L440.4 563.2L441.1 563.7L441.8 563.33L442.5 563.16L443.2 563.28L443.9 563.6L444.6 562.89L445.3 563.41L446 563.38L446.7 563.78L446.7 569.63L446 569.47L445.3 569.77L444.6 570.02L443.9 570.17L443.2 570.32L442.5 569.53L441.8 569.96L441.1 569.43L440.4 570.13L439.7 570.13L439 570.21L438.3 570.29L437.6 569.96L436.9 570.3L436.2 570.23L435.5 570.09L434.8 569.53L434.1 569.37L433.4 569.55L432.7 569.73L432 570.16L431.3 569.86L430.6 570.34L429.9 569.44L429.2 569.73L428.5 569.79L427.8 569.95L427.1 570.33L426.4 569.89L425.7 570.13L425 569.9L424.3 569.53L423.6 570.35L422.9 569.83L422.2 569.75L421.5 569.46L420.8 569.88L420.1 569.65L419.4 570.16L418.7 569.37L418 569.35L417.3 569.78L416.6 569.91L415.9 570.06L415.2 569.57L414.5 569.56L413.8 570.29L413.1 569.47L412.4 569.86L411.7 570.22L411 569.77L410.3 569.88L409.6 569.36L408.9 569.44L408.2 569.99L407.5 569.84L406.8 570.02L406.1 570.06L405.4 569.54L404.7 569.93L404 569.48L403.3 569.92L402.6 570.01L401.9 569.75L401.2 569.46L400.5 570L399.8 570.31L399.1 569.74L398.4 570.09L397.7 569.48L397 569.81L396.3 570.1L395.6 569.57L394.9 569.69L394.2 569.9L393.5 569.84L392.8 569.87L392.1 570.28L391.4 569.87L390.7 570.25L390 569.36L389.3 569.99L388.6 569.55L387.9 570.07L387.2 569.61L386.5 569.39L385.8 569.5L385.1 570.2L384.4 569.63L383.7 570.11L383 570.07L382.3 569.39L381.6 570.15L380.9 570.14L380.2 570.16L379.5 569.49L378.8 570.32L378.1 570.14L377.4 569.52L376.7 569.43L376 569.39L375.3 569.53L374.6 570.16L373.9 570.32L373.2 569.94L372.5 570.33L371.8 569.63L371.1 569.9L370.4 570.32L369.7 570.05L369 569.64L368.3 570.1L367.6 569.37L366.9 570.04L366.2 569.76L365.5 569.48L364.8 569.53L364.1 569.55L363.4 569.72L362.7 570.12L362 570.24L361.3 569.81L360.6 569.77L359.9 569.49L359.2 570.15L358.5 569.73L357.8 569.98L357.1 570.27L356.4 569.72L355.7 570.35L355 569.84L354.3 569.66L353.6 569.47L352.9 570.13L352.2 570.23Z" fill="#e1222d" filter="url(#bl05)"/>
<path d="M352.2 565.18L352.9 565.03L353.6 564.87L354.3 564.6L355 564.96L355.7 564.87L356.4 564.66L357.1 564.81L357.8 564.98L358.5 564.53L359.2 565.03L359.9 564.56L360.6 564.87L361.3 564.69L362 564.71L362.7 564.82L363.4 564.88L364.1 564.95L364.8 565.18L365.5 565.02L366.2 564.97L366.9 564.83L367.6 565.15L368.3 564.58L369 564.75L369.7 564.93L370.4 565.31L371.1 564.9L371.8 564.52L372.5 564.64L373.2 564.68L373.9 564.92L374.6 565.23L375.3 565.31L376 564.96L376.7 564.58L377.4 564.92L378.1 564.72L378.8 565.19L379.5 565.29L380.2 564.94L380.9 565.21L381.6 564.69L382.3 564.58L383 565.13L383.7 564.64L384.4 564.78L385.1 564.54L385.8 565.28L386.5 565.15L387.2 565.13L387.9 564.86L388.6 565.09L389.3 564.58L390 564.94L390.7 564.54L391.4 565.12L392.1 564.82L392.8 564.91L393.5 564.9L394.2 564.79L394.9 565.28L395.6 565.21L396.3 564.97L397 564.78L397.7 564.86L398.4 564.54L399.1 565.05L399.8 564.58L400.5 564.58L401.2 564.79L401.9 564.83L402.6 564.84L403.3 565.26L404 564.96L404.7 564.87L405.4 565.11L406.1 564.83L406.8 564.67L407.5 564.96L408.2 565.03L408.9 564.61L409.6 564.75L410.3 565.31L411 564.7L411.7 564.52L412.4 565.06L413.1 564.64L413.8 564.59L414.5 565.1L415.2 564.9L415.9 565.08L416.6 564.82L417.3 564.76L418 564.63L418.7 565.22L419.4 564.88L420.1 565.14L420.8 565.32L421.5 564.55L422.2 565.26L422.9 564.91L423.6 564.65L424.3 564.57L425 564.59L425.7 564.66L426.4 564.58L427.1 564.55L427.8 565.01L428.5 564.69L429.2 564.89L429.9 564.75L430.6 564.84L431.3 565.01L432 564.6L432.7 564.9L433.4 564.65L434.1 565.09L434.8 564.8L435.5 564.54L436.2 564.74L436.9 565.3L437.6 564.86L438.3 564.54L439 564.95L439.7 565.12L440.4 564.8L441.1 564.93L441.8 564.87L442.5 564.91L443.2 564.82L443.9 564.79L444.6 564.71L445.3 565.04L446 565.14L446.7 565.32L446.7 568.54L446 568.4L445.3 568.56L444.6 568.63L443.9 568.27L443.2 567.95L442.5 568.48L441.8 568.43L441.1 568.1L440.4 568.02L439.7 568.15L439 567.9L438.3 568.35L437.6 567.95L436.9 568.19L436.2 568.21L435.5 568.28L434.8 568L434.1 568.19L433.4 568.1L432.7 568.27L432 568.18L431.3 568.43L430.6 568.47L429.9 568.15L429.2 568.33L428.5 567.93L427.8 568.3L427.1 568.48L426.4 568.51L425.7 568.14L425 567.97L424.3 568.43L423.6 568.39L422.9 568.31L422.2 568.4L421.5 568.59L420.8 567.91L420.1 568.3L419.4 568.3L418.7 567.89L418 567.89L417.3 568.2L416.6 568.45L415.9 567.93L415.2 568.3L414.5 568.18L413.8 568.23L413.1 567.99L412.4 568.49L411.7 568.46L411 568.14L410.3 568.43L409.6 568.05L408.9 568.12L408.2 568.5L407.5 568.23L406.8 568.23L406.1 568.48L405.4 568.58L404.7 568.09L404 567.98L403.3 568.47L402.6 568.06L401.9 568.48L401.2 568.64L400.5 568.63L399.8 567.93L399.1 567.96L398.4 568.52L397.7 568.36L397 568.65L396.3 568.55L395.6 568.48L394.9 568.27L394.2 568.64L393.5 568.13L392.8 568.5L392.1 568.36L391.4 568.03L390.7 568.05L390 568.65L389.3 568.48L388.6 567.93L387.9 567.98L387.2 568.47L386.5 567.98L385.8 568.27L385.1 568.52L384.4 568.59L383.7 567.96L383 568.13L382.3 567.9L381.6 568.15L380.9 568.09L380.2 568.68L379.5 568.03L378.8 568.58L378.1 568.3L377.4 567.96L376.7 568.2L376 568.64L375.3 568.27L374.6 568.06L373.9 568.55L373.2 568.27L372.5 568.53L371.8 568.15L371.1 568.15L370.4 568.16L369.7 568.22L369 568.35L368.3 567.89L367.6 568.39L366.9 568.06L366.2 567.93L365.5 567.99L364.8 568.66L364.1 567.93L363.4 567.98L362.7 568.44L362 568.62L361.3 568.27L360.6 568.04L359.9 568.3L359.2 568.65L358.5 568.67L357.8 568.31L357.1 568.15L356.4 567.91L355.7 568.13L355 568.07L354.3 568.45L353.6 568.6L352.9 568.58L352.2 568.6Z" fill="#a30f1d" filter="url(#bl05)"/>
<ellipse cx="451.32" cy="540.8" rx="2.2" ry="13" fill="#6a9ee0" opacity="0.55" filter="url(#gl2)"/>
<ellipse cx="457.18" cy="593.8" rx="2.2" ry="13" fill="#6a9ee0" opacity="0.55" filter="url(#gl2)"/>
<ellipse cx="463.02" cy="540.8" rx="2.2" ry="13" fill="#6a9ee0" opacity="0.55" filter="url(#gl2)"/>
<ellipse cx="468.88" cy="593.8" rx="2.2" ry="13" fill="#6a9ee0" opacity="0.55" filter="url(#gl2)"/>
<ellipse cx="474.72" cy="540.8" rx="2.2" ry="13" fill="#6a9ee0" opacity="0.55" filter="url(#gl2)"/>
<ellipse cx="480.57" cy="593.8" rx="2.2" ry="13" fill="#6a9ee0" opacity="0.55" filter="url(#gl2)"/>
<ellipse cx="486.42" cy="540.8" rx="2.2" ry="13" fill="#6a9ee0" opacity="0.55" filter="url(#gl2)"/>
<ellipse cx="492.27" cy="593.8" rx="2.2" ry="13" fill="#6a9ee0" opacity="0.55" filter="url(#gl2)"/>
<ellipse cx="498.12" cy="540.8" rx="2.2" ry="13" fill="#6a9ee0" opacity="0.55" filter="url(#gl2)"/>
<ellipse cx="503.97" cy="593.8" rx="2.2" ry="13" fill="#6a9ee0" opacity="0.55" filter="url(#gl2)"/>
<ellipse cx="509.82" cy="540.8" rx="2.2" ry="13" fill="#6a9ee0" opacity="0.55" filter="url(#gl2)"/>
<ellipse cx="515.67" cy="593.8" rx="2.2" ry="13" fill="#6a9ee0" opacity="0.55" filter="url(#gl2)"/>
<ellipse cx="521.52" cy="540.8" rx="2.2" ry="13" fill="#6a9ee0" opacity="0.55" filter="url(#gl2)"/>
<ellipse cx="527.38" cy="593.8" rx="2.2" ry="13" fill="#6a9ee0" opacity="0.55" filter="url(#gl2)"/>
<ellipse cx="533.23" cy="540.8" rx="2.2" ry="13" fill="#6a9ee0" opacity="0.55" filter="url(#gl2)"/>
<ellipse cx="539.08" cy="593.8" rx="2.2" ry="13" fill="#6a9ee0" opacity="0.55" filter="url(#gl2)"/>
<path d="M447.2 581.42L447.45 578.78L447.7 575.93L447.95 572.92L448.2 569.82L448.45 566.67L448.7 563.53L448.95 560.46L449.2 557.51L449.45 554.74L449.7 552.19L449.95 549.92L450.2 547.96L450.45 546.35L450.7 545.11L450.95 544.27L451.2 543.85L451.45 543.85L451.7 544.27L451.95 545.11L452.2 546.35L452.45 547.96L452.7 549.92L452.95 552.19L453.2 554.74L453.45 557.51L453.7 560.46L453.95 563.53L454.2 566.67L454.45 569.82L454.7 572.92L454.95 575.93L455.2 578.78L455.45 581.42L455.7 583.81L455.95 585.9L456.2 587.65L456.45 589.04L456.7 590.04L456.95 590.63L457.2 590.8L457.45 590.54L457.7 589.87L457.95 588.79L458.2 587.33L458.45 585.5L458.7 583.35L458.95 580.91L459.2 578.22L459.45 575.34L459.7 572.31L459.95 569.19L460.2 566.04L460.45 562.91L460.7 559.86L460.95 556.94L461.2 554.21L461.45 551.72L461.7 549.5L461.95 547.61L462.2 546.07L462.45 544.91L462.7 544.16L462.95 543.82L463.2 543.9L463.45 544.41L463.7 545.33L463.95 546.64L464.2 548.33L464.45 550.35L464.7 552.68L464.95 555.28L465.2 558.09L465.45 561.07L465.7 564.15L465.95 567.3L466.2 570.45L466.45 573.53L466.7 576.51L466.95 579.32L467.2 581.92L467.45 584.25L467.7 586.27L467.95 587.96L468.2 589.27L468.45 590.19L468.7 590.7L468.95 590.78L469.2 590.44L469.45 589.69L469.7 588.53L469.95 586.99L470.2 585.1L470.45 582.88L470.7 580.39L470.95 577.66L471.2 574.74L471.45 571.69L471.7 568.56L471.95 565.41L472.2 562.29L472.45 559.26L472.7 556.38L472.95 553.69L473.2 551.25L473.45 549.1L473.7 547.27L473.95 545.81L474.2 544.73L474.45 544.06L474.7 543.8L474.95 543.97L475.2 544.56L475.45 545.56L475.7 546.95L475.95 548.7L476.2 550.79L476.45 553.18L476.7 555.82L476.95 558.67L477.2 561.68L477.45 564.78L477.7 567.93L477.95 571.07L478.2 574.14L478.45 577.09L478.7 579.86L478.95 582.41L479.2 584.68L479.45 586.64L479.7 588.25L479.95 589.49L480.2 590.33L480.45 590.75L480.7 590.75L480.95 590.33L481.2 589.49L481.45 588.25L481.7 586.64L481.95 584.68L482.2 582.41L482.45 579.86L482.7 577.09L482.95 574.14L483.2 571.07L483.45 567.93L483.7 564.78L483.95 561.68L484.2 558.67L484.45 555.82L484.7 553.18L484.95 550.79L485.2 548.7L485.45 546.95L485.7 545.56L485.95 544.56L486.2 543.97L486.45 543.8L486.7 544.06L486.95 544.73L487.2 545.81L487.45 547.27L487.7 549.1L487.95 551.25L488.2 553.69L488.45 556.38L488.7 559.26L488.95 562.29L489.2 565.41L489.45 568.56L489.7 571.69L489.95 574.74L490.2 577.66L490.45 580.39L490.7 582.88L490.95 585.1L491.2 586.99L491.45 588.53L491.7 589.69L491.95 590.44L492.2 590.78L492.45 590.7L492.7 590.19L492.95 589.27L493.2 587.96L493.45 586.27L493.7 584.25L493.95 581.92L494.2 579.32L494.45 576.51L494.7 573.53L494.95 570.45L495.2 567.3L495.45 564.15L495.7 561.07L495.95 558.09L496.2 555.28L496.45 552.68L496.7 550.35L496.95 548.33L497.2 546.64L497.45 545.33L497.7 544.41L497.95 543.9L498.2 543.82L498.45 544.16L498.7 544.91L498.95 546.07L499.2 547.61L499.45 549.5L499.7 551.72L499.95 554.21L500.2 556.94L500.45 559.86L500.7 562.91L500.95 566.04L501.2 569.19L501.45 572.31L501.7 575.34L501.95 578.22L502.2 580.91L502.45 583.35L502.7 585.5L502.95 587.33L503.2 588.79L503.45 589.87L503.7 590.54L503.95 590.8L504.2 590.63L504.45 590.04L504.7 589.04L504.95 587.65L505.2 585.9L505.45 583.81L505.7 581.42L505.95 578.78L506.2 575.93L506.45 572.92L506.7 569.82L506.95 566.67L507.2 563.53L507.45 560.46L507.7 557.51L507.95 554.74L508.2 552.19L508.45 549.92L508.7 547.96L508.95 546.35L509.2 545.11L509.45 544.27L509.7 543.85L509.95 543.85L510.2 544.27L510.45 545.11L510.7 546.35L510.95 547.96L511.2 549.92L511.45 552.19L511.7 554.74L511.95 557.51L512.2 560.46L512.45 563.53L512.7 566.67L512.95 569.82L513.2 572.92L513.45 575.93L513.7 578.78L513.95 581.42L514.2 583.81L514.45 585.9L514.7 587.65L514.95 589.04L515.2 590.04L515.45 590.63L515.7 590.8L515.95 590.54L516.2 589.87L516.45 588.79L516.7 587.33L516.95 585.5L517.2 583.35L517.45 580.91L517.7 578.22L517.95 575.34L518.2 572.31L518.45 569.19L518.7 566.04L518.95 562.91L519.2 559.86L519.45 556.94L519.7 554.21L519.95 551.72L520.2 549.5L520.45 547.61L520.7 546.07L520.95 544.91L521.2 544.16L521.45 543.82L521.7 543.9L521.95 544.41L522.2 545.33L522.45 546.64L522.7 548.33L522.95 550.35L523.2 552.68L523.45 555.28L523.7 558.09L523.95 561.07L524.2 564.15L524.45 567.3L524.7 570.45L524.95 573.53L525.2 576.51L525.45 579.32L525.7 581.92L525.95 584.25L526.2 586.27L526.45 587.96L526.7 589.27L526.95 590.19L527.2 590.7L527.45 590.78L527.7 590.44L527.95 589.69L528.2 588.53L528.45 586.99L528.7 585.1L528.95 582.88L529.2 580.39L529.45 577.66L529.7 574.74L529.95 571.69L530.2 568.56L530.45 565.41L530.7 562.29L530.95 559.26L531.2 556.38L531.45 553.69L531.7 551.25L531.95 549.1L532.2 547.27L532.45 545.81L532.7 544.73L532.95 544.06L533.2 543.8L533.45 543.97L533.7 544.56L533.95 545.56L534.2 546.95L534.45 548.7L534.7 550.79L534.95 553.18L535.2 555.82L535.45 558.67L535.7 561.68L535.95 564.78L536.2 567.93L536.45 571.07L536.7 574.14L536.95 577.09L537.2 579.86L537.45 582.41L537.7 584.68L537.95 586.64L538.2 588.25L538.45 589.49L538.7 590.33L538.95 590.75L539.2 590.75L539.45 590.33L539.7 589.49L539.95 588.25L540.2 586.64" fill="none" stroke="#5f8fd8" stroke-width="6" opacity="0.5" filter="url(#gl2)"/>
<path d="M447.2 581.42L447.45 578.78L447.7 575.93L447.95 572.92L448.2 569.82L448.45 566.67L448.7 563.53L448.95 560.46L449.2 557.51L449.45 554.74L449.7 552.19L449.95 549.92L450.2 547.96L450.45 546.35L450.7 545.11L450.95 544.27L451.2 543.85L451.45 543.85L451.7 544.27L451.95 545.11L452.2 546.35L452.45 547.96L452.7 549.92L452.95 552.19L453.2 554.74L453.45 557.51L453.7 560.46L453.95 563.53L454.2 566.67L454.45 569.82L454.7 572.92L454.95 575.93L455.2 578.78L455.45 581.42L455.7 583.81L455.95 585.9L456.2 587.65L456.45 589.04L456.7 590.04L456.95 590.63L457.2 590.8L457.45 590.54L457.7 589.87L457.95 588.79L458.2 587.33L458.45 585.5L458.7 583.35L458.95 580.91L459.2 578.22L459.45 575.34L459.7 572.31L459.95 569.19L460.2 566.04L460.45 562.91L460.7 559.86L460.95 556.94L461.2 554.21L461.45 551.72L461.7 549.5L461.95 547.61L462.2 546.07L462.45 544.91L462.7 544.16L462.95 543.82L463.2 543.9L463.45 544.41L463.7 545.33L463.95 546.64L464.2 548.33L464.45 550.35L464.7 552.68L464.95 555.28L465.2 558.09L465.45 561.07L465.7 564.15L465.95 567.3L466.2 570.45L466.45 573.53L466.7 576.51L466.95 579.32L467.2 581.92L467.45 584.25L467.7 586.27L467.95 587.96L468.2 589.27L468.45 590.19L468.7 590.7L468.95 590.78L469.2 590.44L469.45 589.69L469.7 588.53L469.95 586.99L470.2 585.1L470.45 582.88L470.7 580.39L470.95 577.66L471.2 574.74L471.45 571.69L471.7 568.56L471.95 565.41L472.2 562.29L472.45 559.26L472.7 556.38L472.95 553.69L473.2 551.25L473.45 549.1L473.7 547.27L473.95 545.81L474.2 544.73L474.45 544.06L474.7 543.8L474.95 543.97L475.2 544.56L475.45 545.56L475.7 546.95L475.95 548.7L476.2 550.79L476.45 553.18L476.7 555.82L476.95 558.67L477.2 561.68L477.45 564.78L477.7 567.93L477.95 571.07L478.2 574.14L478.45 577.09L478.7 579.86L478.95 582.41L479.2 584.68L479.45 586.64L479.7 588.25L479.95 589.49L480.2 590.33L480.45 590.75L480.7 590.75L480.95 590.33L481.2 589.49L481.45 588.25L481.7 586.64L481.95 584.68L482.2 582.41L482.45 579.86L482.7 577.09L482.95 574.14L483.2 571.07L483.45 567.93L483.7 564.78L483.95 561.68L484.2 558.67L484.45 555.82L484.7 553.18L484.95 550.79L485.2 548.7L485.45 546.95L485.7 545.56L485.95 544.56L486.2 543.97L486.45 543.8L486.7 544.06L486.95 544.73L487.2 545.81L487.45 547.27L487.7 549.1L487.95 551.25L488.2 553.69L488.45 556.38L488.7 559.26L488.95 562.29L489.2 565.41L489.45 568.56L489.7 571.69L489.95 574.74L490.2 577.66L490.45 580.39L490.7 582.88L490.95 585.1L491.2 586.99L491.45 588.53L491.7 589.69L491.95 590.44L492.2 590.78L492.45 590.7L492.7 590.19L492.95 589.27L493.2 587.96L493.45 586.27L493.7 584.25L493.95 581.92L494.2 579.32L494.45 576.51L494.7 573.53L494.95 570.45L495.2 567.3L495.45 564.15L495.7 561.07L495.95 558.09L496.2 555.28L496.45 552.68L496.7 550.35L496.95 548.33L497.2 546.64L497.45 545.33L497.7 544.41L497.95 543.9L498.2 543.82L498.45 544.16L498.7 544.91L498.95 546.07L499.2 547.61L499.45 549.5L499.7 551.72L499.95 554.21L500.2 556.94L500.45 559.86L500.7 562.91L500.95 566.04L501.2 569.19L501.45 572.31L501.7 575.34L501.95 578.22L502.2 580.91L502.45 583.35L502.7 585.5L502.95 587.33L503.2 588.79L503.45 589.87L503.7 590.54L503.95 590.8L504.2 590.63L504.45 590.04L504.7 589.04L504.95 587.65L505.2 585.9L505.45 583.81L505.7 581.42L505.95 578.78L506.2 575.93L506.45 572.92L506.7 569.82L506.95 566.67L507.2 563.53L507.45 560.46L507.7 557.51L507.95 554.74L508.2 552.19L508.45 549.92L508.7 547.96L508.95 546.35L509.2 545.11L509.45 544.27L509.7 543.85L509.95 543.85L510.2 544.27L510.45 545.11L510.7 546.35L510.95 547.96L511.2 549.92L511.45 552.19L511.7 554.74L511.95 557.51L512.2 560.46L512.45 563.53L512.7 566.67L512.95 569.82L513.2 572.92L513.45 575.93L513.7 578.78L513.95 581.42L514.2 583.81L514.45 585.9L514.7 587.65L514.95 589.04L515.2 590.04L515.45 590.63L515.7 590.8L515.95 590.54L516.2 589.87L516.45 588.79L516.7 587.33L516.95 585.5L517.2 583.35L517.45 580.91L517.7 578.22L517.95 575.34L518.2 572.31L518.45 569.19L518.7 566.04L518.95 562.91L519.2 559.86L519.45 556.94L519.7 554.21L519.95 551.72L520.2 549.5L520.45 547.61L520.7 546.07L520.95 544.91L521.2 544.16L521.45 543.82L521.7 543.9L521.95 544.41L522.2 545.33L522.45 546.64L522.7 548.33L522.95 550.35L523.2 552.68L523.45 555.28L523.7 558.09L523.95 561.07L524.2 564.15L524.45 567.3L524.7 570.45L524.95 573.53L525.2 576.51L525.45 579.32L525.7 581.92L525.95 584.25L526.2 586.27L526.45 587.96L526.7 589.27L526.95 590.19L527.2 590.7L527.45 590.78L527.7 590.44L527.95 589.69L528.2 588.53L528.45 586.99L528.7 585.1L528.95 582.88L529.2 580.39L529.45 577.66L529.7 574.74L529.95 571.69L530.2 568.56L530.45 565.41L530.7 562.29L530.95 559.26L531.2 556.38L531.45 553.69L531.7 551.25L531.95 549.1L532.2 547.27L532.45 545.81L532.7 544.73L532.95 544.06L533.2 543.8L533.45 543.97L533.7 544.56L533.95 545.56L534.2 546.95L534.45 548.7L534.7 550.79L534.95 553.18L535.2 555.82L535.45 558.67L535.7 561.68L535.95 564.78L536.2 567.93L536.45 571.07L536.7 574.14L536.95 577.09L537.2 579.86L537.45 582.41L537.7 584.68L537.95 586.64L538.2 588.25L538.45 589.49L538.7 590.33L538.95 590.75L539.2 590.75L539.45 590.33L539.7 589.49L539.95 588.25L540.2 586.64" fill="none" stroke="#e4414d" stroke-width="2.0"/>
<path d="M447.2 581.42L447.45 578.78L447.7 575.93L447.95 572.92L448.2 569.82L448.45 566.67L448.7 563.53L448.95 560.46L449.2 557.51L449.45 554.74L449.7 552.19L449.95 549.92L450.2 547.96L450.45 546.35L450.7 545.11L450.95 544.27L451.2 543.85L451.45 543.85L451.7 544.27L451.95 545.11L452.2 546.35L452.45 547.96L452.7 549.92L452.95 552.19L453.2 554.74L453.45 557.51L453.7 560.46L453.95 563.53L454.2 566.67L454.45 569.82L454.7 572.92L454.95 575.93L455.2 578.78L455.45 581.42L455.7 583.81L455.95 585.9L456.2 587.65L456.45 589.04L456.7 590.04L456.95 590.63L457.2 590.8L457.45 590.54L457.7 589.87L457.95 588.79L458.2 587.33L458.45 585.5L458.7 583.35L458.95 580.91L459.2 578.22L459.45 575.34L459.7 572.31L459.95 569.19L460.2 566.04L460.45 562.91L460.7 559.86L460.95 556.94L461.2 554.21L461.45 551.72L461.7 549.5L461.95 547.61L462.2 546.07L462.45 544.91L462.7 544.16L462.95 543.82L463.2 543.9L463.45 544.41L463.7 545.33L463.95 546.64L464.2 548.33L464.45 550.35L464.7 552.68L464.95 555.28L465.2 558.09L465.45 561.07L465.7 564.15L465.95 567.3L466.2 570.45L466.45 573.53L466.7 576.51L466.95 579.32L467.2 581.92L467.45 584.25L467.7 586.27L467.95 587.96L468.2 589.27L468.45 590.19L468.7 590.7L468.95 590.78L469.2 590.44L469.45 589.69L469.7 588.53L469.95 586.99L470.2 585.1L470.45 582.88L470.7 580.39L470.95 577.66L471.2 574.74L471.45 571.69L471.7 568.56L471.95 565.41L472.2 562.29L472.45 559.26L472.7 556.38L472.95 553.69L473.2 551.25L473.45 549.1L473.7 547.27L473.95 545.81L474.2 544.73L474.45 544.06L474.7 543.8L474.95 543.97L475.2 544.56L475.45 545.56L475.7 546.95L475.95 548.7L476.2 550.79L476.45 553.18L476.7 555.82L476.95 558.67L477.2 561.68L477.45 564.78L477.7 567.93L477.95 571.07L478.2 574.14L478.45 577.09L478.7 579.86L478.95 582.41L479.2 584.68L479.45 586.64L479.7 588.25L479.95 589.49L480.2 590.33L480.45 590.75L480.7 590.75L480.95 590.33L481.2 589.49L481.45 588.25L481.7 586.64L481.95 584.68L482.2 582.41L482.45 579.86L482.7 577.09L482.95 574.14L483.2 571.07L483.45 567.93L483.7 564.78L483.95 561.68L484.2 558.67L484.45 555.82L484.7 553.18L484.95 550.79L485.2 548.7L485.45 546.95L485.7 545.56L485.95 544.56L486.2 543.97L486.45 543.8L486.7 544.06L486.95 544.73L487.2 545.81L487.45 547.27L487.7 549.1L487.95 551.25L488.2 553.69L488.45 556.38L488.7 559.26L488.95 562.29L489.2 565.41L489.45 568.56L489.7 571.69L489.95 574.74L490.2 577.66L490.45 580.39L490.7 582.88L490.95 585.1L491.2 586.99L491.45 588.53L491.7 589.69L491.95 590.44L492.2 590.78L492.45 590.7L492.7 590.19L492.95 589.27L493.2 587.96L493.45 586.27L493.7 584.25L493.95 581.92L494.2 579.32L494.45 576.51L494.7 573.53L494.95 570.45L495.2 567.3L495.45 564.15L495.7 561.07L495.95 558.09L496.2 555.28L496.45 552.68L496.7 550.35L496.95 548.33L497.2 546.64L497.45 545.33L497.7 544.41L497.95 543.9L498.2 543.82L498.45 544.16L498.7 544.91L498.95 546.07L499.2 547.61L499.45 549.5L499.7 551.72L499.95 554.21L500.2 556.94L500.45 559.86L500.7 562.91L500.95 566.04L501.2 569.19L501.45 572.31L501.7 575.34L501.95 578.22L502.2 580.91L502.45 583.35L502.7 585.5L502.95 587.33L503.2 588.79L503.45 589.87L503.7 590.54L503.95 590.8L504.2 590.63L504.45 590.04L504.7 589.04L504.95 587.65L505.2 585.9L505.45 583.81L505.7 581.42L505.95 578.78L506.2 575.93L506.45 572.92L506.7 569.82L506.95 566.67L507.2 563.53L507.45 560.46L507.7 557.51L507.95 554.74L508.2 552.19L508.45 549.92L508.7 547.96L508.95 546.35L509.2 545.11L509.45 544.27L509.7 543.85L509.95 543.85L510.2 544.27L510.45 545.11L510.7 546.35L510.95 547.96L511.2 549.92L511.45 552.19L511.7 554.74L511.95 557.51L512.2 560.46L512.45 563.53L512.7 566.67L512.95 569.82L513.2 572.92L513.45 575.93L513.7 578.78L513.95 581.42L514.2 583.81L514.45 585.9L514.7 587.65L514.95 589.04L515.2 590.04L515.45 590.63L515.7 590.8L515.95 590.54L516.2 589.87L516.45 588.79L516.7 587.33L516.95 585.5L517.2 583.35L517.45 580.91L517.7 578.22L517.95 575.34L518.2 572.31L518.45 569.19L518.7 566.04L518.95 562.91L519.2 559.86L519.45 556.94L519.7 554.21L519.95 551.72L520.2 549.5L520.45 547.61L520.7 546.07L520.95 544.91L521.2 544.16L521.45 543.82L521.7 543.9L521.95 544.41L522.2 545.33L522.45 546.64L522.7 548.33L522.95 550.35L523.2 552.68L523.45 555.28L523.7 558.09L523.95 561.07L524.2 564.15L524.45 567.3L524.7 570.45L524.95 573.53L525.2 576.51L525.45 579.32L525.7 581.92L525.95 584.25L526.2 586.27L526.45 587.96L526.7 589.27L526.95 590.19L527.2 590.7L527.45 590.78L527.7 590.44L527.95 589.69L528.2 588.53L528.45 586.99L528.7 585.1L528.95 582.88L529.2 580.39L529.45 577.66L529.7 574.74L529.95 571.69L530.2 568.56L530.45 565.41L530.7 562.29L530.95 559.26L531.2 556.38L531.45 553.69L531.7 551.25L531.95 549.1L532.2 547.27L532.45 545.81L532.7 544.73L532.95 544.06L533.2 543.8L533.45 543.97L533.7 544.56L533.95 545.56L534.2 546.95L534.45 548.7L534.7 550.79L534.95 553.18L535.2 555.82L535.45 558.67L535.7 561.68L535.95 564.78L536.2 567.93L536.45 571.07L536.7 574.14L536.95 577.09L537.2 579.86L537.45 582.41L537.7 584.68L537.95 586.64L538.2 588.25L538.45 589.49L538.7 590.33L538.95 590.75L539.2 590.75L539.45 590.33L539.7 589.49L539.95 588.25L540.2 586.64" fill="none" stroke="#f6e6e8" stroke-width="1.3" stroke-dasharray="1.5 1.2"/>
<path d="M450.22 547.78L450.42 546.49L450.62 545.44L450.82 544.64L451.02 544.1L451.22 543.83L451.42 543.83L451.62 544.1L451.82 544.64L452.02 545.44L452.22 546.49L452.42 547.78M456.07 586.82L456.27 588.11L456.47 589.16L456.67 589.96L456.87 590.5L457.07 590.77L457.27 590.77L457.47 590.5L457.67 589.96L457.87 589.16L458.07 588.11L458.27 586.82M461.92 547.78L462.12 546.49L462.32 545.44L462.52 544.64L462.72 544.1L462.92 543.83L463.12 543.83L463.32 544.1L463.52 544.64L463.72 545.44L463.92 546.49L464.12 547.78M467.77 586.82L467.97 588.11L468.17 589.16L468.37 589.96L468.57 590.5L468.77 590.77L468.97 590.77L469.17 590.5L469.37 589.96L469.57 589.16L469.77 588.11L469.97 586.82M473.62 547.78L473.82 546.49L474.02 545.44L474.22 544.64L474.42 544.1L474.62 543.83L474.82 543.83L475.02 544.1L475.22 544.64L475.42 545.44L475.62 546.49L475.82 547.78M479.47 586.82L479.67 588.11L479.87 589.16L480.07 589.96L480.27 590.5L480.47 590.77L480.67 590.77L480.87 590.5L481.07 589.96L481.27 589.16L481.47 588.11L481.67 586.82M485.32 547.78L485.52 546.49L485.72 545.44L485.92 544.64L486.12 544.1L486.32 543.83L486.52 543.83L486.72 544.1L486.92 544.64L487.12 545.44L487.32 546.49L487.52 547.78M491.17 586.82L491.37 588.11L491.57 589.16L491.77 589.96L491.97 590.5L492.17 590.77L492.37 590.77L492.57 590.5L492.77 589.96L492.97 589.16L493.17 588.11L493.37 586.82M497.02 547.78L497.22 546.49L497.42 545.44L497.62 544.64L497.82 544.1L498.02 543.83L498.22 543.83L498.42 544.1L498.62 544.64L498.82 545.44L499.02 546.49L499.22 547.78M502.87 586.82L503.07 588.11L503.27 589.16L503.47 589.96L503.67 590.5L503.87 590.77L504.07 590.77L504.27 590.5L504.47 589.96L504.67 589.16L504.87 588.11L505.07 586.82M508.72 547.78L508.92 546.49L509.12 545.44L509.32 544.64L509.52 544.1L509.72 543.83L509.92 543.83L510.12 544.1L510.32 544.64L510.52 545.44L510.72 546.49L510.92 547.78M514.57 586.82L514.77 588.11L514.98 589.16L515.18 589.96L515.38 590.5L515.58 590.77L515.78 590.77L515.98 590.5L516.18 589.96L516.38 589.16L516.58 588.11M520.42 547.78L520.62 546.49L520.83 545.44L521.03 544.64L521.23 544.1L521.43 543.83L521.63 543.83L521.83 544.1L522.03 544.64L522.23 545.44L522.43 546.49M526.27 586.82L526.48 588.11L526.68 589.16L526.88 589.96L527.08 590.5L527.28 590.77L527.48 590.77L527.68 590.5L527.88 589.96L528.08 589.16L528.28 588.11M532.12 547.78L532.33 546.49L532.53 545.44L532.73 544.64L532.93 544.1L533.13 543.83L533.33 543.83L533.53 544.1L533.73 544.64L533.93 545.44L534.13 546.49M537.98 586.82L538.18 588.11L538.38 589.16L538.58 589.96L538.78 590.5L538.98 590.77L539.18 590.77L539.38 590.5L539.58 589.96L539.78 589.16L539.98 588.11" fill="none" stroke="#dd1f2b" stroke-width="2.6" stroke-linecap="round"/>
<path d="M540.4 566.6L542.4 566.6L544.4 566.6L546.4 566.6L548.4 566.6L550.4 566.6L552.4 566.6L554.4 566.6L556.4 566.6L558.4 566.6L560.4 566.6L562.4 566.6L564.4 566.6L566.4 566.6L568.4 566.6L570.4 566.6L572.4 566.6L574.4 566.6L576.4 566.6L578.4 566.6L580.4 566.6L582.4 566.6L584.4 566.6L586.4 566.6L588.4 566.6L590.4 566.6L592.4 566.6L594.4 566.6L596.4 566.6L598.4 566.6L600.4 566.6L602.4 566.6L604.4 566.6L606.4 566.6L608.4 566.6L610.4 566.6L612.4 566.6L614.4 566.6L616.4 566.6L618.4 566.6L620.4 566.6L622.4 566.6L624.4 566.6L626.4 566.6L627.9 566.6" fill="none" stroke="#5a8ad8" stroke-width="22" opacity="0.75" filter="url(#gl)"/>
<path d="M540.4 566.6L542.4 566.6L544.4 566.6L546.4 566.6L548.4 566.6L550.4 566.6L552.4 566.6L554.4 566.6L556.4 566.6L558.4 566.6L560.4 566.6L562.4 566.6L564.4 566.6L566.4 566.6L568.4 566.6L570.4 566.6L572.4 566.6L574.4 566.6L576.4 566.6L578.4 566.6L580.4 566.6L582.4 566.6L584.4 566.6L586.4 566.6L588.4 566.6L590.4 566.6L592.4 566.6L594.4 566.6L596.4 566.6L598.4 566.6L600.4 566.6L602.4 566.6L604.4 566.6L606.4 566.6L608.4 566.6L610.4 566.6L612.4 566.6L614.4 566.6L616.4 566.6L618.4 566.6L620.4 566.6L622.4 566.6L624.4 566.6L626.4 566.6L627.9 566.6" fill="none" stroke="#7aa6e8" stroke-width="8" opacity="0.45" filter="url(#gl2)"/>
<path d="M540.4 562.48L541.1 562.4L541.8 562.78L542.5 562.22L543.2 562.72L543.9 562.7L544.6 562.29L545.3 561.77L546 562.92L546.7 562.86L547.4 562.7L548.1 561.86L548.8 563.06L549.5 562.67L550.2 562.5L550.9 562.08L551.6 561.73L552.3 562.2L553 562.25L553.7 561.86L554.4 562.87L555.1 562.12L555.8 563.01L556.5 563.07L557.2 561.99L557.9 563.1L558.6 561.7L559.3 562.59L560 561.96L560.7 562.59L561.4 561.7L562.1 562.48L562.8 562.09L563.5 562.44L564.2 562.54L564.9 561.98L565.6 562.04L566.3 561.94L567 561.77L567.7 562.56L568.4 562.36L569.1 563.1L569.8 562.67L570.5 563.08L571.2 562L571.9 562.16L572.6 562.97L573.3 562.03L574 562.31L574.7 562.41L575.4 562.42L576.1 562.07L576.8 562.01L577.5 562.16L578.2 561.84L578.9 562.01L579.6 562.61L580.3 562.25L581 562.34L581.7 563.01L582.4 562.3L583.1 562.09L583.8 562.05L584.5 562.93L585.2 561.87L585.9 562.8L586.6 562.38L587.3 562.41L588 561.73L588.7 561.73L589.4 562.85L590.1 562.57L590.8 562.31L591.5 562.68L592.2 562.58L592.9 562.41L593.6 561.7L594.3 563.09L595 562.37L595.7 561.94L596.4 562.56L597.1 562.55L597.8 561.94L598.5 562.51L599.2 562.62L599.9 561.91L600.6 561.71L601.3 562.32L602 562.68L602.7 561.88L603.4 562.4L604.1 562.75L604.8 562.2L605.5 562.2L606.2 563.09L606.9 562.29L607.6 562.34L608.3 562.73L609 562.59L609.7 562.05L610.4 563.06L611.1 562.33L611.8 562.14L612.5 561.83L613.2 561.74L613.9 562.53L614.6 561.85L615.3 563.09L616 562.52L616.7 561.94L617.4 561.92L618.1 562.75L618.8 562.95L619.5 562.36L620.2 562.86L620.9 562.58L621.6 562.6L622.3 562.89L623 562.29L623.7 562.91L624.4 562.16L625.1 561.8L625.8 562.88L626.5 563.02L627.2 562.61L627.9 561.83L627.9 571.15L627.2 571.33L626.5 570.22L625.8 570.67L625.1 571.07L624.4 570.19L623.7 570.17L623 571.11L622.3 570.16L621.6 571.04L620.9 571L620.2 570.5L619.5 571.42L618.8 570.47L618.1 570.15L617.4 570.53L616.7 570.28L616 570.9L615.3 570.97L614.6 570.93L613.9 571.37L613.2 570.96L612.5 570.11L611.8 570.87L611.1 570.91L610.4 571.28L609.7 570.63L609 571.14L608.3 571.14L607.6 570.56L606.9 570.36L606.2 570.6L605.5 570.36L604.8 570.73L604.1 571.29L603.4 570.41L602.7 570.63L602 571.17L601.3 571L600.6 571.21L599.9 570.18L599.2 570.68L598.5 570.61L597.8 570.61L597.1 571.12L596.4 571.48L595.7 571.35L595 571L594.3 571.35L593.6 570.49L592.9 571L592.2 571.2L591.5 571.05L590.8 571.14L590.1 570.94L589.4 571.18L588.7 571.37L588 570.98L587.3 570.74L586.6 570.61L585.9 570.8L585.2 571.11L584.5 571.3L583.8 570.69L583.1 571.11L582.4 571.5L581.7 571.35L581 571.4L580.3 570.15L579.6 570.71L578.9 570.63L578.2 571.42L577.5 570.63L576.8 570.63L576.1 570.57L575.4 571.13L574.7 570.77L574 571.23L573.3 570.77L572.6 571.26L571.9 570.78L571.2 571.04L570.5 570.6L569.8 571.4L569.1 571.49L568.4 570.6L567.7 570.11L567 570.84L566.3 571.39L565.6 571.09L564.9 571.46L564.2 570.69L563.5 571.3L562.8 571.48L562.1 570.54L561.4 570.7L560.7 570.41L560 571.46L559.3 570.56L558.6 570.97L557.9 571.13L557.2 570.55L556.5 571.13L555.8 570.97L555.1 571.17L554.4 571.36L553.7 570.3L553 571.34L552.3 570.29L551.6 570.69L550.9 571.45L550.2 570.61L549.5 570.29L548.8 570.26L548.1 570.2L547.4 571.04L546.7 570.72L546 570.41L545.3 571.48L544.6 570.62L543.9 570.51L543.2 571.4L542.5 570.18L541.8 571.07L541.1 570.62L540.4 570.74Z" fill="#f1d9dd" filter="url(#bl05)"/>
<path d="M540.4 563.21L541.1 563.34L541.8 563.35L542.5 563.01L543.2 563.44L543.9 562.89L544.6 563.42L545.3 563.64L546 563.06L546.7 563.37L547.4 563.27L548.1 563.73L548.8 563.66L549.5 563.17L550.2 563.62L550.9 563.52L551.6 562.98L552.3 563.46L553 563.65L553.7 562.9L554.4 563.46L555.1 563.01L555.8 563.36L556.5 563.16L557.2 563.05L557.9 563.11L558.6 563.6L559.3 563.8L560 563.13L560.7 563.49L561.4 563.3L562.1 563.73L562.8 563.16L563.5 563.06L564.2 562.87L564.9 563.53L565.6 563.26L566.3 563.03L567 563.03L567.7 563.35L568.4 563.27L569.1 563.04L569.8 563.69L570.5 563.29L571.2 563.11L571.9 562.94L572.6 563.52L573.3 563.21L574 563.82L574.7 563.68L575.4 563.39L576.1 563.84L576.8 563.6L577.5 563.79L578.2 563.45L578.9 563.39L579.6 563.11L580.3 563.53L581 562.88L581.7 563.2L582.4 563.37L583.1 563.7L583.8 562.94L584.5 563L585.2 563.34L585.9 563.47L586.6 563.82L587.3 563.71L588 563.54L588.7 562.88L589.4 563.42L590.1 563.48L590.8 562.9L591.5 562.88L592.2 563.8L592.9 563.77L593.6 563.25L594.3 563.02L595 562.87L595.7 562.91L596.4 563.47L597.1 563.12L597.8 563.83L598.5 563.09L599.2 563.75L599.9 563.31L600.6 563L601.3 562.85L602 563.42L602.7 563.42L603.4 562.99L604.1 563.53L604.8 563.19L605.5 563.2L606.2 563.04L606.9 563.03L607.6 562.9L608.3 563.76L609 563.21L609.7 562.91L610.4 563.36L611.1 562.91L611.8 562.96L612.5 563.28L613.2 562.97L613.9 563.3L614.6 563.63L615.3 563.73L616 563.5L616.7 563.03L617.4 563.1L618.1 563.31L618.8 562.92L619.5 563.77L620.2 563.8L620.9 563.19L621.6 563.1L622.3 563.68L623 562.85L623.7 562.87L624.4 563.38L625.1 562.91L625.8 563.77L626.5 563.15L627.2 563.68L627.9 563.71L627.9 569.82L627.2 569.81L626.5 569.72L625.8 569.72L625.1 570.05L624.4 570.17L623.7 570.15L623 570.01L622.3 570.26L621.6 570.04L620.9 569.55L620.2 569.47L619.5 570.25L618.8 569.96L618.1 570.34L617.4 569.8L616.7 570.19L616 569.74L615.3 569.99L614.6 570L613.9 569.39L613.2 570.1L612.5 570.3L611.8 570.07L611.1 569.65L610.4 569.85L609.7 569.63L609 569.66L608.3 569.52L607.6 570.02L606.9 569.48L606.2 569.98L605.5 570.15L604.8 570.04L604.1 569.37L603.4 570.24L602.7 569.96L602 569.53L601.3 570.08L600.6 569.77L599.9 569.46L599.2 569.42L598.5 569.54L597.8 570.04L597.1 570.01L596.4 570.04L595.7 570.28L595 569.91L594.3 569.78L593.6 569.63L592.9 570.14L592.2 570.25L591.5 569.62L590.8 569.77L590.1 569.64L589.4 569.46L588.7 570.04L588 569.7L587.3 570.28L586.6 569.55L585.9 569.61L585.2 570.2L584.5 569.79L583.8 570.25L583.1 570.07L582.4 570.24L581.7 570.11L581 569.43L580.3 569.42L579.6 570.23L578.9 569.51L578.2 569.52L577.5 569.5L576.8 569.44L576.1 569.88L575.4 569.81L574.7 569.89L574 569.49L573.3 569.57L572.6 569.51L571.9 569.41L571.2 569.97L570.5 570.09L569.8 570.2L569.1 569.8L568.4 569.37L567.7 569.89L567 569.6L566.3 570.06L565.6 569.8L564.9 569.89L564.2 570.22L563.5 569.76L562.8 569.82L562.1 569.45L561.4 570.12L560.7 569.43L560 569.84L559.3 570.29L558.6 569.95L557.9 569.61L557.2 570.07L556.5 569.86L555.8 569.4L555.1 569.65L554.4 569.55L553.7 569.44L553 569.81L552.3 569.81L551.6 570.14L550.9 570.24L550.2 569.65L549.5 569.57L548.8 570L548.1 569.84L547.4 570.12L546.7 569.63L546 569.54L545.3 569.7L544.6 569.75L543.9 569.69L543.2 570.03L542.5 569.65L541.8 569.75L541.1 570.01L540.4 569.93Z" fill="#e1222d" filter="url(#bl05)"/>
<path d="M540.4 565.24L541.1 565.15L541.8 565.23L542.5 564.81L543.2 564.82L543.9 564.83L544.6 564.94L545.3 564.83L546 565.05L546.7 565.28L547.4 564.91L548.1 565.32L548.8 564.65L549.5 565.09L550.2 565.28L550.9 564.66L551.6 565.16L552.3 565.26L553 564.9L553.7 564.92L554.4 564.52L555.1 565.29L555.8 564.78L556.5 564.6L557.2 565.28L557.9 564.99L558.6 564.84L559.3 565.05L560 564.73L560.7 564.76L561.4 564.95L562.1 565.18L562.8 564.83L563.5 565.3L564.2 564.95L564.9 564.65L565.6 564.84L566.3 564.72L567 564.99L567.7 564.71L568.4 564.87L569.1 564.56L569.8 564.77L570.5 565.11L571.2 565.07L571.9 564.85L572.6 564.61L573.3 565.02L574 564.85L574.7 564.99L575.4 565.15L576.1 565.2L576.8 565.09L577.5 564.86L578.2 565L578.9 564.88L579.6 565.25L580.3 565.3L581 564.64L581.7 564.84L582.4 564.78L583.1 564.66L583.8 564.55L584.5 564.53L585.2 565.1L585.9 564.9L586.6 565.24L587.3 564.78L588 564.99L588.7 565L589.4 564.97L590.1 564.62L590.8 565.3L591.5 565.17L592.2 565L592.9 565.31L593.6 564.84L594.3 565.31L595 564.62L595.7 565.11L596.4 564.99L597.1 565.09L597.8 564.92L598.5 564.98L599.2 564.92L599.9 565.04L600.6 565.13L601.3 564.87L602 565.17L602.7 565.27L603.4 565.24L604.1 564.88L604.8 564.82L605.5 565.06L606.2 565.16L606.9 564.84L607.6 565.01L608.3 564.77L609 564.59L609.7 565.05L610.4 564.59L611.1 564.69L611.8 564.81L612.5 564.77L613.2 565.17L613.9 564.74L614.6 564.59L615.3 565.27L616 565.11L616.7 564.93L617.4 565.3L618.1 564.72L618.8 564.61L619.5 564.89L620.2 565.32L620.9 564.89L621.6 564.62L622.3 564.86L623 565.01L623.7 565.09L624.4 564.79L625.1 565.26L625.8 565.23L626.5 565.09L627.2 564.93L627.9 565.24L627.9 568.34L627.2 568.6L626.5 568.17L625.8 568.06L625.1 568.66L624.4 568.38L623.7 568.02L623 568.25L622.3 568.1L621.6 568L620.9 567.92L620.2 568.2L619.5 568.67L618.8 568.53L618.1 568.25L617.4 568.06L616.7 568.24L616 568.45L615.3 568.53L614.6 568.21L613.9 568.45L613.2 568.1L612.5 568.12L611.8 568.14L611.1 567.97L610.4 568.25L609.7 568.43L609 568.01L608.3 568.33L607.6 568.14L606.9 568.48L606.2 568.58L605.5 567.93L604.8 568.59L604.1 568.21L603.4 568.32L602.7 568.61L602 568.58L601.3 568.17L600.6 568.19L599.9 568.34L599.2 567.92L598.5 568.48L597.8 568.07L597.1 568.16L596.4 568.45L595.7 568.2L595 568.48L594.3 568.11L593.6 567.92L592.9 568.22L592.2 568.06L591.5 568.53L590.8 568.63L590.1 567.95L589.4 568.45L588.7 568.45L588 568.19L587.3 568.35L586.6 568.59L585.9 568.56L585.2 568.14L584.5 568.49L583.8 568.2L583.1 568.65L582.4 568.58L581.7 568.18L581 567.99L580.3 568.01L579.6 568.14L578.9 568.43L578.2 568.52L577.5 568.38L576.8 567.92L576.1 568.02L575.4 568.3L574.7 568.6L574 568.52L573.3 568.25L572.6 568.51L571.9 568.66L571.2 568.64L570.5 568.6L569.8 568.53L569.1 568.08L568.4 568.48L567.7 568.44L567 568L566.3 568.45L565.6 568.13L564.9 567.96L564.2 568.3L563.5 568.43L562.8 568.68L562.1 568.16L561.4 568.61L560.7 568.02L560 568.51L559.3 568.18L558.6 567.97L557.9 568.32L557.2 568.68L556.5 567.92L555.8 567.98L555.1 567.99L554.4 568.33L553.7 568.56L553 568.48L552.3 568.13L551.6 568.13L550.9 568.49L550.2 567.95L549.5 568.24L548.8 568.24L548.1 567.97L547.4 568.22L546.7 568.26L546 568.58L545.3 568.07L544.6 568.55L543.9 568.03L543.2 568.32L542.5 568.04L541.8 568.39L541.1 568.63L540.4 568.46Z" fill="#a30f1d" filter="url(#bl05)"/>
</g>
<rect x="68.5" y="519.5" width="275.8" height="96.7" stroke="#1e2150" stroke-width="1" fill="none" />
<line x1="65.5" y1="536.1" x2="68" y2="536.1" stroke="#757575" stroke-width="1" />
<line x1="65.5" y1="568.5" x2="68" y2="568.5" stroke="#757575" stroke-width="1" />
<line x1="65.5" y1="600.8" x2="68" y2="600.8" stroke="#757575" stroke-width="1" />
<line x1="127.4" y1="616.7" x2="127.4" y2="619.2" stroke="#757575" stroke-width="1" />
<line x1="186.8" y1="616.7" x2="186.8" y2="619.2" stroke="#757575" stroke-width="1" />
<line x1="246.2" y1="616.7" x2="246.2" y2="619.2" stroke="#757575" stroke-width="1" />
<line x1="305.6" y1="616.7" x2="305.6" y2="619.2" stroke="#757575" stroke-width="1" />
<rect x="352.7" y="519.5" width="274.7" height="96.7" stroke="#1e2150" stroke-width="1" fill="none" />
<line x1="349.7" y1="536.1" x2="352.2" y2="536.1" stroke="#757575" stroke-width="1" />
<line x1="349.7" y1="568.5" x2="352.2" y2="568.5" stroke="#757575" stroke-width="1" />
<line x1="349.7" y1="600.8" x2="352.2" y2="600.8" stroke="#757575" stroke-width="1" />
<line x1="411.6" y1="616.7" x2="411.6" y2="619.2" stroke="#757575" stroke-width="1" />
<line x1="471" y1="616.7" x2="471" y2="619.2" stroke="#757575" stroke-width="1" />
<line x1="530.4" y1="616.7" x2="530.4" y2="619.2" stroke="#757575" stroke-width="1" />
<line x1="589.8" y1="616.7" x2="589.8" y2="619.2" stroke="#757575" stroke-width="1" />
<text x="62" y="539.41" font-size="9" text-anchor="end" fill="#231f20" >100</text>
<text x="62" y="571.81" font-size="9" text-anchor="end" fill="#231f20" >0</text>
<text x="62" y="604.11" font-size="9" text-anchor="end" fill="#231f20" >−100</text>
<line x1="159.9" y1="519.0" x2="159.9" y2="616.7" stroke="#fff" stroke-width="1.6" stroke-dasharray="2.2 2.1"/>
<line x1="251.7" y1="519.0" x2="251.7" y2="616.7" stroke="#fff" stroke-width="1.6" stroke-dasharray="2.2 2.1"/>
<line x1="447.2" y1="519.0" x2="447.2" y2="616.7" stroke="#fff" stroke-width="1.6" stroke-dasharray="2.2 2.1"/>
<line x1="540.4" y1="519.0" x2="540.4" y2="616.7" stroke="#fff" stroke-width="1.6" stroke-dasharray="2.2 2.1"/>
<text x="73.7" y="532.1" font-size="9" text-anchor="start" fill="#fff" >unlock</text>
<text x="164" y="532.1" font-size="9" text-anchor="start" fill="#fff" >lock</text>
<text x="258" y="532.1" font-size="9" text-anchor="start" fill="#fff" >unlock</text>
<text x="357.5" y="532.1" font-size="9" text-anchor="start" fill="#fff" >fixed</text>
<text x="452" y="532.1" font-size="9" text-anchor="start" fill="#fff" >modulated</text>
<text x="545" y="532.1" font-size="9" text-anchor="start" fill="#fff" >fixed</text>
<text x="219.4" y="631.8" font-size="9" text-anchor="middle" fill="#231f20" >Time (5 s/div)</text>
<text x="503.2" y="631.8" font-size="9" text-anchor="middle" fill="#231f20" >Time (5 s/div)</text>
<text transform="translate(24.5,568) rotate(-90)" font-size="9" text-anchor="middle" fill="#231f20">Δ<tspan font-style="italic">f</tspan></text>
<text transform="translate(36,568) rotate(-90)" font-size="9" text-anchor="middle" fill="#231f20">(kHz + 2.1075 GHz)</text>
<defs><linearGradient id="cb" x1="0" y1="0" x2="0" y2="1"><stop offset="0" stop-color="#730a18"/><stop offset="0.12" stop-color="#a8141f"/><stop offset="0.3" stop-color="#dc2230"/><stop offset="0.38" stop-color="#e4424e"/><stop offset="0.5" stop-color="#ffffff"/><stop offset="0.6" stop-color="#9ea6d6"/><stop offset="0.68" stop-color="#4a62b2"/><stop offset="0.85" stop-color="#2c3f96"/><stop offset="1" stop-color="#1a1d5a"/></linearGradient></defs>
<rect x="636.5" y="519.0" width="9.8" height="97.7" fill="url(#cb)" stroke="#555" stroke-width="0.5"/>
<line x1="646.3" y1="518.9" x2="649" y2="518.9" stroke="#757575" stroke-width="1" />
<text x="653.3" y="522.21" font-size="9" text-anchor="start" fill="#231f20" >0</text>
<line x1="646.3" y1="551.7" x2="649" y2="551.7" stroke="#757575" stroke-width="1" />
<text x="653.3" y="555.01" font-size="9" text-anchor="start" fill="#231f20" >−20</text>
<line x1="646.3" y1="583.8" x2="649" y2="583.8" stroke="#757575" stroke-width="1" />
<text x="653.3" y="587.11" font-size="9" text-anchor="start" fill="#231f20" >−40</text>
<line x1="646.3" y1="616.6" x2="649" y2="616.6" stroke="#757575" stroke-width="1" />
<text x="653.3" y="619.91" font-size="9" text-anchor="start" fill="#231f20" >−60</text>
<text transform="translate(682,567.5) rotate(-90)" font-size="9" text-anchor="middle" fill="#231f20">RF power (dBm)</text>
</svg></body></html>
